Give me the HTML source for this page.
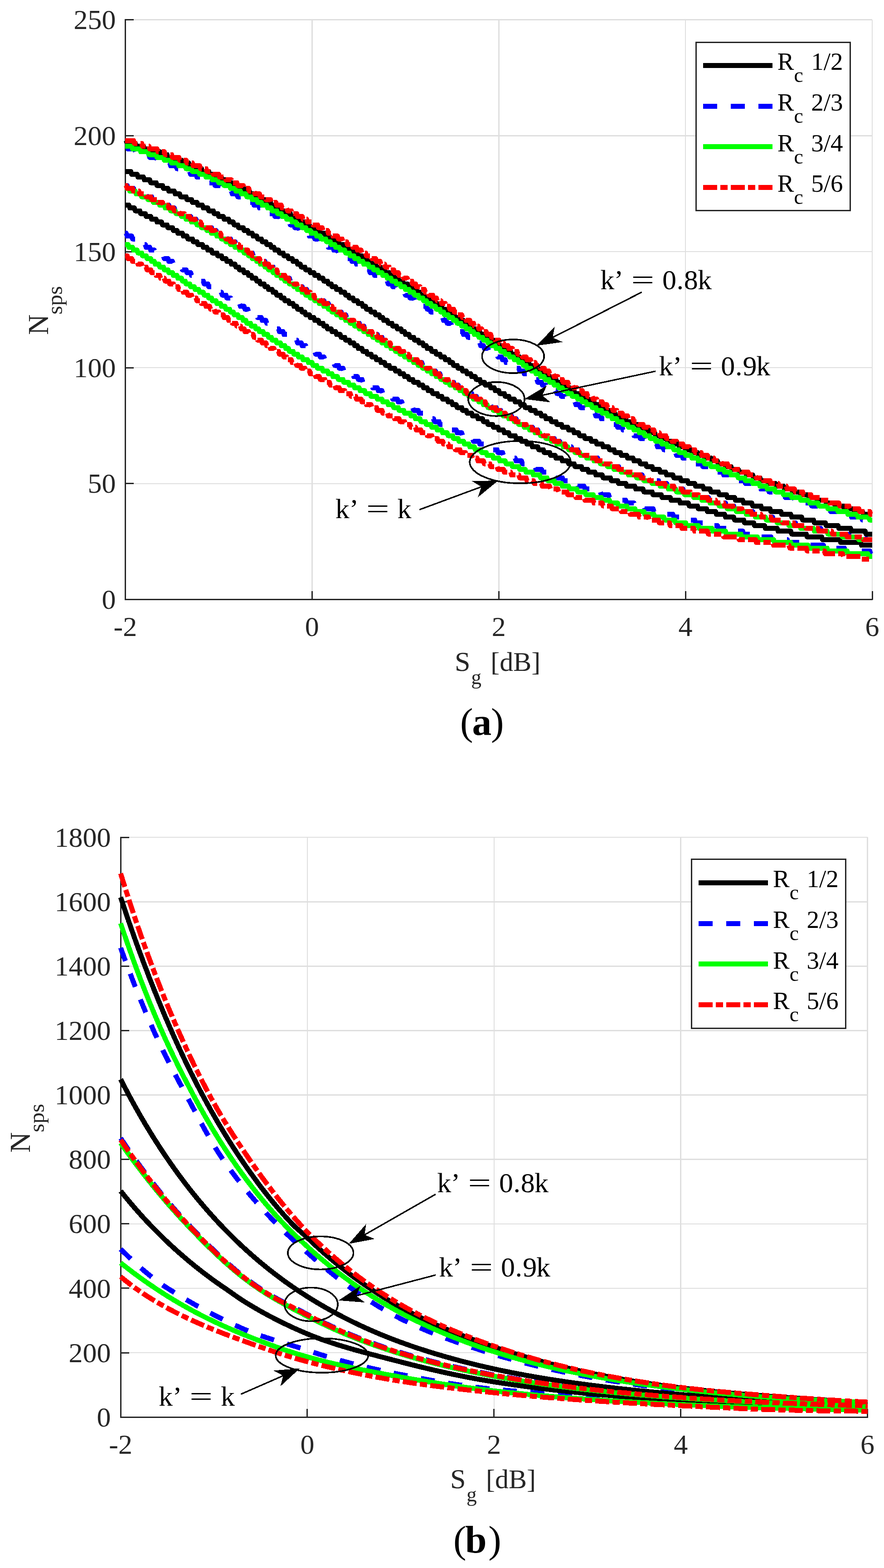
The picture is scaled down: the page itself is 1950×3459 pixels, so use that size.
<!DOCTYPE html><html><head><meta charset="utf-8"><title>Figure</title><style>html,body{margin:0;padding:0;background:#fff;}svg{display:block;}</style></head><body><svg width="1950" height="3459" viewBox="0 0 1950 3459">
<rect width="1950" height="3459" fill="#fff"/>
<g stroke="#dfdfdf" stroke-width="2.6" shape-rendering="crispEdges"><line x1="276.4" y1="43.5" x2="276.4" y2="1322.7"/><line x1="688.3" y1="43.5" x2="688.3" y2="1322.7"/><line x1="1100.2" y1="43.5" x2="1100.2" y2="1322.7"/><line x1="1512.1" y1="43.5" x2="1512.1" y2="1322.7"/><line x1="1924" y1="43.5" x2="1924" y2="1322.7"/><line x1="276.4" y1="1322.7" x2="1924" y2="1322.7"/><line x1="276.4" y1="1066.86" x2="1924" y2="1066.86"/><line x1="276.4" y1="811.02" x2="1924" y2="811.02"/><line x1="276.4" y1="555.18" x2="1924" y2="555.18"/><line x1="276.4" y1="299.34" x2="1924" y2="299.34"/><line x1="276.4" y1="43.5" x2="1924" y2="43.5"/></g>
<g stroke="#262626" stroke-width="3" shape-rendering="crispEdges"><path d="M276.4 42.3 V1322.7 H1925.2" fill="none"/><line x1="276.4" y1="1322.7" x2="276.4" y2="1304.2"/><line x1="688.3" y1="1322.7" x2="688.3" y2="1304.2"/><line x1="1100.2" y1="1322.7" x2="1100.2" y2="1304.2"/><line x1="1512.1" y1="1322.7" x2="1512.1" y2="1304.2"/><line x1="1924" y1="1322.7" x2="1924" y2="1304.2"/><line x1="276.4" y1="1322.7" x2="294.9" y2="1322.7"/><line x1="276.4" y1="1066.86" x2="294.9" y2="1066.86"/><line x1="276.4" y1="811.02" x2="294.9" y2="811.02"/><line x1="276.4" y1="555.18" x2="294.9" y2="555.18"/><line x1="276.4" y1="299.34" x2="294.9" y2="299.34"/><line x1="276.4" y1="43.5" x2="294.9" y2="43.5"/></g>
<g font-family='"Liberation Serif", "Times New Roman", serif' font-size="62" fill="#262626"><text x="255.56" y="1343.3" text-anchor="end">0</text><text x="255.56" y="1087.46" text-anchor="end">50</text><text x="255.56" y="831.62" text-anchor="end">100</text><text x="255.56" y="575.78" text-anchor="end">150</text><text x="255.56" y="319.94" text-anchor="end">200</text><text x="255.56" y="64.1" text-anchor="end">250</text><text x="276.4" y="1403.3" text-anchor="middle">-2</text><text x="688.3" y="1403.3" text-anchor="middle">0</text><text x="1100.2" y="1403.3" text-anchor="middle">2</text><text x="1512.1" y="1403.3" text-anchor="middle">4</text><text x="1924" y="1403.3" text-anchor="middle">6</text></g>
<g shape-rendering="crispEdges">
<path d="M276.4 322.4 L280.4 322.4 L282.4 328.6 L296.4 328.6 L298.4 334.8 L312.4 334.8 L314.4 341.0 L328.4 341.0 L330.4 347.2 L344.4 347.2 L346.4 353.4 L360.4 353.4 L362.4 359.6 L374.4 359.6 L376.4 365.8 L388.4 365.8 L390.4 372.0 L404.4 372.0 L406.4 378.2 L418.4 378.2 L420.4 384.4 L432.4 384.4 L434.4 390.6 L446.4 390.6 L448.4 396.8 L458.4 396.8 L460.4 403.0 L472.4 403.0 L474.4 409.2 L486.4 409.2 L488.4 415.4 L498.4 415.4 L500.4 421.6 L510.4 421.6 L512.4 427.8 L522.4 427.8 L524.4 434.0 L534.4 434.0 L536.4 440.2 L546.4 440.2 L548.4 446.4 L558.4 446.4 L560.4 452.6 L570.4 452.6 L572.4 458.8 L582.4 458.8 L584.4 465.0 L592.4 465.0 L594.4 471.2 L604.4 471.2 L606.4 477.4 L616.4 477.4 L618.4 483.6 L626.4 483.6 L628.4 489.8 L638.4 489.8 L640.4 496.0 L648.4 496.0 L650.4 502.2 L658.4 502.2 L660.4 508.4 L670.4 508.4 L672.4 514.6 L680.4 514.6 L682.4 520.8 L692.4 520.8 L694.4 527.0 L702.4 527.0 L704.4 533.2 L712.4 533.2 L714.4 539.4 L722.4 539.4 L724.4 545.6 L734.4 545.6 L736.4 551.8 L744.4 551.8 L746.4 558.0 L754.4 558.0 L756.4 564.2 L764.4 564.2 L766.4 570.4 L774.4 570.4 L776.4 576.6 L784.4 576.6 L786.4 582.8 L794.4 582.8 L796.4 589.0 L804.4 589.0 L806.4 595.2 L814.4 595.2 L816.4 601.4 L824.4 601.4 L826.4 607.6 L834.4 607.6 L836.4 613.8 L844.4 613.8 L846.4 620.0 L854.4 620.0 L856.4 626.2 L864.4 626.2 L866.4 632.4 L872.4 632.4 L874.4 638.6 L882.4 638.6 L884.4 644.8 L892.4 644.8 L894.4 651.0 L902.4 651.0 L904.4 657.2 L912.4 657.2 L914.4 663.4 L920.4 663.4 L922.4 669.6 L930.4 669.6 L932.4 675.8 L940.4 675.8 L942.4 682.0 L948.4 682.0 L950.4 688.2 L958.4 688.2 L960.4 694.4 L966.4 694.4 L968.4 700.6 L976.4 700.6 L978.4 706.8 L984.4 706.8 L986.4 713.0 L994.4 713.0 L996.4 719.2 L1002.4 719.2 L1004.4 725.4 L1012.4 725.4 L1014.4 731.6 L1020.4 731.6 L1022.4 737.8 L1030.4 737.8 L1032.4 744.0 L1040.4 744.0 L1042.4 750.2 L1048.4 750.2 L1050.4 756.4 L1058.4 756.4 L1060.4 762.6 L1066.4 762.6 L1068.4 768.8 L1076.4 768.8 L1078.4 775.0 L1086.4 775.0 L1088.4 781.2 L1096.4 781.2 L1098.4 787.4 L1106.4 787.4 L1108.4 793.6 L1114.4 793.6 L1116.4 799.8 L1124.4 799.8 L1126.4 806.0 L1134.4 806.0 L1136.4 812.2 L1144.4 812.2 L1146.4 818.4 L1154.4 818.4 L1156.4 824.6 L1164.4 824.6 L1166.4 830.8 L1174.4 830.8 L1176.4 837.0 L1184.4 837.0 L1186.4 843.2 L1194.4 843.2 L1196.4 849.4 L1204.4 849.4 L1206.4 855.6 L1214.4 855.6 L1216.4 861.8 L1226.4 861.8 L1228.4 868.0 L1236.4 868.0 L1238.4 874.2 L1246.4 874.2 L1248.4 880.4 L1256.4 880.4 L1258.4 886.6 L1268.4 886.6 L1270.4 892.8 L1278.4 892.8 L1280.4 899.0 L1290.4 899.0 L1292.4 905.2 L1302.4 905.2 L1304.4 911.4 L1312.4 911.4 L1314.4 917.6 L1324.4 917.6 L1326.4 923.8 L1336.4 923.8 L1338.4 930.0 L1348.4 930.0 L1350.4 936.2 L1360.4 936.2 L1362.4 942.4 L1372.4 942.4 L1374.4 948.6 L1384.4 948.6 L1386.4 954.8 L1396.4 954.8 L1398.4 961.0 L1410.4 961.0 L1412.4 967.2 L1422.4 967.2 L1424.4 973.4 L1436.4 973.4 L1438.4 979.6 L1448.4 979.6 L1450.4 985.8 L1462.4 985.8 L1464.4 992.0 L1476.4 992.0 L1478.4 998.2 L1490.4 998.2 L1492.4 1004.4 L1504.4 1004.4 L1506.4 1010.6 L1518.4 1010.6 L1520.4 1016.8 L1532.4 1016.8 L1534.4 1023.0 L1548.4 1023.0 L1550.4 1029.2 L1562.4 1029.2 L1564.4 1035.4 L1578.4 1035.4 L1580.4 1041.6 L1594.4 1041.6 L1596.4 1047.8 L1608.4 1047.8 L1610.4 1054.0 L1624.4 1054.0 L1626.4 1060.2 L1642.4 1060.2 L1644.4 1066.4 L1658.4 1066.4 L1660.4 1072.6 L1676.4 1072.6 L1678.4 1078.8 L1694.4 1078.8 L1696.4 1085.0 L1712.4 1085.0 L1714.4 1091.2 L1730.4 1091.2 L1732.4 1097.4 L1750.4 1097.4 L1752.4 1103.6 L1768.4 1103.6 L1770.4 1109.8 L1788.4 1109.8 L1790.4 1116.0 L1810.4 1116.0 L1812.4 1122.2 L1830.4 1122.2 L1832.4 1128.4 L1852.4 1128.4 L1854.4 1134.6 L1876.4 1134.6 L1878.4 1140.8 L1900.4 1140.8 L1902.4 1147.0 L1924.0 1147.0" fill="none" stroke="#0000ff" stroke-width="11" stroke-linejoin="round" stroke-miterlimit="10" stroke-dasharray="31 30"/>
<path d="M276.4 409.2 L280.4 409.2 L282.4 415.4 L294.4 415.4 L296.4 421.6 L308.4 421.6 L310.4 427.8 L322.4 427.8 L324.4 434.0 L334.4 434.0 L336.4 440.2 L348.4 440.2 L350.4 446.4 L360.4 446.4 L362.4 452.6 L372.4 452.6 L374.4 458.8 L384.4 458.8 L386.4 465.0 L396.4 465.0 L398.4 471.2 L408.4 471.2 L410.4 477.4 L420.4 477.4 L422.4 483.6 L432.4 483.6 L434.4 489.8 L442.4 489.8 L444.4 496.0 L454.4 496.0 L456.4 502.2 L466.4 502.2 L468.4 508.4 L476.4 508.4 L478.4 514.6 L486.4 514.6 L488.4 520.8 L498.4 520.8 L500.4 527.0 L508.4 527.0 L510.4 533.2 L518.4 533.2 L520.4 539.4 L528.4 539.4 L530.4 545.6 L538.4 545.6 L540.4 551.8 L546.4 551.8 L548.4 558.0 L556.4 558.0 L558.4 564.2 L566.4 564.2 L568.4 570.4 L574.4 570.4 L576.4 576.6 L584.4 576.6 L586.4 582.8 L592.4 582.8 L594.4 589.0 L602.4 589.0 L604.4 595.2 L610.4 595.2 L612.4 601.4 L620.4 601.4 L622.4 607.6 L628.4 607.6 L630.4 613.8 L638.4 613.8 L640.4 620.0 L648.4 620.0 L650.4 626.2 L656.4 626.2 L658.4 632.4 L666.4 632.4 L668.4 638.6 L676.4 638.6 L678.4 644.8 L684.4 644.8 L686.4 651.0 L694.4 651.0 L696.4 657.2 L704.4 657.2 L706.4 663.4 L714.4 663.4 L716.4 669.6 L724.4 669.6 L726.4 675.8 L734.4 675.8 L736.4 682.0 L742.4 682.0 L744.4 688.2 L752.4 688.2 L754.4 694.4 L762.4 694.4 L764.4 700.6 L772.4 700.6 L774.4 706.8 L782.4 706.8 L784.4 713.0 L792.4 713.0 L794.4 719.2 L802.4 719.2 L804.4 725.4 L812.4 725.4 L814.4 731.6 L822.4 731.6 L824.4 737.8 L832.4 737.8 L834.4 744.0 L842.4 744.0 L844.4 750.2 L852.4 750.2 L854.4 756.4 L862.4 756.4 L864.4 762.6 L870.4 762.6 L872.4 768.8 L880.4 768.8 L882.4 775.0 L890.4 775.0 L892.4 781.2 L900.4 781.2 L902.4 787.4 L910.4 787.4 L912.4 793.6 L920.4 793.6 L922.4 799.8 L930.4 799.8 L932.4 806.0 L940.4 806.0 L942.4 812.2 L950.4 812.2 L952.4 818.4 L960.4 818.4 L962.4 824.6 L970.4 824.6 L972.4 830.8 L980.4 830.8 L982.4 837.0 L990.4 837.0 L992.4 843.2 L1000.4 843.2 L1002.4 849.4 L1010.4 849.4 L1012.4 855.6 L1020.4 855.6 L1022.4 861.8 L1030.4 861.8 L1032.4 868.0 L1040.4 868.0 L1042.4 874.2 L1050.4 874.2 L1052.4 880.4 L1060.4 880.4 L1062.4 886.6 L1072.4 886.6 L1074.4 892.8 L1082.4 892.8 L1084.4 899.0 L1094.4 899.0 L1096.4 905.2 L1104.4 905.2 L1106.4 911.4 L1116.4 911.4 L1118.4 917.6 L1128.4 917.6 L1130.4 923.8 L1138.4 923.8 L1140.4 930.0 L1150.4 930.0 L1152.4 936.2 L1162.4 936.2 L1164.4 942.4 L1174.4 942.4 L1176.4 948.6 L1186.4 948.6 L1188.4 954.8 L1198.4 954.8 L1200.4 961.0 L1210.4 961.0 L1212.4 967.2 L1222.4 967.2 L1224.4 973.4 L1234.4 973.4 L1236.4 979.6 L1248.4 979.6 L1250.4 985.8 L1260.4 985.8 L1262.4 992.0 L1274.4 992.0 L1276.4 998.2 L1288.4 998.2 L1290.4 1004.4 L1302.4 1004.4 L1304.4 1010.6 L1318.4 1010.6 L1320.4 1016.8 L1332.4 1016.8 L1334.4 1023.0 L1348.4 1023.0 L1350.4 1029.2 L1364.4 1029.2 L1366.4 1035.4 L1382.4 1035.4 L1384.4 1041.6 L1398.4 1041.6 L1400.4 1047.8 L1416.4 1047.8 L1418.4 1054.0 L1434.4 1054.0 L1436.4 1060.2 L1452.4 1060.2 L1454.4 1066.4 L1470.4 1066.4 L1472.4 1072.6 L1488.4 1072.6 L1490.4 1078.8 L1506.4 1078.8 L1508.4 1085.0 L1526.4 1085.0 L1528.4 1091.2 L1544.4 1091.2 L1546.4 1097.4 L1562.4 1097.4 L1564.4 1103.6 L1580.4 1103.6 L1582.4 1109.8 L1600.4 1109.8 L1602.4 1116.0 L1618.4 1116.0 L1620.4 1122.2 L1638.4 1122.2 L1640.4 1128.4 L1660.4 1128.4 L1662.4 1134.6 L1680.4 1134.6 L1682.4 1140.8 L1704.4 1140.8 L1706.4 1147.0 L1728.4 1147.0 L1730.4 1153.2 L1754.4 1153.2 L1756.4 1159.4 L1782.4 1159.4 L1784.4 1165.6 L1810.4 1165.6 L1812.4 1171.8 L1840.4 1171.8 L1842.4 1178.0 L1872.4 1178.0 L1874.4 1184.2 L1908.4 1184.2 L1910.4 1190.4 L1924.0 1190.4" fill="none" stroke="#0000ff" stroke-width="11" stroke-linejoin="round" stroke-miterlimit="10" stroke-dasharray="31 30"/>
<path d="M276.4 514.6 L278.4 514.6 L280.4 520.8 L290.4 520.8 L292.4 527.0 L300.4 527.0 L302.4 533.2 L310.4 533.2 L312.4 539.4 L320.4 539.4 L322.4 545.6 L330.4 545.6 L332.4 551.8 L340.4 551.8 L342.4 558.0 L350.4 558.0 L352.4 564.2 L360.4 564.2 L362.4 570.4 L370.4 570.4 L372.4 576.6 L380.4 576.6 L382.4 582.8 L390.4 582.8 L392.4 589.0 L400.4 589.0 L402.4 595.2 L410.4 595.2 L412.4 601.4 L420.4 601.4 L422.4 607.6 L430.4 607.6 L432.4 613.8 L438.4 613.8 L440.4 620.0 L448.4 620.0 L450.4 626.2 L458.4 626.2 L460.4 632.4 L468.4 632.4 L470.4 638.6 L478.4 638.6 L480.4 644.8 L488.4 644.8 L490.4 651.0 L498.4 651.0 L500.4 657.2 L508.4 657.2 L510.4 663.4 L518.4 663.4 L520.4 669.6 L528.4 669.6 L530.4 675.8 L538.4 675.8 L540.4 682.0 L546.4 682.0 L548.4 688.2 L556.4 688.2 L558.4 694.4 L566.4 694.4 L568.4 700.6 L576.4 700.6 L578.4 706.8 L586.4 706.8 L588.4 713.0 L594.4 713.0 L596.4 719.2 L604.4 719.2 L606.4 725.4 L614.4 725.4 L616.4 731.6 L624.4 731.6 L626.4 737.8 L634.4 737.8 L636.4 744.0 L644.4 744.0 L646.4 750.2 L654.4 750.2 L656.4 756.4 L664.4 756.4 L666.4 762.6 L674.4 762.6 L676.4 768.8 L684.4 768.8 L686.4 775.0 L694.4 775.0 L696.4 781.2 L704.4 781.2 L706.4 787.4 L714.4 787.4 L716.4 793.6 L726.4 793.6 L728.4 799.8 L736.4 799.8 L738.4 806.0 L746.4 806.0 L748.4 812.2 L756.4 812.2 L758.4 818.4 L766.4 818.4 L768.4 824.6 L778.4 824.6 L780.4 830.8 L788.4 830.8 L790.4 837.0 L798.4 837.0 L800.4 843.2 L810.4 843.2 L812.4 849.4 L820.4 849.4 L822.4 855.6 L832.4 855.6 L834.4 861.8 L842.4 861.8 L844.4 868.0 L854.4 868.0 L856.4 874.2 L864.4 874.2 L866.4 880.4 L876.4 880.4 L878.4 886.6 L886.4 886.6 L888.4 892.8 L898.4 892.8 L900.4 899.0 L910.4 899.0 L912.4 905.2 L922.4 905.2 L924.4 911.4 L934.4 911.4 L936.4 917.6 L946.4 917.6 L948.4 923.8 L956.4 923.8 L958.4 930.0 L968.4 930.0 L970.4 936.2 L980.4 936.2 L982.4 942.4 L992.4 942.4 L994.4 948.6 L1006.4 948.6 L1008.4 954.8 L1018.4 954.8 L1020.4 961.0 L1030.4 961.0 L1032.4 967.2 L1042.4 967.2 L1044.4 973.4 L1056.4 973.4 L1058.4 979.6 L1068.4 979.6 L1070.4 985.8 L1082.4 985.8 L1084.4 992.0 L1096.4 992.0 L1098.4 998.2 L1108.4 998.2 L1110.4 1004.4 L1122.4 1004.4 L1124.4 1010.6 L1136.4 1010.6 L1138.4 1016.8 L1150.4 1016.8 L1152.4 1023.0 L1164.4 1023.0 L1166.4 1029.2 L1180.4 1029.2 L1182.4 1035.4 L1194.4 1035.4 L1196.4 1041.6 L1208.4 1041.6 L1210.4 1047.8 L1224.4 1047.8 L1226.4 1054.0 L1240.4 1054.0 L1242.4 1060.2 L1254.4 1060.2 L1256.4 1066.4 L1272.4 1066.4 L1274.4 1072.6 L1288.4 1072.6 L1290.4 1078.8 L1306.4 1078.8 L1308.4 1085.0 L1324.4 1085.0 L1326.4 1091.2 L1342.4 1091.2 L1344.4 1097.4 L1360.4 1097.4 L1362.4 1103.6 L1380.4 1103.6 L1382.4 1109.8 L1398.4 1109.8 L1400.4 1116.0 L1420.4 1116.0 L1422.4 1122.2 L1440.4 1122.2 L1442.4 1128.4 L1462.4 1128.4 L1464.4 1134.6 L1484.4 1134.6 L1486.4 1140.8 L1508.4 1140.8 L1510.4 1147.0 L1532.4 1147.0 L1534.4 1153.2 L1558.4 1153.2 L1560.4 1159.4 L1582.4 1159.4 L1584.4 1165.6 L1610.4 1165.6 L1612.4 1171.8 L1638.4 1171.8 L1640.4 1178.0 L1668.4 1178.0 L1670.4 1184.2 L1700.4 1184.2 L1702.4 1190.4 L1736.4 1190.4 L1738.4 1196.6 L1774.4 1196.6 L1776.4 1202.8 L1816.4 1202.8 L1818.4 1209.0 L1862.4 1209.0 L1864.4 1215.2 L1918.4 1215.2 L1920.4 1221.4 L1924.0 1221.4" fill="none" stroke="#0000ff" stroke-width="11" stroke-linejoin="round" stroke-miterlimit="10" stroke-dasharray="31 30"/>
<path d="M276.4 310.0 L278.4 310.0 L280.4 316.2 L298.4 316.2 L300.4 322.4 L316.4 322.4 L318.4 328.6 L334.4 328.6 L336.4 334.8 L352.4 334.8 L354.4 341.0 L368.4 341.0 L370.4 347.2 L384.4 347.2 L386.4 353.4 L400.4 353.4 L402.4 359.6 L416.4 359.6 L418.4 365.8 L430.4 365.8 L432.4 372.0 L444.4 372.0 L446.4 378.2 L460.4 378.2 L462.4 384.4 L474.4 384.4 L476.4 390.6 L488.4 390.6 L490.4 396.8 L500.4 396.8 L502.4 403.0 L514.4 403.0 L516.4 409.2 L526.4 409.2 L528.4 415.4 L538.4 415.4 L540.4 421.6 L550.4 421.6 L552.4 427.8 L562.4 427.8 L564.4 434.0 L574.4 434.0 L576.4 440.2 L584.4 440.2 L586.4 446.4 L596.4 446.4 L598.4 452.6 L606.4 452.6 L608.4 458.8 L618.4 458.8 L620.4 465.0 L628.4 465.0 L630.4 471.2 L640.4 471.2 L642.4 477.4 L650.4 477.4 L652.4 483.6 L662.4 483.6 L664.4 489.8 L672.4 489.8 L674.4 496.0 L682.4 496.0 L684.4 502.2 L694.4 502.2 L696.4 508.4 L704.4 508.4 L706.4 514.6 L716.4 514.6 L718.4 520.8 L726.4 520.8 L728.4 527.0 L736.4 527.0 L738.4 533.2 L746.4 533.2 L748.4 539.4 L758.4 539.4 L760.4 545.6 L768.4 545.6 L770.4 551.8 L778.4 551.8 L780.4 558.0 L788.4 558.0 L790.4 564.2 L798.4 564.2 L800.4 570.4 L808.4 570.4 L810.4 576.6 L818.4 576.6 L820.4 582.8 L828.4 582.8 L830.4 589.0 L838.4 589.0 L840.4 595.2 L848.4 595.2 L850.4 601.4 L858.4 601.4 L860.4 607.6 L868.4 607.6 L870.4 613.8 L878.4 613.8 L880.4 620.0 L888.4 620.0 L890.4 626.2 L898.4 626.2 L900.4 632.4 L908.4 632.4 L910.4 638.6 L918.4 638.6 L920.4 644.8 L926.4 644.8 L928.4 651.0 L936.4 651.0 L938.4 657.2 L946.4 657.2 L948.4 663.4 L956.4 663.4 L958.4 669.6 L964.4 669.6 L966.4 675.8 L974.4 675.8 L976.4 682.0 L984.4 682.0 L986.4 688.2 L992.4 688.2 L994.4 694.4 L1002.4 694.4 L1004.4 700.6 L1012.4 700.6 L1014.4 706.8 L1022.4 706.8 L1024.4 713.0 L1030.4 713.0 L1032.4 719.2 L1040.4 719.2 L1042.4 725.4 L1050.4 725.4 L1052.4 731.6 L1058.4 731.6 L1060.4 737.8 L1068.4 737.8 L1070.4 744.0 L1078.4 744.0 L1080.4 750.2 L1088.4 750.2 L1090.4 756.4 L1098.4 756.4 L1100.4 762.6 L1108.4 762.6 L1110.4 768.8 L1116.4 768.8 L1118.4 775.0 L1126.4 775.0 L1128.4 781.2 L1136.4 781.2 L1138.4 787.4 L1146.4 787.4 L1148.4 793.6 L1156.4 793.6 L1158.4 799.8 L1166.4 799.8 L1168.4 806.0 L1176.4 806.0 L1178.4 812.2 L1186.4 812.2 L1188.4 818.4 L1196.4 818.4 L1198.4 824.6 L1206.4 824.6 L1208.4 830.8 L1214.4 830.8 L1216.4 837.0 L1226.4 837.0 L1228.4 843.2 L1236.4 843.2 L1238.4 849.4 L1246.4 849.4 L1248.4 855.6 L1256.4 855.6 L1258.4 861.8 L1266.4 861.8 L1268.4 868.0 L1276.4 868.0 L1278.4 874.2 L1288.4 874.2 L1290.4 880.4 L1298.4 880.4 L1300.4 886.6 L1310.4 886.6 L1312.4 892.8 L1322.4 892.8 L1324.4 899.0 L1334.4 899.0 L1336.4 905.2 L1344.4 905.2 L1346.4 911.4 L1356.4 911.4 L1358.4 917.6 L1368.4 917.6 L1370.4 923.8 L1380.4 923.8 L1382.4 930.0 L1392.4 930.0 L1394.4 936.2 L1406.4 936.2 L1408.4 942.4 L1418.4 942.4 L1420.4 948.6 L1430.4 948.6 L1432.4 954.8 L1444.4 954.8 L1446.4 961.0 L1456.4 961.0 L1458.4 967.2 L1470.4 967.2 L1472.4 973.4 L1482.4 973.4 L1484.4 979.6 L1496.4 979.6 L1498.4 985.8 L1510.4 985.8 L1512.4 992.0 L1524.4 992.0 L1526.4 998.2 L1538.4 998.2 L1540.4 1004.4 L1552.4 1004.4 L1554.4 1010.6 L1568.4 1010.6 L1570.4 1016.8 L1582.4 1016.8 L1584.4 1023.0 L1598.4 1023.0 L1600.4 1029.2 L1612.4 1029.2 L1614.4 1035.4 L1628.4 1035.4 L1630.4 1041.6 L1644.4 1041.6 L1646.4 1047.8 L1660.4 1047.8 L1662.4 1054.0 L1676.4 1054.0 L1678.4 1060.2 L1692.4 1060.2 L1694.4 1066.4 L1710.4 1066.4 L1712.4 1072.6 L1728.4 1072.6 L1730.4 1078.8 L1746.4 1078.8 L1748.4 1085.0 L1764.4 1085.0 L1766.4 1091.2 L1782.4 1091.2 L1784.4 1097.4 L1800.4 1097.4 L1802.4 1103.6 L1820.4 1103.6 L1822.4 1109.8 L1840.4 1109.8 L1842.4 1116.0 L1860.4 1116.0 L1862.4 1122.2 L1882.4 1122.2 L1884.4 1128.4 L1902.4 1128.4 L1904.4 1134.6 L1924.0 1134.6" fill="none" stroke="#000000" stroke-width="11" stroke-linejoin="round" stroke-miterlimit="10"/>
<path d="M276.4 378.2 L288.4 378.2 L290.4 384.4 L302.4 384.4 L304.4 390.6 L316.4 390.6 L318.4 396.8 L330.4 396.8 L332.4 403.0 L344.4 403.0 L346.4 409.2 L358.4 409.2 L360.4 415.4 L370.4 415.4 L372.4 421.6 L384.4 421.6 L386.4 427.8 L396.4 427.8 L398.4 434.0 L410.4 434.0 L412.4 440.2 L422.4 440.2 L424.4 446.4 L434.4 446.4 L436.4 452.6 L446.4 452.6 L448.4 458.8 L458.4 458.8 L460.4 465.0 L470.4 465.0 L472.4 471.2 L480.4 471.2 L482.4 477.4 L492.4 477.4 L494.4 483.6 L504.4 483.6 L506.4 489.8 L514.4 489.8 L516.4 496.0 L524.4 496.0 L526.4 502.2 L536.4 502.2 L538.4 508.4 L546.4 508.4 L548.4 514.6 L556.4 514.6 L558.4 520.8 L566.4 520.8 L568.4 527.0 L576.4 527.0 L578.4 533.2 L586.4 533.2 L588.4 539.4 L596.4 539.4 L598.4 545.6 L604.4 545.6 L606.4 551.8 L614.4 551.8 L616.4 558.0 L624.4 558.0 L626.4 564.2 L634.4 564.2 L636.4 570.4 L644.4 570.4 L646.4 576.6 L654.4 576.6 L656.4 582.8 L662.4 582.8 L664.4 589.0 L672.4 589.0 L674.4 595.2 L682.4 595.2 L684.4 601.4 L692.4 601.4 L694.4 607.6 L702.4 607.6 L704.4 613.8 L712.4 613.8 L714.4 620.0 L722.4 620.0 L724.4 626.2 L730.4 626.2 L732.4 632.4 L740.4 632.4 L742.4 638.6 L750.4 638.6 L752.4 644.8 L760.4 644.8 L762.4 651.0 L768.4 651.0 L770.4 657.2 L778.4 657.2 L780.4 663.4 L788.4 663.4 L790.4 669.6 L798.4 669.6 L800.4 675.8 L806.4 675.8 L808.4 682.0 L816.4 682.0 L818.4 688.2 L826.4 688.2 L828.4 694.4 L836.4 694.4 L838.4 700.6 L844.4 700.6 L846.4 706.8 L854.4 706.8 L856.4 713.0 L864.4 713.0 L866.4 719.2 L874.4 719.2 L876.4 725.4 L884.4 725.4 L886.4 731.6 L892.4 731.6 L894.4 737.8 L902.4 737.8 L904.4 744.0 L912.4 744.0 L914.4 750.2 L922.4 750.2 L924.4 756.4 L932.4 756.4 L934.4 762.6 L940.4 762.6 L942.4 768.8 L950.4 768.8 L952.4 775.0 L960.4 775.0 L962.4 781.2 L970.4 781.2 L972.4 787.4 L980.4 787.4 L982.4 793.6 L990.4 793.6 L992.4 799.8 L998.4 799.8 L1000.4 806.0 L1008.4 806.0 L1010.4 812.2 L1018.4 812.2 L1020.4 818.4 L1028.4 818.4 L1030.4 824.6 L1038.4 824.6 L1040.4 830.8 L1048.4 830.8 L1050.4 837.0 L1058.4 837.0 L1060.4 843.2 L1068.4 843.2 L1070.4 849.4 L1080.4 849.4 L1082.4 855.6 L1090.4 855.6 L1092.4 861.8 L1100.4 861.8 L1102.4 868.0 L1112.4 868.0 L1114.4 874.2 L1122.4 874.2 L1124.4 880.4 L1134.4 880.4 L1136.4 886.6 L1146.4 886.6 L1148.4 892.8 L1156.4 892.8 L1158.4 899.0 L1168.4 899.0 L1170.4 905.2 L1180.4 905.2 L1182.4 911.4 L1192.4 911.4 L1194.4 917.6 L1202.4 917.6 L1204.4 923.8 L1214.4 923.8 L1216.4 930.0 L1226.4 930.0 L1228.4 936.2 L1238.4 936.2 L1240.4 942.4 L1252.4 942.4 L1254.4 948.6 L1264.4 948.6 L1266.4 954.8 L1276.4 954.8 L1278.4 961.0 L1288.4 961.0 L1290.4 967.2 L1302.4 967.2 L1304.4 973.4 L1314.4 973.4 L1316.4 979.6 L1328.4 979.6 L1330.4 985.8 L1342.4 985.8 L1344.4 992.0 L1354.4 992.0 L1356.4 998.2 L1368.4 998.2 L1370.4 1004.4 L1382.4 1004.4 L1384.4 1010.6 L1396.4 1010.6 L1398.4 1016.8 L1410.4 1016.8 L1412.4 1023.0 L1424.4 1023.0 L1426.4 1029.2 L1438.4 1029.2 L1440.4 1035.4 L1454.4 1035.4 L1456.4 1041.6 L1468.4 1041.6 L1470.4 1047.8 L1484.4 1047.8 L1486.4 1054.0 L1500.4 1054.0 L1502.4 1060.2 L1516.4 1060.2 L1518.4 1066.4 L1532.4 1066.4 L1534.4 1072.6 L1550.4 1072.6 L1552.4 1078.8 L1566.4 1078.8 L1568.4 1085.0 L1584.4 1085.0 L1586.4 1091.2 L1602.4 1091.2 L1604.4 1097.4 L1620.4 1097.4 L1622.4 1103.6 L1638.4 1103.6 L1640.4 1109.8 L1658.4 1109.8 L1660.4 1116.0 L1678.4 1116.0 L1680.4 1122.2 L1698.4 1122.2 L1700.4 1128.4 L1722.4 1128.4 L1724.4 1134.6 L1744.4 1134.6 L1746.4 1140.8 L1768.4 1140.8 L1770.4 1147.0 L1794.4 1147.0 L1796.4 1153.2 L1820.4 1153.2 L1822.4 1159.4 L1848.4 1159.4 L1850.4 1165.6 L1876.4 1165.6 L1878.4 1171.8 L1908.4 1171.8 L1910.4 1178.0 L1924.0 1178.0" fill="none" stroke="#000000" stroke-width="11" stroke-linejoin="round" stroke-miterlimit="10"/>
<path d="M276.4 452.6 L284.4 452.6 L286.4 458.8 L296.4 458.8 L298.4 465.0 L308.4 465.0 L310.4 471.2 L320.4 471.2 L322.4 477.4 L332.4 477.4 L334.4 483.6 L344.4 483.6 L346.4 489.8 L356.4 489.8 L358.4 496.0 L368.4 496.0 L370.4 502.2 L380.4 502.2 L382.4 508.4 L390.4 508.4 L392.4 514.6 L402.4 514.6 L404.4 520.8 L412.4 520.8 L414.4 527.0 L424.4 527.0 L426.4 533.2 L434.4 533.2 L436.4 539.4 L446.4 539.4 L448.4 545.6 L456.4 545.6 L458.4 551.8 L466.4 551.8 L468.4 558.0 L478.4 558.0 L480.4 564.2 L488.4 564.2 L490.4 570.4 L498.4 570.4 L500.4 576.6 L508.4 576.6 L510.4 582.8 L518.4 582.8 L520.4 589.0 L526.4 589.0 L528.4 595.2 L536.4 595.2 L538.4 601.4 L546.4 601.4 L548.4 607.6 L554.4 607.6 L556.4 613.8 L564.4 613.8 L566.4 620.0 L572.4 620.0 L574.4 626.2 L582.4 626.2 L584.4 632.4 L590.4 632.4 L592.4 638.6 L600.4 638.6 L602.4 644.8 L608.4 644.8 L610.4 651.0 L618.4 651.0 L620.4 657.2 L626.4 657.2 L628.4 663.4 L636.4 663.4 L638.4 669.6 L646.4 669.6 L648.4 675.8 L654.4 675.8 L656.4 682.0 L664.4 682.0 L666.4 688.2 L672.4 688.2 L674.4 694.4 L682.4 694.4 L684.4 700.6 L692.4 700.6 L694.4 706.8 L702.4 706.8 L704.4 713.0 L712.4 713.0 L714.4 719.2 L720.4 719.2 L722.4 725.4 L730.4 725.4 L732.4 731.6 L740.4 731.6 L742.4 737.8 L750.4 737.8 L752.4 744.0 L760.4 744.0 L762.4 750.2 L770.4 750.2 L772.4 756.4 L780.4 756.4 L782.4 762.6 L788.4 762.6 L790.4 768.8 L798.4 768.8 L800.4 775.0 L808.4 775.0 L810.4 781.2 L818.4 781.2 L820.4 787.4 L828.4 787.4 L830.4 793.6 L838.4 793.6 L840.4 799.8 L848.4 799.8 L850.4 806.0 L858.4 806.0 L860.4 812.2 L870.4 812.2 L872.4 818.4 L880.4 818.4 L882.4 824.6 L890.4 824.6 L892.4 830.8 L900.4 830.8 L902.4 837.0 L910.4 837.0 L912.4 843.2 L922.4 843.2 L924.4 849.4 L932.4 849.4 L934.4 855.6 L942.4 855.6 L944.4 861.8 L952.4 861.8 L954.4 868.0 L964.4 868.0 L966.4 874.2 L974.4 874.2 L976.4 880.4 L986.4 880.4 L988.4 886.6 L996.4 886.6 L998.4 892.8 L1006.4 892.8 L1008.4 899.0 L1018.4 899.0 L1020.4 905.2 L1028.4 905.2 L1030.4 911.4 L1040.4 911.4 L1042.4 917.6 L1052.4 917.6 L1054.4 923.8 L1064.4 923.8 L1066.4 930.0 L1074.4 930.0 L1076.4 936.2 L1086.4 936.2 L1088.4 942.4 L1098.4 942.4 L1100.4 948.6 L1110.4 948.6 L1112.4 954.8 L1122.4 954.8 L1124.4 961.0 L1136.4 961.0 L1138.4 967.2 L1148.4 967.2 L1150.4 973.4 L1160.4 973.4 L1162.4 979.6 L1172.4 979.6 L1174.4 985.8 L1186.4 985.8 L1188.4 992.0 L1198.4 992.0 L1200.4 998.2 L1212.4 998.2 L1214.4 1004.4 L1224.4 1004.4 L1226.4 1010.6 L1238.4 1010.6 L1240.4 1016.8 L1252.4 1016.8 L1254.4 1023.0 L1266.4 1023.0 L1268.4 1029.2 L1282.4 1029.2 L1284.4 1035.4 L1296.4 1035.4 L1298.4 1041.6 L1312.4 1041.6 L1314.4 1047.8 L1328.4 1047.8 L1330.4 1054.0 L1346.4 1054.0 L1348.4 1060.2 L1362.4 1060.2 L1364.4 1066.4 L1380.4 1066.4 L1382.4 1072.6 L1400.4 1072.6 L1402.4 1078.8 L1418.4 1078.8 L1420.4 1085.0 L1438.4 1085.0 L1440.4 1091.2 L1458.4 1091.2 L1460.4 1097.4 L1478.4 1097.4 L1480.4 1103.6 L1498.4 1103.6 L1500.4 1109.8 L1518.4 1109.8 L1520.4 1116.0 L1538.4 1116.0 L1540.4 1122.2 L1558.4 1122.2 L1560.4 1128.4 L1578.4 1128.4 L1580.4 1134.6 L1598.4 1134.6 L1600.4 1140.8 L1618.4 1140.8 L1620.4 1147.0 L1640.4 1147.0 L1642.4 1153.2 L1662.4 1153.2 L1664.4 1159.4 L1686.4 1159.4 L1688.4 1165.6 L1714.4 1165.6 L1716.4 1171.8 L1744.4 1171.8 L1746.4 1178.0 L1778.4 1178.0 L1780.4 1184.2 L1812.4 1184.2 L1814.4 1190.4 L1852.4 1190.4 L1854.4 1196.6 L1898.4 1196.6 L1900.4 1202.8 L1924.0 1202.8" fill="none" stroke="#000000" stroke-width="11" stroke-linejoin="round" stroke-miterlimit="10"/>
<path d="M276.4 322.4 L290.4 322.4 L292.4 328.6 L308.4 328.6 L310.4 334.8 L326.4 334.8 L328.4 341.0 L344.4 341.0 L346.4 347.2 L360.4 347.2 L362.4 353.4 L376.4 353.4 L378.4 359.6 L392.4 359.6 L394.4 365.8 L408.4 365.8 L410.4 372.0 L422.4 372.0 L424.4 378.2 L438.4 378.2 L440.4 384.4 L452.4 384.4 L454.4 390.6 L466.4 390.6 L468.4 396.8 L480.4 396.8 L482.4 403.0 L492.4 403.0 L494.4 409.2 L506.4 409.2 L508.4 415.4 L518.4 415.4 L520.4 421.6 L530.4 421.6 L532.4 427.8 L542.4 427.8 L544.4 434.0 L554.4 434.0 L556.4 440.2 L566.4 440.2 L568.4 446.4 L576.4 446.4 L578.4 452.6 L588.4 452.6 L590.4 458.8 L598.4 458.8 L600.4 465.0 L610.4 465.0 L612.4 471.2 L620.4 471.2 L622.4 477.4 L630.4 477.4 L632.4 483.6 L642.4 483.6 L644.4 489.8 L652.4 489.8 L654.4 496.0 L664.4 496.0 L666.4 502.2 L674.4 502.2 L676.4 508.4 L684.4 508.4 L686.4 514.6 L696.4 514.6 L698.4 520.8 L706.4 520.8 L708.4 527.0 L718.4 527.0 L720.4 533.2 L728.4 533.2 L730.4 539.4 L738.4 539.4 L740.4 545.6 L748.4 545.6 L750.4 551.8 L760.4 551.8 L762.4 558.0 L770.4 558.0 L772.4 564.2 L780.4 564.2 L782.4 570.4 L790.4 570.4 L792.4 576.6 L800.4 576.6 L802.4 582.8 L812.4 582.8 L814.4 589.0 L822.4 589.0 L824.4 595.2 L832.4 595.2 L834.4 601.4 L842.4 601.4 L844.4 607.6 L852.4 607.6 L854.4 613.8 L862.4 613.8 L864.4 620.0 L872.4 620.0 L874.4 626.2 L882.4 626.2 L884.4 632.4 L892.4 632.4 L894.4 638.6 L902.4 638.6 L904.4 644.8 L912.4 644.8 L914.4 651.0 L922.4 651.0 L924.4 657.2 L932.4 657.2 L934.4 663.4 L940.4 663.4 L942.4 669.6 L950.4 669.6 L952.4 675.8 L960.4 675.8 L962.4 682.0 L970.4 682.0 L972.4 688.2 L978.4 688.2 L980.4 694.4 L988.4 694.4 L990.4 700.6 L998.4 700.6 L1000.4 706.8 L1006.4 706.8 L1008.4 713.0 L1016.4 713.0 L1018.4 719.2 L1026.4 719.2 L1028.4 725.4 L1036.4 725.4 L1038.4 731.6 L1044.4 731.6 L1046.4 737.8 L1054.4 737.8 L1056.4 744.0 L1064.4 744.0 L1066.4 750.2 L1074.4 750.2 L1076.4 756.4 L1082.4 756.4 L1084.4 762.6 L1092.4 762.6 L1094.4 768.8 L1102.4 768.8 L1104.4 775.0 L1112.4 775.0 L1114.4 781.2 L1122.4 781.2 L1124.4 787.4 L1132.4 787.4 L1134.4 793.6 L1142.4 793.6 L1144.4 799.8 L1152.4 799.8 L1154.4 806.0 L1160.4 806.0 L1162.4 812.2 L1170.4 812.2 L1172.4 818.4 L1180.4 818.4 L1182.4 824.6 L1190.4 824.6 L1192.4 830.8 L1200.4 830.8 L1202.4 837.0 L1210.4 837.0 L1212.4 843.2 L1220.4 843.2 L1222.4 849.4 L1230.4 849.4 L1232.4 855.6 L1240.4 855.6 L1242.4 861.8 L1250.4 861.8 L1252.4 868.0 L1260.4 868.0 L1262.4 874.2 L1272.4 874.2 L1274.4 880.4 L1282.4 880.4 L1284.4 886.6 L1292.4 886.6 L1294.4 892.8 L1304.4 892.8 L1306.4 899.0 L1314.4 899.0 L1316.4 905.2 L1326.4 905.2 L1328.4 911.4 L1338.4 911.4 L1340.4 917.6 L1348.4 917.6 L1350.4 923.8 L1360.4 923.8 L1362.4 930.0 L1372.4 930.0 L1374.4 936.2 L1384.4 936.2 L1386.4 942.4 L1396.4 942.4 L1398.4 948.6 L1408.4 948.6 L1410.4 954.8 L1420.4 954.8 L1422.4 961.0 L1432.4 961.0 L1434.4 967.2 L1444.4 967.2 L1446.4 973.4 L1458.4 973.4 L1460.4 979.6 L1470.4 979.6 L1472.4 985.8 L1484.4 985.8 L1486.4 992.0 L1496.4 992.0 L1498.4 998.2 L1510.4 998.2 L1512.4 1004.4 L1524.4 1004.4 L1526.4 1010.6 L1538.4 1010.6 L1540.4 1016.8 L1552.4 1016.8 L1554.4 1023.0 L1566.4 1023.0 L1568.4 1029.2 L1582.4 1029.2 L1584.4 1035.4 L1596.4 1035.4 L1598.4 1041.6 L1610.4 1041.6 L1612.4 1047.8 L1626.4 1047.8 L1628.4 1054.0 L1642.4 1054.0 L1644.4 1060.2 L1658.4 1060.2 L1660.4 1066.4 L1674.4 1066.4 L1676.4 1072.6 L1690.4 1072.6 L1692.4 1078.8 L1708.4 1078.8 L1710.4 1085.0 L1726.4 1085.0 L1728.4 1091.2 L1744.4 1091.2 L1746.4 1097.4 L1764.4 1097.4 L1766.4 1103.6 L1784.4 1103.6 L1786.4 1109.8 L1804.4 1109.8 L1806.4 1116.0 L1824.4 1116.0 L1826.4 1122.2 L1846.4 1122.2 L1848.4 1128.4 L1868.4 1128.4 L1870.4 1134.6 L1890.4 1134.6 L1892.4 1140.8 L1916.4 1140.8 L1918.4 1147.0 L1924.0 1147.0" fill="none" stroke="#00ff00" stroke-width="11" stroke-linejoin="round" stroke-miterlimit="10"/>
<path d="M276.4 415.4 L284.4 415.4 L286.4 421.6 L298.4 421.6 L300.4 427.8 L310.4 427.8 L312.4 434.0 L324.4 434.0 L326.4 440.2 L336.4 440.2 L338.4 446.4 L350.4 446.4 L352.4 452.6 L362.4 452.6 L364.4 458.8 L374.4 458.8 L376.4 465.0 L386.4 465.0 L388.4 471.2 L398.4 471.2 L400.4 477.4 L408.4 477.4 L410.4 483.6 L420.4 483.6 L422.4 489.8 L432.4 489.8 L434.4 496.0 L442.4 496.0 L444.4 502.2 L454.4 502.2 L456.4 508.4 L464.4 508.4 L466.4 514.6 L476.4 514.6 L478.4 520.8 L486.4 520.8 L488.4 527.0 L496.4 527.0 L498.4 533.2 L506.4 533.2 L508.4 539.4 L516.4 539.4 L518.4 545.6 L526.4 545.6 L528.4 551.8 L536.4 551.8 L538.4 558.0 L546.4 558.0 L548.4 564.2 L554.4 564.2 L556.4 570.4 L564.4 570.4 L566.4 576.6 L572.4 576.6 L574.4 582.8 L582.4 582.8 L584.4 589.0 L590.4 589.0 L592.4 595.2 L600.4 595.2 L602.4 601.4 L608.4 601.4 L610.4 607.6 L618.4 607.6 L620.4 613.8 L626.4 613.8 L628.4 620.0 L636.4 620.0 L638.4 626.2 L646.4 626.2 L648.4 632.4 L654.4 632.4 L656.4 638.6 L664.4 638.6 L666.4 644.8 L672.4 644.8 L674.4 651.0 L682.4 651.0 L684.4 657.2 L692.4 657.2 L694.4 663.4 L702.4 663.4 L704.4 669.6 L712.4 669.6 L714.4 675.8 L722.4 675.8 L724.4 682.0 L730.4 682.0 L732.4 688.2 L740.4 688.2 L742.4 694.4 L750.4 694.4 L752.4 700.6 L760.4 700.6 L762.4 706.8 L770.4 706.8 L772.4 713.0 L780.4 713.0 L782.4 719.2 L790.4 719.2 L792.4 725.4 L800.4 725.4 L802.4 731.6 L810.4 731.6 L812.4 737.8 L820.4 737.8 L822.4 744.0 L830.4 744.0 L832.4 750.2 L840.4 750.2 L842.4 756.4 L850.4 756.4 L852.4 762.6 L860.4 762.6 L862.4 768.8 L870.4 768.8 L872.4 775.0 L880.4 775.0 L882.4 781.2 L890.4 781.2 L892.4 787.4 L900.4 787.4 L902.4 793.6 L910.4 793.6 L912.4 799.8 L920.4 799.8 L922.4 806.0 L930.4 806.0 L932.4 812.2 L940.4 812.2 L942.4 818.4 L950.4 818.4 L952.4 824.6 L960.4 824.6 L962.4 830.8 L970.4 830.8 L972.4 837.0 L980.4 837.0 L982.4 843.2 L990.4 843.2 L992.4 849.4 L1002.4 849.4 L1004.4 855.6 L1012.4 855.6 L1014.4 861.8 L1022.4 861.8 L1024.4 868.0 L1032.4 868.0 L1034.4 874.2 L1042.4 874.2 L1044.4 880.4 L1054.4 880.4 L1056.4 886.6 L1064.4 886.6 L1066.4 892.8 L1074.4 892.8 L1076.4 899.0 L1086.4 899.0 L1088.4 905.2 L1098.4 905.2 L1100.4 911.4 L1108.4 911.4 L1110.4 917.6 L1120.4 917.6 L1122.4 923.8 L1132.4 923.8 L1134.4 930.0 L1142.4 930.0 L1144.4 936.2 L1154.4 936.2 L1156.4 942.4 L1166.4 942.4 L1168.4 948.6 L1178.4 948.6 L1180.4 954.8 L1190.4 954.8 L1192.4 961.0 L1202.4 961.0 L1204.4 967.2 L1214.4 967.2 L1216.4 973.4 L1226.4 973.4 L1228.4 979.6 L1240.4 979.6 L1242.4 985.8 L1252.4 985.8 L1254.4 992.0 L1266.4 992.0 L1268.4 998.2 L1278.4 998.2 L1280.4 1004.4 L1292.4 1004.4 L1294.4 1010.6 L1308.4 1010.6 L1310.4 1016.8 L1322.4 1016.8 L1324.4 1023.0 L1338.4 1023.0 L1340.4 1029.2 L1352.4 1029.2 L1354.4 1035.4 L1368.4 1035.4 L1370.4 1041.6 L1384.4 1041.6 L1386.4 1047.8 L1402.4 1047.8 L1404.4 1054.0 L1418.4 1054.0 L1420.4 1060.2 L1436.4 1060.2 L1438.4 1066.4 L1454.4 1066.4 L1456.4 1072.6 L1472.4 1072.6 L1474.4 1078.8 L1490.4 1078.8 L1492.4 1085.0 L1508.4 1085.0 L1510.4 1091.2 L1528.4 1091.2 L1530.4 1097.4 L1546.4 1097.4 L1548.4 1103.6 L1564.4 1103.6 L1566.4 1109.8 L1584.4 1109.8 L1586.4 1116.0 L1602.4 1116.0 L1604.4 1122.2 L1622.4 1122.2 L1624.4 1128.4 L1644.4 1128.4 L1646.4 1134.6 L1664.4 1134.6 L1666.4 1140.8 L1688.4 1140.8 L1690.4 1147.0 L1712.4 1147.0 L1714.4 1153.2 L1738.4 1153.2 L1740.4 1159.4 L1764.4 1159.4 L1766.4 1165.6 L1794.4 1165.6 L1796.4 1171.8 L1824.4 1171.8 L1826.4 1178.0 L1856.4 1178.0 L1858.4 1184.2 L1892.4 1184.2 L1894.4 1190.4 L1924.0 1190.4" fill="none" stroke="#00ff00" stroke-width="11" stroke-linejoin="round" stroke-miterlimit="10"/>
<path d="M276.4 539.4 L282.4 539.4 L284.4 545.6 L292.4 545.6 L294.4 551.8 L302.4 551.8 L304.4 558.0 L312.4 558.0 L314.4 564.2 L322.4 564.2 L324.4 570.4 L332.4 570.4 L334.4 576.6 L340.4 576.6 L342.4 582.8 L350.4 582.8 L352.4 589.0 L360.4 589.0 L362.4 595.2 L370.4 595.2 L372.4 601.4 L380.4 601.4 L382.4 607.6 L390.4 607.6 L392.4 613.8 L400.4 613.8 L402.4 620.0 L408.4 620.0 L410.4 626.2 L418.4 626.2 L420.4 632.4 L428.4 632.4 L430.4 638.6 L438.4 638.6 L440.4 644.8 L448.4 644.8 L450.4 651.0 L458.4 651.0 L460.4 657.2 L466.4 657.2 L468.4 663.4 L476.4 663.4 L478.4 669.6 L486.4 669.6 L488.4 675.8 L496.4 675.8 L498.4 682.0 L506.4 682.0 L508.4 688.2 L514.4 688.2 L516.4 694.4 L524.4 694.4 L526.4 700.6 L534.4 700.6 L536.4 706.8 L542.4 706.8 L544.4 713.0 L552.4 713.0 L554.4 719.2 L562.4 719.2 L564.4 725.4 L570.4 725.4 L572.4 731.6 L580.4 731.6 L582.4 737.8 L590.4 737.8 L592.4 744.0 L598.4 744.0 L600.4 750.2 L608.4 750.2 L610.4 756.4 L618.4 756.4 L620.4 762.6 L628.4 762.6 L630.4 768.8 L636.4 768.8 L638.4 775.0 L646.4 775.0 L648.4 781.2 L656.4 781.2 L658.4 787.4 L666.4 787.4 L668.4 793.6 L678.4 793.6 L680.4 799.8 L688.4 799.8 L690.4 806.0 L698.4 806.0 L700.4 812.2 L710.4 812.2 L712.4 818.4 L722.4 818.4 L724.4 824.6 L732.4 824.6 L734.4 830.8 L744.4 830.8 L746.4 837.0 L756.4 837.0 L758.4 843.2 L768.4 843.2 L770.4 849.4 L780.4 849.4 L782.4 855.6 L792.4 855.6 L794.4 861.8 L804.4 861.8 L806.4 868.0 L816.4 868.0 L818.4 874.2 L830.4 874.2 L832.4 880.4 L842.4 880.4 L844.4 886.6 L854.4 886.6 L856.4 892.8 L866.4 892.8 L868.4 899.0 L878.4 899.0 L880.4 905.2 L890.4 905.2 L892.4 911.4 L904.4 911.4 L906.4 917.6 L914.4 917.6 L916.4 923.8 L926.4 923.8 L928.4 930.0 L938.4 930.0 L940.4 936.2 L950.4 936.2 L952.4 942.4 L962.4 942.4 L964.4 948.6 L974.4 948.6 L976.4 954.8 L986.4 954.8 L988.4 961.0 L998.4 961.0 L1000.4 967.2 L1010.4 967.2 L1012.4 973.4 L1022.4 973.4 L1024.4 979.6 L1034.4 979.6 L1036.4 985.8 L1046.4 985.8 L1048.4 992.0 L1060.4 992.0 L1062.4 998.2 L1072.4 998.2 L1074.4 1004.4 L1086.4 1004.4 L1088.4 1010.6 L1100.4 1010.6 L1102.4 1016.8 L1114.4 1016.8 L1116.4 1023.0 L1128.4 1023.0 L1130.4 1029.2 L1144.4 1029.2 L1146.4 1035.4 L1158.4 1035.4 L1160.4 1041.6 L1174.4 1041.6 L1176.4 1047.8 L1190.4 1047.8 L1192.4 1054.0 L1206.4 1054.0 L1208.4 1060.2 L1222.4 1060.2 L1224.4 1066.4 L1238.4 1066.4 L1240.4 1072.6 L1254.4 1072.6 L1256.4 1078.8 L1272.4 1078.8 L1274.4 1085.0 L1290.4 1085.0 L1292.4 1091.2 L1308.4 1091.2 L1310.4 1097.4 L1326.4 1097.4 L1328.4 1103.6 L1344.4 1103.6 L1346.4 1109.8 L1362.4 1109.8 L1364.4 1116.0 L1382.4 1116.0 L1384.4 1122.2 L1400.4 1122.2 L1402.4 1128.4 L1420.4 1128.4 L1422.4 1134.6 L1442.4 1134.6 L1444.4 1140.8 L1464.4 1140.8 L1466.4 1147.0 L1488.4 1147.0 L1490.4 1153.2 L1512.4 1153.2 L1514.4 1159.4 L1540.4 1159.4 L1542.4 1165.6 L1570.4 1165.6 L1572.4 1171.8 L1600.4 1171.8 L1602.4 1178.0 L1634.4 1178.0 L1636.4 1184.2 L1670.4 1184.2 L1672.4 1190.4 L1706.4 1190.4 L1708.4 1196.6 L1744.4 1196.6 L1746.4 1202.8 L1782.4 1202.8 L1784.4 1209.0 L1824.4 1209.0 L1826.4 1215.2 L1868.4 1215.2 L1870.4 1221.4 L1914.4 1221.4 L1916.4 1227.6 L1924.0 1227.6" fill="none" stroke="#00ff00" stroke-width="11" stroke-linejoin="round" stroke-miterlimit="10"/>
<path d="M276.4 310.0 L294.4 310.0 L296.4 316.2 L312.4 316.2 L314.4 322.4 L328.4 322.4 L330.4 328.6 L346.4 328.6 L348.4 334.8 L362.4 334.8 L364.4 341.0 L378.4 341.0 L380.4 347.2 L394.4 347.2 L396.4 353.4 L410.4 353.4 L412.4 359.6 L424.4 359.6 L426.4 365.8 L440.4 365.8 L442.4 372.0 L454.4 372.0 L456.4 378.2 L468.4 378.2 L470.4 384.4 L482.4 384.4 L484.4 390.6 L496.4 390.6 L498.4 396.8 L510.4 396.8 L512.4 403.0 L522.4 403.0 L524.4 409.2 L536.4 409.2 L538.4 415.4 L548.4 415.4 L550.4 421.6 L560.4 421.6 L562.4 427.8 L572.4 427.8 L574.4 434.0 L584.4 434.0 L586.4 440.2 L596.4 440.2 L598.4 446.4 L608.4 446.4 L610.4 452.6 L620.4 452.6 L622.4 458.8 L632.4 458.8 L634.4 465.0 L642.4 465.0 L644.4 471.2 L654.4 471.2 L656.4 477.4 L666.4 477.4 L668.4 483.6 L676.4 483.6 L678.4 489.8 L688.4 489.8 L690.4 496.0 L700.4 496.0 L702.4 502.2 L710.4 502.2 L712.4 508.4 L722.4 508.4 L724.4 514.6 L732.4 514.6 L734.4 520.8 L744.4 520.8 L746.4 527.0 L754.4 527.0 L756.4 533.2 L764.4 533.2 L766.4 539.4 L776.4 539.4 L778.4 545.6 L786.4 545.6 L788.4 551.8 L796.4 551.8 L798.4 558.0 L806.4 558.0 L808.4 564.2 L818.4 564.2 L820.4 570.4 L828.4 570.4 L830.4 576.6 L838.4 576.6 L840.4 582.8 L848.4 582.8 L850.4 589.0 L858.4 589.0 L860.4 595.2 L868.4 595.2 L870.4 601.4 L878.4 601.4 L880.4 607.6 L888.4 607.6 L890.4 613.8 L898.4 613.8 L900.4 620.0 L908.4 620.0 L910.4 626.2 L916.4 626.2 L918.4 632.4 L926.4 632.4 L928.4 638.6 L936.4 638.6 L938.4 644.8 L944.4 644.8 L946.4 651.0 L954.4 651.0 L956.4 657.2 L962.4 657.2 L964.4 663.4 L972.4 663.4 L974.4 669.6 L982.4 669.6 L984.4 675.8 L990.4 675.8 L992.4 682.0 L1000.4 682.0 L1002.4 688.2 L1008.4 688.2 L1010.4 694.4 L1018.4 694.4 L1020.4 700.6 L1026.4 700.6 L1028.4 706.8 L1036.4 706.8 L1038.4 713.0 L1044.4 713.0 L1046.4 719.2 L1054.4 719.2 L1056.4 725.4 L1062.4 725.4 L1064.4 731.6 L1072.4 731.6 L1074.4 737.8 L1082.4 737.8 L1084.4 744.0 L1090.4 744.0 L1092.4 750.2 L1100.4 750.2 L1102.4 756.4 L1110.4 756.4 L1112.4 762.6 L1120.4 762.6 L1122.4 768.8 L1130.4 768.8 L1132.4 775.0 L1140.4 775.0 L1142.4 781.2 L1150.4 781.2 L1152.4 787.4 L1160.4 787.4 L1162.4 793.6 L1170.4 793.6 L1172.4 799.8 L1180.4 799.8 L1182.4 806.0 L1190.4 806.0 L1192.4 812.2 L1200.4 812.2 L1202.4 818.4 L1210.4 818.4 L1212.4 824.6 L1220.4 824.6 L1222.4 830.8 L1230.4 830.8 L1232.4 837.0 L1240.4 837.0 L1242.4 843.2 L1252.4 843.2 L1254.4 849.4 L1262.4 849.4 L1264.4 855.6 L1272.4 855.6 L1274.4 861.8 L1284.4 861.8 L1286.4 868.0 L1294.4 868.0 L1296.4 874.2 L1306.4 874.2 L1308.4 880.4 L1316.4 880.4 L1318.4 886.6 L1328.4 886.6 L1330.4 892.8 L1338.4 892.8 L1340.4 899.0 L1350.4 899.0 L1352.4 905.2 L1360.4 905.2 L1362.4 911.4 L1372.4 911.4 L1374.4 917.6 L1384.4 917.6 L1386.4 923.8 L1396.4 923.8 L1398.4 930.0 L1406.4 930.0 L1408.4 936.2 L1418.4 936.2 L1420.4 942.4 L1430.4 942.4 L1432.4 948.6 L1442.4 948.6 L1444.4 954.8 L1454.4 954.8 L1456.4 961.0 L1468.4 961.0 L1470.4 967.2 L1480.4 967.2 L1482.4 973.4 L1492.4 973.4 L1494.4 979.6 L1506.4 979.6 L1508.4 985.8 L1520.4 985.8 L1522.4 992.0 L1532.4 992.0 L1534.4 998.2 L1546.4 998.2 L1548.4 1004.4 L1560.4 1004.4 L1562.4 1010.6 L1574.4 1010.6 L1576.4 1016.8 L1590.4 1016.8 L1592.4 1023.0 L1604.4 1023.0 L1606.4 1029.2 L1618.4 1029.2 L1620.4 1035.4 L1634.4 1035.4 L1636.4 1041.6 L1650.4 1041.6 L1652.4 1047.8 L1666.4 1047.8 L1668.4 1054.0 L1682.4 1054.0 L1684.4 1060.2 L1698.4 1060.2 L1700.4 1066.4 L1716.4 1066.4 L1718.4 1072.6 L1734.4 1072.6 L1736.4 1078.8 L1752.4 1078.8 L1754.4 1085.0 L1770.4 1085.0 L1772.4 1091.2 L1788.4 1091.2 L1790.4 1097.4 L1808.4 1097.4 L1810.4 1103.6 L1828.4 1103.6 L1830.4 1109.8 L1850.4 1109.8 L1852.4 1116.0 L1872.4 1116.0 L1874.4 1122.2 L1894.4 1122.2 L1896.4 1128.4 L1918.4 1128.4 L1920.4 1134.6 L1924.0 1134.6" fill="none" stroke="#ff0000" stroke-width="11" stroke-linejoin="round" stroke-miterlimit="10" stroke-dasharray="31 7 16 7"/>
<path d="M276.4 409.2 L278.4 409.2 L280.4 415.4 L292.4 415.4 L294.4 421.6 L306.4 421.6 L308.4 427.8 L320.4 427.8 L322.4 434.0 L332.4 434.0 L334.4 440.2 L346.4 440.2 L348.4 446.4 L358.4 446.4 L360.4 452.6 L370.4 452.6 L372.4 458.8 L382.4 458.8 L384.4 465.0 L394.4 465.0 L396.4 471.2 L406.4 471.2 L408.4 477.4 L418.4 477.4 L420.4 483.6 L430.4 483.6 L432.4 489.8 L442.4 489.8 L444.4 496.0 L452.4 496.0 L454.4 502.2 L464.4 502.2 L466.4 508.4 L474.4 508.4 L476.4 514.6 L486.4 514.6 L488.4 520.8 L496.4 520.8 L498.4 527.0 L506.4 527.0 L508.4 533.2 L516.4 533.2 L518.4 539.4 L526.4 539.4 L528.4 545.6 L536.4 545.6 L538.4 551.8 L546.4 551.8 L548.4 558.0 L554.4 558.0 L556.4 564.2 L564.4 564.2 L566.4 570.4 L572.4 570.4 L574.4 576.6 L582.4 576.6 L584.4 582.8 L592.4 582.8 L594.4 589.0 L600.4 589.0 L602.4 595.2 L610.4 595.2 L612.4 601.4 L618.4 601.4 L620.4 607.6 L628.4 607.6 L630.4 613.8 L636.4 613.8 L638.4 620.0 L646.4 620.0 L648.4 626.2 L654.4 626.2 L656.4 632.4 L664.4 632.4 L666.4 638.6 L674.4 638.6 L676.4 644.8 L684.4 644.8 L686.4 651.0 L692.4 651.0 L694.4 657.2 L702.4 657.2 L704.4 663.4 L712.4 663.4 L714.4 669.6 L722.4 669.6 L724.4 675.8 L732.4 675.8 L734.4 682.0 L742.4 682.0 L744.4 688.2 L750.4 688.2 L752.4 694.4 L760.4 694.4 L762.4 700.6 L770.4 700.6 L772.4 706.8 L780.4 706.8 L782.4 713.0 L790.4 713.0 L792.4 719.2 L800.4 719.2 L802.4 725.4 L810.4 725.4 L812.4 731.6 L820.4 731.6 L822.4 737.8 L830.4 737.8 L832.4 744.0 L840.4 744.0 L842.4 750.2 L850.4 750.2 L852.4 756.4 L860.4 756.4 L862.4 762.6 L870.4 762.6 L872.4 768.8 L880.4 768.8 L882.4 775.0 L890.4 775.0 L892.4 781.2 L900.4 781.2 L902.4 787.4 L910.4 787.4 L912.4 793.6 L920.4 793.6 L922.4 799.8 L928.4 799.8 L930.4 806.0 L938.4 806.0 L940.4 812.2 L948.4 812.2 L950.4 818.4 L958.4 818.4 L960.4 824.6 L968.4 824.6 L970.4 830.8 L978.4 830.8 L980.4 837.0 L988.4 837.0 L990.4 843.2 L998.4 843.2 L1000.4 849.4 L1008.4 849.4 L1010.4 855.6 L1018.4 855.6 L1020.4 861.8 L1028.4 861.8 L1030.4 868.0 L1038.4 868.0 L1040.4 874.2 L1048.4 874.2 L1050.4 880.4 L1060.4 880.4 L1062.4 886.6 L1070.4 886.6 L1072.4 892.8 L1080.4 892.8 L1082.4 899.0 L1092.4 899.0 L1094.4 905.2 L1102.4 905.2 L1104.4 911.4 L1114.4 911.4 L1116.4 917.6 L1126.4 917.6 L1128.4 923.8 L1136.4 923.8 L1138.4 930.0 L1148.4 930.0 L1150.4 936.2 L1160.4 936.2 L1162.4 942.4 L1172.4 942.4 L1174.4 948.6 L1184.4 948.6 L1186.4 954.8 L1196.4 954.8 L1198.4 961.0 L1208.4 961.0 L1210.4 967.2 L1220.4 967.2 L1222.4 973.4 L1232.4 973.4 L1234.4 979.6 L1246.4 979.6 L1248.4 985.8 L1258.4 985.8 L1260.4 992.0 L1272.4 992.0 L1274.4 998.2 L1286.4 998.2 L1288.4 1004.4 L1300.4 1004.4 L1302.4 1010.6 L1314.4 1010.6 L1316.4 1016.8 L1330.4 1016.8 L1332.4 1023.0 L1346.4 1023.0 L1348.4 1029.2 L1362.4 1029.2 L1364.4 1035.4 L1378.4 1035.4 L1380.4 1041.6 L1396.4 1041.6 L1398.4 1047.8 L1412.4 1047.8 L1414.4 1054.0 L1430.4 1054.0 L1432.4 1060.2 L1448.4 1060.2 L1450.4 1066.4 L1466.4 1066.4 L1468.4 1072.6 L1486.4 1072.6 L1488.4 1078.8 L1504.4 1078.8 L1506.4 1085.0 L1522.4 1085.0 L1524.4 1091.2 L1540.4 1091.2 L1542.4 1097.4 L1560.4 1097.4 L1562.4 1103.6 L1578.4 1103.6 L1580.4 1109.8 L1596.4 1109.8 L1598.4 1116.0 L1616.4 1116.0 L1618.4 1122.2 L1636.4 1122.2 L1638.4 1128.4 L1656.4 1128.4 L1658.4 1134.6 L1678.4 1134.6 L1680.4 1140.8 L1700.4 1140.8 L1702.4 1147.0 L1724.4 1147.0 L1726.4 1153.2 L1750.4 1153.2 L1752.4 1159.4 L1776.4 1159.4 L1778.4 1165.6 L1804.4 1165.6 L1806.4 1171.8 L1834.4 1171.8 L1836.4 1178.0 L1866.4 1178.0 L1868.4 1184.2 L1902.4 1184.2 L1904.4 1190.4 L1924.0 1190.4" fill="none" stroke="#ff0000" stroke-width="11" stroke-linejoin="round" stroke-miterlimit="10" stroke-dasharray="31 7 16 7"/>
<path d="M276.4 564.2 L280.4 564.2 L282.4 570.4 L290.4 570.4 L292.4 576.6 L302.4 576.6 L304.4 582.8 L312.4 582.8 L314.4 589.0 L322.4 589.0 L324.4 595.2 L332.4 595.2 L334.4 601.4 L342.4 601.4 L344.4 607.6 L352.4 607.6 L354.4 613.8 L362.4 613.8 L364.4 620.0 L372.4 620.0 L374.4 626.2 L382.4 626.2 L384.4 632.4 L392.4 632.4 L394.4 638.6 L402.4 638.6 L404.4 644.8 L412.4 644.8 L414.4 651.0 L422.4 651.0 L424.4 657.2 L432.4 657.2 L434.4 663.4 L442.4 663.4 L444.4 669.6 L452.4 669.6 L454.4 675.8 L462.4 675.8 L464.4 682.0 L472.4 682.0 L474.4 688.2 L482.4 688.2 L484.4 694.4 L492.4 694.4 L494.4 700.6 L502.4 700.6 L504.4 706.8 L510.4 706.8 L512.4 713.0 L520.4 713.0 L522.4 719.2 L530.4 719.2 L532.4 725.4 L538.4 725.4 L540.4 731.6 L548.4 731.6 L550.4 737.8 L558.4 737.8 L560.4 744.0 L566.4 744.0 L568.4 750.2 L576.4 750.2 L578.4 756.4 L586.4 756.4 L588.4 762.6 L594.4 762.6 L596.4 768.8 L604.4 768.8 L606.4 775.0 L614.4 775.0 L616.4 781.2 L624.4 781.2 L626.4 787.4 L632.4 787.4 L634.4 793.6 L642.4 793.6 L644.4 799.8 L652.4 799.8 L654.4 806.0 L662.4 806.0 L664.4 812.2 L672.4 812.2 L674.4 818.4 L682.4 818.4 L684.4 824.6 L694.4 824.6 L696.4 830.8 L704.4 830.8 L706.4 837.0 L716.4 837.0 L718.4 843.2 L726.4 843.2 L728.4 849.4 L738.4 849.4 L740.4 855.6 L748.4 855.6 L750.4 861.8 L760.4 861.8 L762.4 868.0 L772.4 868.0 L774.4 874.2 L784.4 874.2 L786.4 880.4 L796.4 880.4 L798.4 886.6 L806.4 886.6 L808.4 892.8 L818.4 892.8 L820.4 899.0 L830.4 899.0 L832.4 905.2 L842.4 905.2 L844.4 911.4 L854.4 911.4 L856.4 917.6 L868.4 917.6 L870.4 923.8 L880.4 923.8 L882.4 930.0 L892.4 930.0 L894.4 936.2 L904.4 936.2 L906.4 942.4 L916.4 942.4 L918.4 948.6 L928.4 948.6 L930.4 954.8 L940.4 954.8 L942.4 961.0 L952.4 961.0 L954.4 967.2 L964.4 967.2 L966.4 973.4 L976.4 973.4 L978.4 979.6 L988.4 979.6 L990.4 985.8 L1002.4 985.8 L1004.4 992.0 L1014.4 992.0 L1016.4 998.2 L1026.4 998.2 L1028.4 1004.4 L1040.4 1004.4 L1042.4 1010.6 L1052.4 1010.6 L1054.4 1016.8 L1066.4 1016.8 L1068.4 1023.0 L1080.4 1023.0 L1082.4 1029.2 L1096.4 1029.2 L1098.4 1035.4 L1110.4 1035.4 L1112.4 1041.6 L1126.4 1041.6 L1128.4 1047.8 L1144.4 1047.8 L1146.4 1054.0 L1160.4 1054.0 L1162.4 1060.2 L1176.4 1060.2 L1178.4 1066.4 L1194.4 1066.4 L1196.4 1072.6 L1212.4 1072.6 L1214.4 1078.8 L1230.4 1078.8 L1232.4 1085.0 L1250.4 1085.0 L1252.4 1091.2 L1268.4 1091.2 L1270.4 1097.4 L1288.4 1097.4 L1290.4 1103.6 L1308.4 1103.6 L1310.4 1109.8 L1328.4 1109.8 L1330.4 1116.0 L1348.4 1116.0 L1350.4 1122.2 L1368.4 1122.2 L1370.4 1128.4 L1388.4 1128.4 L1390.4 1134.6 L1408.4 1134.6 L1410.4 1140.8 L1430.4 1140.8 L1432.4 1147.0 L1452.4 1147.0 L1454.4 1153.2 L1476.4 1153.2 L1478.4 1159.4 L1502.4 1159.4 L1504.4 1165.6 L1530.4 1165.6 L1532.4 1171.8 L1560.4 1171.8 L1562.4 1178.0 L1594.4 1178.0 L1596.4 1184.2 L1628.4 1184.2 L1630.4 1190.4 L1666.4 1190.4 L1668.4 1196.6 L1704.4 1196.6 L1706.4 1202.8 L1740.4 1202.8 L1742.4 1209.0 L1778.4 1209.0 L1780.4 1215.2 L1818.4 1215.2 L1820.4 1221.4 L1858.4 1221.4 L1860.4 1227.6 L1898.4 1227.6 L1900.4 1233.8 L1924.0 1233.8" fill="none" stroke="#ff0000" stroke-width="11" stroke-linejoin="round" stroke-miterlimit="10" stroke-dasharray="31 7 16 7"/>
</g>
<text transform="translate(106.0,738.8) rotate(-90)" font-family='"Liberation Serif", "Times New Roman", serif' font-size="62.5" fill="#262626">N<tspan dy="31" font-size="49">sps</tspan></text>
<rect x="1535.7" y="93.0" width="339.4" height="371.7" fill="#fff" stroke="#262626" stroke-width="3" shape-rendering="crispEdges"/>
<line x1="1550.9" y1="144.3" x2="1704.0" y2="144.3" stroke="#000000" stroke-width="11" shape-rendering="crispEdges"/>
<text y="154.3" font-family='"Liberation Serif", "Times New Roman", serif' font-size="55" fill="#000"><tspan x="1714.7">R</tspan><tspan dy="27" font-size="45.5">c</tspan><tspan x="1789.3" dy="-27">1/2</tspan></text>
<line x1="1550.9" y1="234.0" x2="1704.0" y2="234.0" stroke="#0000ff" stroke-width="11" stroke-dasharray="31 30" shape-rendering="crispEdges"/>
<text y="244.0" font-family='"Liberation Serif", "Times New Roman", serif' font-size="55" fill="#000"><tspan x="1714.7">R</tspan><tspan dy="27" font-size="45.5">c</tspan><tspan x="1789.3" dy="-27">2/3</tspan></text>
<line x1="1550.9" y1="323.7" x2="1704.0" y2="323.7" stroke="#00ff00" stroke-width="11" shape-rendering="crispEdges"/>
<text y="333.7" font-family='"Liberation Serif", "Times New Roman", serif' font-size="55" fill="#000"><tspan x="1714.7">R</tspan><tspan dy="27" font-size="45.5">c</tspan><tspan x="1789.3" dy="-27">3/4</tspan></text>
<line x1="1550.9" y1="413.4" x2="1704.0" y2="413.4" stroke="#ff0000" stroke-width="11" stroke-dasharray="31 7 16 7" shape-rendering="crispEdges"/>
<text y="423.4" font-family='"Liberation Serif", "Times New Roman", serif' font-size="55" fill="#000"><tspan x="1714.7">R</tspan><tspan dy="27" font-size="45.5">c</tspan><tspan x="1789.3" dy="-27">5/6</tspan></text>
<g shape-rendering="crispEdges">
<ellipse cx="1131.8" cy="786" rx="68.4" ry="37.2" fill="none" stroke="#000" stroke-width="3.6"/>
<ellipse cx="1095" cy="880.3" rx="62.1" ry="37.6" fill="none" stroke="#000" stroke-width="3.6"/>
<ellipse cx="1147.7" cy="1019.5" rx="111.5" ry="46.7" fill="none" stroke="#000" stroke-width="3.6"/>
<line x1="1415.7" y1="644.5" x2="1219.0" y2="744.5" stroke="#000" stroke-width="3.2"/><path d="M1183.3 762.6 L1223.7 720.7 L1219.0 744.5 L1240.9 754.6Z" fill="#000"/>
<line x1="1446.1" y1="818.9" x2="1195.8" y2="872.0" stroke="#000" stroke-width="3.2"/><path d="M1156.7 880.3 L1206.6 850.3 L1195.8 872.0 L1214.4 887.5Z" fill="#000"/>
<line x1="925.4" y1="1124.3" x2="1061.8" y2="1073.9" stroke="#000" stroke-width="3.2"/><path d="M1099.3 1060.0 L1054.3 1096.9 L1061.8 1073.9 L1041.1 1061.3Z" fill="#000"/>
</g>
<text x="1324.32 1354.54" y="637.5" font-family='"Liberation Serif", "Times New Roman", serif' font-size="62" fill="#000">k’</text>
<text transform="translate(1392.37,637.5) scale(1.46,1)" font-family='"Liberation Serif", "Times New Roman", serif' font-size="62" fill="#000">=</text>
<text x="1461.04 1492.61 1508.84 1538.92" y="637.5" font-family='"Liberation Serif", "Times New Roman", serif' font-size="62" fill="#000">0.8k</text>
<text x="1453.62 1483.84" y="827.6" font-family='"Liberation Serif", "Times New Roman", serif' font-size="62" fill="#000">k’</text>
<text transform="translate(1521.67,827.6) scale(1.46,1)" font-family='"Liberation Serif", "Times New Roman", serif' font-size="62" fill="#000">=</text>
<text x="1590.34 1621.91 1638.52 1668.22" y="827.6" font-family='"Liberation Serif", "Times New Roman", serif' font-size="62" fill="#000">0.9k</text>
<text x="739.72 770.44" y="1143.4" font-family='"Liberation Serif", "Times New Roman", serif' font-size="62" fill="#000">k’</text>
<text transform="translate(807.67,1143.4) scale(1.46,1)" font-family='"Liberation Serif", "Times New Roman", serif' font-size="62" fill="#000">=</text>
<text x="876.62" y="1143.4" font-family='"Liberation Serif", "Times New Roman", serif' font-size="62" fill="#000">k</text>
<g stroke="#dfdfdf" stroke-width="2.6" shape-rendering="crispEdges"><line x1="266.1" y1="1847.1" x2="266.1" y2="3126.2"/><line x1="677.95" y1="1847.1" x2="677.95" y2="3126.2"/><line x1="1089.8" y1="1847.1" x2="1089.8" y2="3126.2"/><line x1="1501.65" y1="1847.1" x2="1501.65" y2="3126.2"/><line x1="1913.5" y1="1847.1" x2="1913.5" y2="3126.2"/><line x1="266.1" y1="3126.2" x2="1913.5" y2="3126.2"/><line x1="266.1" y1="2984.08" x2="1913.5" y2="2984.08"/><line x1="266.1" y1="2841.96" x2="1913.5" y2="2841.96"/><line x1="266.1" y1="2699.83" x2="1913.5" y2="2699.83"/><line x1="266.1" y1="2557.71" x2="1913.5" y2="2557.71"/><line x1="266.1" y1="2415.59" x2="1913.5" y2="2415.59"/><line x1="266.1" y1="2273.47" x2="1913.5" y2="2273.47"/><line x1="266.1" y1="2131.34" x2="1913.5" y2="2131.34"/><line x1="266.1" y1="1989.22" x2="1913.5" y2="1989.22"/><line x1="266.1" y1="1847.1" x2="1913.5" y2="1847.1"/></g>
<g stroke="#262626" stroke-width="3" shape-rendering="crispEdges"><path d="M266.1 1845.9 V3126.2 H1914.7" fill="none"/><line x1="266.1" y1="3126.2" x2="266.1" y2="3107.7"/><line x1="677.95" y1="3126.2" x2="677.95" y2="3107.7"/><line x1="1089.8" y1="3126.2" x2="1089.8" y2="3107.7"/><line x1="1501.65" y1="3126.2" x2="1501.65" y2="3107.7"/><line x1="1913.5" y1="3126.2" x2="1913.5" y2="3107.7"/><line x1="266.1" y1="3126.2" x2="284.6" y2="3126.2"/><line x1="266.1" y1="2984.08" x2="284.6" y2="2984.08"/><line x1="266.1" y1="2841.96" x2="284.6" y2="2841.96"/><line x1="266.1" y1="2699.83" x2="284.6" y2="2699.83"/><line x1="266.1" y1="2557.71" x2="284.6" y2="2557.71"/><line x1="266.1" y1="2415.59" x2="284.6" y2="2415.59"/><line x1="266.1" y1="2273.47" x2="284.6" y2="2273.47"/><line x1="266.1" y1="2131.34" x2="284.6" y2="2131.34"/><line x1="266.1" y1="1989.22" x2="284.6" y2="1989.22"/><line x1="266.1" y1="1847.1" x2="284.6" y2="1847.1"/></g>
<g font-family='"Liberation Serif", "Times New Roman", serif' font-size="62" fill="#262626"><text x="244.46" y="3146.8" text-anchor="end">0</text><text x="244.46" y="3004.68" text-anchor="end">200</text><text x="244.46" y="2862.56" text-anchor="end">400</text><text x="244.46" y="2720.43" text-anchor="end">600</text><text x="244.46" y="2578.31" text-anchor="end">800</text><text x="244.46" y="2436.19" text-anchor="end">1000</text><text x="244.46" y="2294.07" text-anchor="end">1200</text><text x="244.46" y="2151.94" text-anchor="end">1400</text><text x="244.46" y="2009.82" text-anchor="end">1600</text><text x="244.46" y="1867.7" text-anchor="end">1800</text><text x="266.1" y="3206.8" text-anchor="middle">-2</text><text x="677.95" y="3206.8" text-anchor="middle">0</text><text x="1089.8" y="3206.8" text-anchor="middle">2</text><text x="1501.65" y="3206.8" text-anchor="middle">4</text><text x="1913.5" y="3206.8" text-anchor="middle">6</text></g>
<g shape-rendering="crispEdges">
<path d="M266.1 2090.8 L268.2 2096.6 L270.2 2102.3 L272.3 2107.9 L274.3 2113.5 L276.4 2119.1 L278.5 2124.7 L280.5 2130.2 L282.6 2135.7 L284.6 2141.1 L286.7 2146.5 L288.8 2151.9 L290.8 2157.2 L292.9 2162.6 L294.9 2167.8 L297.0 2173.1 L299.0 2178.3 L301.1 2183.5 L303.2 2188.7 L305.2 2193.8 L307.3 2198.9 L309.3 2204.0 L311.4 2209.0 L313.5 2214.0 L315.5 2219.0 L317.6 2223.9 L319.6 2228.8 L321.7 2233.7 L323.8 2238.6 L325.8 2243.4 L327.9 2248.2 L329.9 2253.0 L332.0 2257.7 L334.1 2262.4 L336.1 2267.1 L338.2 2271.8 L340.2 2276.4 L342.3 2281.0 L344.4 2285.5 L346.4 2290.0 L348.5 2294.5 L350.5 2298.9 L352.6 2303.2 L354.6 2307.5 L356.7 2311.8 L358.8 2316.0 L360.8 2320.2 L362.9 2324.4 L364.9 2328.6 L367.0 2332.7 L369.1 2336.8 L371.1 2340.8 L373.2 2344.9 L375.2 2348.9 L377.3 2352.9 L379.4 2356.8 L381.4 2360.8 L383.5 2364.7 L385.5 2368.6 L387.6 2372.5 L389.7 2376.4 L391.7 2380.3 L393.8 2384.1 L395.8 2388.0 L397.9 2391.8 L400.0 2395.6 L402.0 2399.5 L404.1 2403.3 L406.1 2407.1 L408.2 2410.9 L410.2 2414.7 L412.3 2418.5 L414.4 2422.3 L416.4 2426.2 L418.5 2430.0 L420.5 2433.9 L422.6 2437.7 L424.7 2441.6 L426.7 2445.5 L428.8 2449.3 L430.8 2453.2 L432.9 2457.0 L435.0 2460.9 L437.0 2464.7 L439.1 2468.6 L441.1 2472.4 L443.2 2476.2 L445.3 2479.9 L447.3 2483.7 L449.4 2487.5 L451.4 2491.2 L453.5 2494.9 L455.6 2498.5 L457.6 2502.2 L459.7 2505.8 L461.7 2509.4 L463.8 2513.0 L465.8 2516.5 L467.9 2520.0 L470.0 2523.4 L472.0 2526.9 L474.1 2530.2 L476.1 2533.6 L478.2 2536.9 L480.3 2540.2 L482.3 2543.4 L484.4 2546.6 L486.4 2549.7 L488.5 2552.8 L490.6 2555.8 L492.6 2558.8 L494.7 2561.8 L496.7 2564.8 L498.8 2567.7 L500.9 2570.6 L502.9 2573.5 L505.0 2576.3 L507.0 2579.2 L509.1 2582.0 L511.2 2584.8 L513.2 2587.5 L515.3 2590.3 L517.3 2593.0 L519.4 2595.7 L521.4 2598.4 L523.5 2601.1 L525.6 2603.8 L527.6 2606.4 L529.7 2609.0 L531.7 2611.6 L533.8 2614.2 L535.9 2616.8 L537.9 2619.3 L540.0 2621.8 L542.0 2624.4 L544.1 2626.8 L546.2 2629.3 L548.2 2631.8 L550.3 2634.3 L552.3 2636.7 L554.4 2639.1 L556.5 2641.5 L558.5 2643.9 L560.6 2646.3 L562.6 2648.7 L564.7 2651.0 L566.8 2653.4 L568.8 2655.7 L570.9 2658.0 L572.9 2660.3 L575.0 2662.6 L577.0 2664.9 L579.1 2667.1 L581.2 2669.4 L583.2 2671.6 L585.3 2673.8 L587.3 2676.1 L589.4 2678.3 L591.5 2680.5 L593.5 2682.7 L595.6 2684.8 L597.6 2687.0 L599.7 2689.2 L601.8 2691.3 L603.8 2693.4 L605.9 2695.6 L607.9 2697.7 L610.0 2699.8 L612.1 2701.9 L614.1 2704.0 L616.2 2706.0 L618.2 2708.1 L620.3 2710.1 L622.4 2712.1 L624.4 2714.1 L626.5 2716.1 L628.5 2718.1 L630.6 2720.1 L632.6 2722.0 L634.7 2724.0 L636.8 2725.9 L638.8 2727.8 L640.9 2729.8 L642.9 2731.7 L645.0 2733.6 L647.1 2735.5 L649.1 2737.4 L651.2 2739.2 L653.2 2741.1 L655.3 2743.0 L657.4 2744.8 L659.4 2746.7 L661.5 2748.6 L663.5 2750.4 L665.6 2752.3 L667.7 2754.1 L669.7 2755.9 L671.8 2757.8 L673.8 2759.6 L675.9 2761.5 L678.0 2763.3 L680.0 2765.1 L682.1 2766.9 L684.1 2768.8 L686.2 2770.6 L688.2 2772.4 L690.3 2774.2 L692.4 2776.0 L694.4 2777.8 L696.5 2779.6 L698.5 2781.3 L700.6 2783.1 L702.7 2784.9 L704.7 2786.6 L706.8 2788.4 L708.8 2790.1 L710.9 2791.9 L713.0 2793.6 L715.0 2795.3 L717.1 2797.0 L719.1 2798.7 L721.2 2800.4 L723.3 2802.1 L725.3 2803.8 L727.4 2805.5 L729.4 2807.2 L731.5 2808.8 L733.5 2810.5 L735.6 2812.1 L737.7 2813.8 L739.7 2815.4 L741.8 2817.0 L743.8 2818.6 L745.9 2820.2 L748.0 2821.8 L750.0 2823.4 L752.1 2825.0 L754.1 2826.6 L756.2 2828.2 L758.3 2829.7 L760.3 2831.3 L762.4 2832.8 L764.4 2834.4 L766.5 2835.9 L768.6 2837.4 L770.6 2838.9 L772.7 2840.4 L774.7 2841.9 L776.8 2843.4 L778.9 2844.9 L780.9 2846.4 L783.0 2847.8 L785.0 2849.3 L787.1 2850.7 L789.1 2852.2 L791.2 2853.6 L793.3 2855.0 L795.3 2856.4 L797.4 2857.8 L799.4 2859.2 L801.5 2860.6 L803.6 2862.0 L805.6 2863.4 L807.7 2864.7 L809.7 2866.1 L811.8 2867.4 L813.9 2868.8 L815.9 2870.1 L818.0 2871.4 L820.0 2872.7 L822.1 2874.0 L824.2 2875.3 L826.2 2876.6 L828.3 2877.9 L830.3 2879.1 L832.4 2880.4 L834.5 2881.6 L836.5 2882.9 L838.6 2884.1 L840.6 2885.3 L842.7 2886.6 L844.7 2887.8 L846.8 2889.0 L848.9 2890.2 L850.9 2891.3 L853.0 2892.5 L855.0 2893.7 L857.1 2894.8 L859.2 2896.0 L861.2 2897.1 L863.3 2898.3 L865.3 2899.4 L867.4 2900.5 L869.5 2901.6 L871.5 2902.7 L873.6 2903.8 L875.6 2904.9 L877.7 2905.9 L879.8 2907.0 L881.8 2908.1 L883.9 2909.1 L885.9 2910.1 L888.0 2911.2 L890.1 2912.2 L892.1 2913.2 L894.2 2914.2 L896.2 2915.2 L898.3 2916.2 L900.3 2917.2 L902.4 2918.2 L904.5 2919.2 L906.5 2920.1 L908.6 2921.1 L910.6 2922.0 L912.7 2923.0 L914.8 2923.9 L916.8 2924.9 L918.9 2925.8 L920.9 2926.7 L923.0 2927.6 L925.1 2928.5 L927.1 2929.4 L929.2 2930.3 L931.2 2931.2 L933.3 2932.1 L935.4 2933.0 L937.4 2933.9 L939.5 2934.7 L941.5 2935.6 L943.6 2936.5 L945.7 2937.3 L947.7 2938.2 L949.8 2939.0 L951.8 2939.8 L953.9 2940.7 L955.9 2941.5 L958.0 2942.3 L960.1 2943.1 L962.1 2943.9 L964.2 2944.7 L966.2 2945.6 L968.3 2946.4 L970.4 2947.1 L972.4 2947.9 L974.5 2948.7 L976.5 2949.5 L978.6 2950.3 L980.7 2951.1 L982.7 2951.8 L984.8 2952.6 L986.8 2953.4 L988.9 2954.1 L991.0 2954.9 L993.0 2955.6 L995.1 2956.4 L997.1 2957.1 L999.2 2957.9 L1001.3 2958.6 L1003.3 2959.3 L1005.4 2960.1 L1007.4 2960.8 L1009.5 2961.5 L1011.5 2962.2 L1013.6 2962.9 L1015.7 2963.7 L1017.7 2964.4 L1019.8 2965.1 L1021.8 2965.8 L1023.9 2966.5 L1026.0 2967.2 L1028.0 2967.9 L1030.1 2968.6 L1032.1 2969.3 L1034.2 2969.9 L1036.3 2970.6 L1038.3 2971.3 L1040.4 2972.0 L1042.4 2972.7 L1044.5 2973.3 L1046.6 2974.0 L1048.6 2974.7 L1050.7 2975.4 L1052.7 2976.0 L1054.8 2976.7 L1056.9 2977.3 L1058.9 2978.0 L1061.0 2978.7 L1063.0 2979.3 L1065.1 2980.0 L1067.1 2980.6 L1069.2 2981.3 L1071.3 2981.9 L1073.3 2982.5 L1075.4 2983.2 L1077.4 2983.8 L1079.5 2984.5 L1081.6 2985.1 L1083.6 2985.7 L1085.7 2986.4 L1087.7 2987.0 L1089.8 2987.6 L1091.9 2988.3 L1093.9 2988.9 L1096.0 2989.5 L1098.0 2990.1 L1100.1 2990.7 L1102.2 2991.3 L1104.2 2992.0 L1106.3 2992.6 L1108.3 2993.2 L1110.4 2993.8 L1112.5 2994.4 L1114.5 2994.9 L1116.6 2995.5 L1118.6 2996.1 L1120.7 2996.7 L1122.7 2997.3 L1124.8 2997.9 L1126.9 2998.4 L1128.9 2999.0 L1131.0 2999.6 L1133.0 3000.2 L1135.1 3000.7 L1137.2 3001.3 L1139.2 3001.8 L1141.3 3002.4 L1143.3 3003.0 L1145.4 3003.5 L1147.5 3004.1 L1149.5 3004.6 L1151.6 3005.1 L1153.6 3005.7 L1155.7 3006.2 L1157.8 3006.7 L1159.8 3007.3 L1161.9 3007.8 L1163.9 3008.3 L1166.0 3008.9 L1168.1 3009.4 L1170.1 3009.9 L1172.2 3010.4 L1174.2 3010.9 L1176.3 3011.4 L1178.3 3011.9 L1180.4 3012.5 L1182.5 3013.0 L1184.5 3013.5 L1186.6 3014.0 L1188.6 3014.5 L1190.7 3014.9 L1192.8 3015.4 L1194.8 3015.9 L1196.9 3016.4 L1198.9 3016.9 L1201.0 3017.4 L1203.1 3017.9 L1205.1 3018.3 L1207.2 3018.8 L1209.2 3019.3 L1211.3 3019.7 L1213.4 3020.2 L1215.4 3020.7 L1217.5 3021.1 L1219.5 3021.6 L1221.6 3022.1 L1223.7 3022.5 L1225.7 3023.0 L1227.8 3023.4 L1229.8 3023.9 L1231.9 3024.3 L1233.9 3024.7 L1236.0 3025.2 L1238.1 3025.6 L1240.1 3026.1 L1242.2 3026.5 L1244.2 3026.9 L1246.3 3027.4 L1248.4 3027.8 L1250.4 3028.2 L1252.5 3028.6 L1254.5 3029.1 L1256.6 3029.5 L1258.7 3029.9 L1260.7 3030.3 L1262.8 3030.7 L1264.8 3031.1 L1266.9 3031.5 L1269.0 3032.0 L1271.0 3032.4 L1273.1 3032.8 L1275.1 3033.2 L1277.2 3033.6 L1279.3 3034.0 L1281.3 3034.4 L1283.4 3034.7 L1285.4 3035.1 L1287.5 3035.5 L1289.5 3035.9 L1291.6 3036.3 L1293.7 3036.7 L1295.7 3037.1 L1297.8 3037.4 L1299.8 3037.8 L1301.9 3038.2 L1304.0 3038.6 L1306.0 3038.9 L1308.1 3039.3 L1310.1 3039.7 L1312.2 3040.0 L1314.3 3040.4 L1316.3 3040.8 L1318.4 3041.1 L1320.4 3041.5 L1322.5 3041.8 L1324.6 3042.2 L1326.6 3042.5 L1328.7 3042.9 L1330.7 3043.2 L1332.8 3043.6 L1334.9 3043.9 L1336.9 3044.3 L1339.0 3044.6 L1341.0 3045.0 L1343.1 3045.3 L1345.1 3045.6 L1347.2 3046.0 L1349.3 3046.3 L1351.3 3046.6 L1353.4 3047.0 L1355.4 3047.3 L1357.5 3047.6 L1359.6 3047.9 L1361.6 3048.3 L1363.7 3048.6 L1365.7 3048.9 L1367.8 3049.2 L1369.9 3049.5 L1371.9 3049.9 L1374.0 3050.2 L1376.0 3050.5 L1378.1 3050.8 L1380.2 3051.1 L1382.2 3051.4 L1384.3 3051.7 L1386.3 3052.0 L1388.4 3052.3 L1390.5 3052.6 L1392.5 3052.9 L1394.6 3053.2 L1396.6 3053.5 L1398.7 3053.8 L1400.7 3054.1 L1402.8 3054.4 L1404.9 3054.7 L1406.9 3055.0 L1409.0 3055.3 L1411.0 3055.5 L1413.1 3055.8 L1415.2 3056.1 L1417.2 3056.4 L1419.3 3056.7 L1421.3 3056.9 L1423.4 3057.2 L1425.5 3057.5 L1427.5 3057.8 L1429.6 3058.0 L1431.6 3058.3 L1433.7 3058.6 L1435.8 3058.9 L1437.8 3059.1 L1439.9 3059.4 L1441.9 3059.6 L1444.0 3059.9 L1446.1 3060.2 L1448.1 3060.4 L1450.2 3060.7 L1452.2 3060.9 L1454.3 3061.2 L1456.3 3061.5 L1458.4 3061.7 L1460.5 3062.0 L1462.5 3062.2 L1464.6 3062.5 L1466.6 3062.7 L1468.7 3063.0 L1470.8 3063.2 L1472.8 3063.4 L1474.9 3063.7 L1476.9 3063.9 L1479.0 3064.2 L1481.1 3064.4 L1483.1 3064.6 L1485.2 3064.9 L1487.2 3065.1 L1489.3 3065.3 L1491.4 3065.6 L1493.4 3065.8 L1495.5 3066.0 L1497.5 3066.3 L1499.6 3066.5 L1501.7 3066.7 L1503.7 3066.9 L1505.8 3067.2 L1507.8 3067.4 L1509.9 3067.6 L1511.9 3067.8 L1514.0 3068.1 L1516.1 3068.3 L1518.1 3068.5 L1520.2 3068.7 L1522.2 3068.9 L1524.3 3069.1 L1526.4 3069.4 L1528.4 3069.6 L1530.5 3069.8 L1532.5 3070.0 L1534.6 3070.2 L1536.7 3070.4 L1538.7 3070.6 L1540.8 3070.8 L1542.8 3071.0 L1544.9 3071.2 L1547.0 3071.4 L1549.0 3071.6 L1551.1 3071.8 L1553.1 3072.0 L1555.2 3072.2 L1557.2 3072.4 L1559.3 3072.6 L1561.4 3072.8 L1563.4 3073.0 L1565.5 3073.2 L1567.5 3073.4 L1569.6 3073.6 L1571.7 3073.8 L1573.7 3074.0 L1575.8 3074.2 L1577.8 3074.4 L1579.9 3074.5 L1582.0 3074.7 L1584.0 3074.9 L1586.1 3075.1 L1588.1 3075.3 L1590.2 3075.5 L1592.3 3075.6 L1594.3 3075.8 L1596.4 3076.0 L1598.4 3076.2 L1600.5 3076.4 L1602.6 3076.5 L1604.6 3076.7 L1606.7 3076.9 L1608.7 3077.1 L1610.8 3077.2 L1612.8 3077.4 L1614.9 3077.6 L1617.0 3077.8 L1619.0 3077.9 L1621.1 3078.1 L1623.1 3078.3 L1625.2 3078.4 L1627.3 3078.6 L1629.3 3078.8 L1631.4 3078.9 L1633.4 3079.1 L1635.5 3079.3 L1637.6 3079.4 L1639.6 3079.6 L1641.7 3079.8 L1643.7 3079.9 L1645.8 3080.1 L1647.9 3080.2 L1649.9 3080.4 L1652.0 3080.5 L1654.0 3080.7 L1656.1 3080.9 L1658.2 3081.0 L1660.2 3081.2 L1662.3 3081.3 L1664.3 3081.5 L1666.4 3081.6 L1668.4 3081.8 L1670.5 3081.9 L1672.6 3082.1 L1674.6 3082.2 L1676.7 3082.4 L1678.7 3082.5 L1680.8 3082.7 L1682.9 3082.8 L1684.9 3083.0 L1687.0 3083.1 L1689.0 3083.3 L1691.1 3083.4 L1693.2 3083.5 L1695.2 3083.7 L1697.3 3083.8 L1699.3 3084.0 L1701.4 3084.1 L1703.5 3084.2 L1705.5 3084.4 L1707.6 3084.5 L1709.6 3084.7 L1711.7 3084.8 L1713.8 3084.9 L1715.8 3085.1 L1717.9 3085.2 L1719.9 3085.3 L1722.0 3085.5 L1724.0 3085.6 L1726.1 3085.7 L1728.2 3085.9 L1730.2 3086.0 L1732.3 3086.1 L1734.3 3086.2 L1736.4 3086.4 L1738.5 3086.5 L1740.5 3086.6 L1742.6 3086.8 L1744.6 3086.9 L1746.7 3087.0 L1748.8 3087.1 L1750.8 3087.3 L1752.9 3087.4 L1754.9 3087.5 L1757.0 3087.6 L1759.1 3087.7 L1761.1 3087.9 L1763.2 3088.0 L1765.2 3088.1 L1767.3 3088.2 L1769.4 3088.3 L1771.4 3088.5 L1773.5 3088.6 L1775.5 3088.7 L1777.6 3088.8 L1779.6 3088.9 L1781.7 3089.0 L1783.8 3089.1 L1785.8 3089.3 L1787.9 3089.4 L1789.9 3089.5 L1792.0 3089.6 L1794.1 3089.7 L1796.1 3089.8 L1798.2 3089.9 L1800.2 3090.0 L1802.3 3090.2 L1804.4 3090.3 L1806.4 3090.4 L1808.5 3090.5 L1810.5 3090.6 L1812.6 3090.7 L1814.7 3090.8 L1816.7 3090.9 L1818.8 3091.0 L1820.8 3091.1 L1822.9 3091.2 L1825.0 3091.3 L1827.0 3091.4 L1829.1 3091.5 L1831.1 3091.6 L1833.2 3091.7 L1835.2 3091.8 L1837.3 3091.9 L1839.4 3092.0 L1841.4 3092.1 L1843.5 3092.2 L1845.5 3092.3 L1847.6 3092.4 L1849.7 3092.5 L1851.7 3092.6 L1853.8 3092.7 L1855.8 3092.8 L1857.9 3092.9 L1860.0 3093.0 L1862.0 3093.1 L1864.1 3093.2 L1866.1 3093.3 L1868.2 3093.4 L1870.3 3093.5 L1872.3 3093.6 L1874.4 3093.6 L1876.4 3093.7 L1878.5 3093.8 L1880.6 3093.9 L1882.6 3094.0 L1884.7 3094.1 L1886.7 3094.2 L1888.8 3094.3 L1890.8 3094.4 L1892.9 3094.4 L1895.0 3094.5 L1897.0 3094.6 L1899.1 3094.7 L1901.1 3094.8 L1903.2 3094.9 L1905.3 3095.0 L1907.3 3095.0 L1909.4 3095.1 L1911.4 3095.2 L1913.5 3095.3" fill="none" stroke="#0000ff" stroke-width="11" stroke-linejoin="round" stroke-miterlimit="10" stroke-dasharray="31 30"/>
<path d="M266.1 2510.8 L268.2 2513.9 L270.2 2517.0 L272.3 2520.0 L274.3 2523.1 L276.4 2526.1 L278.5 2529.1 L280.5 2532.1 L282.6 2535.1 L284.6 2538.1 L286.7 2541.0 L288.8 2544.0 L290.8 2546.9 L292.9 2549.8 L294.9 2552.8 L297.0 2555.7 L299.0 2558.5 L301.1 2561.4 L303.2 2564.3 L305.2 2567.1 L307.3 2569.9 L309.3 2572.8 L311.4 2575.6 L313.5 2578.4 L315.5 2581.1 L317.6 2583.9 L319.6 2586.7 L321.7 2589.4 L323.8 2592.1 L325.8 2594.8 L327.9 2597.5 L329.9 2600.2 L332.0 2602.9 L334.1 2605.6 L336.1 2608.2 L338.2 2610.9 L340.2 2613.5 L342.3 2616.1 L344.4 2618.7 L346.4 2621.3 L348.5 2623.9 L350.5 2626.4 L352.6 2629.0 L354.6 2631.5 L356.7 2634.0 L358.8 2636.6 L360.8 2639.1 L362.9 2641.5 L364.9 2644.0 L367.0 2646.5 L369.1 2648.9 L371.1 2651.4 L373.2 2653.8 L375.2 2656.2 L377.3 2658.6 L379.4 2661.0 L381.4 2663.4 L383.5 2665.8 L385.5 2668.1 L387.6 2670.5 L389.7 2672.8 L391.7 2675.1 L393.8 2677.4 L395.8 2679.7 L397.9 2682.0 L400.0 2684.3 L402.0 2686.5 L404.1 2688.8 L406.1 2691.0 L408.2 2693.2 L410.2 2695.4 L412.3 2697.6 L414.4 2699.8 L416.4 2702.0 L418.5 2704.2 L420.5 2706.4 L422.6 2708.5 L424.7 2710.7 L426.7 2712.9 L428.8 2715.0 L430.8 2717.2 L432.9 2719.3 L435.0 2721.4 L437.0 2723.6 L439.1 2725.7 L441.1 2727.8 L443.2 2729.9 L445.3 2732.0 L447.3 2734.1 L449.4 2736.2 L451.4 2738.3 L453.5 2740.4 L455.6 2742.4 L457.6 2744.5 L459.7 2746.5 L461.7 2748.6 L463.8 2750.6 L465.8 2752.6 L467.9 2754.6 L470.0 2756.6 L472.0 2758.6 L474.1 2760.6 L476.1 2762.5 L478.2 2764.5 L480.3 2766.5 L482.3 2768.4 L484.4 2770.3 L486.4 2772.2 L488.5 2774.2 L490.6 2776.0 L492.6 2777.9 L494.7 2779.8 L496.7 2781.7 L498.8 2783.5 L500.9 2785.4 L502.9 2787.2 L505.0 2789.0 L507.0 2790.8 L509.1 2792.6 L511.2 2794.4 L513.2 2796.2 L515.3 2797.9 L517.3 2799.7 L519.4 2801.4 L521.4 2803.1 L523.5 2804.8 L525.6 2806.5 L527.6 2808.2 L529.7 2809.9 L531.7 2811.5 L533.8 2813.2 L535.9 2814.8 L537.9 2816.4 L540.0 2818.0 L542.0 2819.6 L544.1 2821.2 L546.2 2822.8 L548.2 2824.3 L550.3 2825.9 L552.3 2827.4 L554.4 2828.9 L556.5 2830.4 L558.5 2831.9 L560.6 2833.4 L562.6 2834.8 L564.7 2836.3 L566.8 2837.7 L568.8 2839.2 L570.9 2840.6 L572.9 2842.0 L575.0 2843.3 L577.0 2844.7 L579.1 2846.0 L581.2 2847.4 L583.2 2848.7 L585.3 2849.9 L587.3 2851.2 L589.4 2852.5 L591.5 2853.7 L593.5 2854.9 L595.6 2856.2 L597.6 2857.4 L599.7 2858.6 L601.8 2859.7 L603.8 2860.9 L605.9 2862.1 L607.9 2863.2 L610.0 2864.3 L612.1 2865.5 L614.1 2866.6 L616.2 2867.7 L618.2 2868.8 L620.3 2869.9 L622.4 2871.0 L624.4 2872.1 L626.5 2873.2 L628.5 2874.2 L630.6 2875.3 L632.6 2876.4 L634.7 2877.4 L636.8 2878.5 L638.8 2879.5 L640.9 2880.6 L642.9 2881.6 L645.0 2882.7 L647.1 2883.7 L649.1 2884.8 L651.2 2885.8 L653.2 2886.9 L655.3 2887.9 L657.4 2889.0 L659.4 2890.0 L661.5 2891.0 L663.5 2892.1 L665.6 2893.1 L667.7 2894.2 L669.7 2895.3 L671.8 2896.3 L673.8 2897.4 L675.9 2898.4 L678.0 2899.5 L680.0 2900.6 L682.1 2901.6 L684.1 2902.7 L686.2 2903.8 L688.2 2904.8 L690.3 2905.9 L692.4 2906.9 L694.4 2907.9 L696.5 2909.0 L698.5 2910.0 L700.6 2911.0 L702.7 2912.0 L704.7 2913.0 L706.8 2914.0 L708.8 2915.1 L710.9 2916.0 L713.0 2917.0 L715.0 2918.0 L717.1 2919.0 L719.1 2920.0 L721.2 2921.0 L723.3 2921.9 L725.3 2922.9 L727.4 2923.9 L729.4 2924.8 L731.5 2925.8 L733.5 2926.7 L735.6 2927.6 L737.7 2928.6 L739.7 2929.5 L741.8 2930.4 L743.8 2931.4 L745.9 2932.3 L748.0 2933.2 L750.0 2934.1 L752.1 2935.0 L754.1 2935.9 L756.2 2936.8 L758.3 2937.7 L760.3 2938.6 L762.4 2939.5 L764.4 2940.3 L766.5 2941.2 L768.6 2942.1 L770.6 2942.9 L772.7 2943.8 L774.7 2944.6 L776.8 2945.5 L778.9 2946.3 L780.9 2947.2 L783.0 2948.0 L785.0 2948.8 L787.1 2949.7 L789.1 2950.5 L791.2 2951.3 L793.3 2952.1 L795.3 2952.9 L797.4 2953.7 L799.4 2954.5 L801.5 2955.3 L803.6 2956.1 L805.6 2956.9 L807.7 2957.7 L809.7 2958.5 L811.8 2959.2 L813.9 2960.0 L815.9 2960.8 L818.0 2961.5 L820.0 2962.3 L822.1 2963.0 L824.2 2963.8 L826.2 2964.5 L828.3 2965.3 L830.3 2966.0 L832.4 2966.7 L834.5 2967.5 L836.5 2968.2 L838.6 2968.9 L840.6 2969.6 L842.7 2970.3 L844.7 2971.0 L846.8 2971.8 L848.9 2972.5 L850.9 2973.1 L853.0 2973.8 L855.0 2974.5 L857.1 2975.2 L859.2 2975.9 L861.2 2976.6 L863.3 2977.2 L865.3 2977.9 L867.4 2978.6 L869.5 2979.2 L871.5 2979.9 L873.6 2980.5 L875.6 2981.2 L877.7 2981.8 L879.8 2982.5 L881.8 2983.1 L883.9 2983.7 L885.9 2984.4 L888.0 2985.0 L890.1 2985.6 L892.1 2986.2 L894.2 2986.8 L896.2 2987.4 L898.3 2988.1 L900.3 2988.7 L902.4 2989.3 L904.5 2989.9 L906.5 2990.5 L908.6 2991.1 L910.6 2991.6 L912.7 2992.2 L914.8 2992.8 L916.8 2993.4 L918.9 2994.0 L920.9 2994.5 L923.0 2995.1 L925.1 2995.7 L927.1 2996.3 L929.2 2996.8 L931.2 2997.4 L933.3 2997.9 L935.4 2998.5 L937.4 2999.0 L939.5 2999.6 L941.5 3000.1 L943.6 3000.7 L945.7 3001.2 L947.7 3001.8 L949.8 3002.3 L951.8 3002.8 L953.9 3003.4 L955.9 3003.9 L958.0 3004.4 L960.1 3004.9 L962.1 3005.5 L964.2 3006.0 L966.2 3006.5 L968.3 3007.0 L970.4 3007.5 L972.4 3008.0 L974.5 3008.5 L976.5 3009.0 L978.6 3009.5 L980.7 3010.0 L982.7 3010.5 L984.8 3011.0 L986.8 3011.5 L988.9 3012.0 L991.0 3012.5 L993.0 3012.9 L995.1 3013.4 L997.1 3013.9 L999.2 3014.4 L1001.3 3014.9 L1003.3 3015.3 L1005.4 3015.8 L1007.4 3016.3 L1009.5 3016.7 L1011.5 3017.2 L1013.6 3017.6 L1015.7 3018.1 L1017.7 3018.5 L1019.8 3019.0 L1021.8 3019.4 L1023.9 3019.9 L1026.0 3020.3 L1028.0 3020.8 L1030.1 3021.2 L1032.1 3021.7 L1034.2 3022.1 L1036.3 3022.5 L1038.3 3023.0 L1040.4 3023.4 L1042.4 3023.8 L1044.5 3024.2 L1046.6 3024.7 L1048.6 3025.1 L1050.7 3025.5 L1052.7 3025.9 L1054.8 3026.3 L1056.9 3026.8 L1058.9 3027.2 L1061.0 3027.6 L1063.0 3028.0 L1065.1 3028.4 L1067.1 3028.8 L1069.2 3029.2 L1071.3 3029.6 L1073.3 3030.0 L1075.4 3030.4 L1077.4 3030.8 L1079.5 3031.2 L1081.6 3031.6 L1083.6 3032.0 L1085.7 3032.3 L1087.7 3032.7 L1089.8 3033.1 L1091.9 3033.5 L1093.9 3033.9 L1096.0 3034.2 L1098.0 3034.6 L1100.1 3035.0 L1102.2 3035.4 L1104.2 3035.7 L1106.3 3036.1 L1108.3 3036.5 L1110.4 3036.8 L1112.5 3037.2 L1114.5 3037.6 L1116.6 3037.9 L1118.6 3038.3 L1120.7 3038.6 L1122.7 3039.0 L1124.8 3039.3 L1126.9 3039.7 L1128.9 3040.0 L1131.0 3040.4 L1133.0 3040.7 L1135.1 3041.1 L1137.2 3041.4 L1139.2 3041.8 L1141.3 3042.1 L1143.3 3042.4 L1145.4 3042.8 L1147.5 3043.1 L1149.5 3043.4 L1151.6 3043.8 L1153.6 3044.1 L1155.7 3044.4 L1157.8 3044.7 L1159.8 3045.1 L1161.9 3045.4 L1163.9 3045.7 L1166.0 3046.0 L1168.1 3046.3 L1170.1 3046.7 L1172.2 3047.0 L1174.2 3047.3 L1176.3 3047.6 L1178.3 3047.9 L1180.4 3048.2 L1182.5 3048.5 L1184.5 3048.8 L1186.6 3049.1 L1188.6 3049.4 L1190.7 3049.7 L1192.8 3050.0 L1194.8 3050.3 L1196.9 3050.6 L1198.9 3050.9 L1201.0 3051.2 L1203.1 3051.5 L1205.1 3051.8 L1207.2 3052.1 L1209.2 3052.4 L1211.3 3052.7 L1213.4 3053.0 L1215.4 3053.3 L1217.5 3053.5 L1219.5 3053.8 L1221.6 3054.1 L1223.7 3054.4 L1225.7 3054.7 L1227.8 3054.9 L1229.8 3055.2 L1231.9 3055.5 L1233.9 3055.8 L1236.0 3056.0 L1238.1 3056.3 L1240.1 3056.6 L1242.2 3056.8 L1244.2 3057.1 L1246.3 3057.4 L1248.4 3057.6 L1250.4 3057.9 L1252.5 3058.2 L1254.5 3058.4 L1256.6 3058.7 L1258.7 3058.9 L1260.7 3059.2 L1262.8 3059.4 L1264.8 3059.7 L1266.9 3059.9 L1269.0 3060.2 L1271.0 3060.4 L1273.1 3060.7 L1275.1 3060.9 L1277.2 3061.2 L1279.3 3061.4 L1281.3 3061.7 L1283.4 3061.9 L1285.4 3062.2 L1287.5 3062.4 L1289.5 3062.6 L1291.6 3062.9 L1293.7 3063.1 L1295.7 3063.4 L1297.8 3063.6 L1299.8 3063.8 L1301.9 3064.1 L1304.0 3064.3 L1306.0 3064.5 L1308.1 3064.7 L1310.1 3065.0 L1312.2 3065.2 L1314.3 3065.4 L1316.3 3065.7 L1318.4 3065.9 L1320.4 3066.1 L1322.5 3066.3 L1324.6 3066.5 L1326.6 3066.8 L1328.7 3067.0 L1330.7 3067.2 L1332.8 3067.4 L1334.9 3067.6 L1336.9 3067.9 L1339.0 3068.1 L1341.0 3068.3 L1343.1 3068.5 L1345.1 3068.7 L1347.2 3068.9 L1349.3 3069.1 L1351.3 3069.3 L1353.4 3069.5 L1355.4 3069.7 L1357.5 3069.9 L1359.6 3070.1 L1361.6 3070.4 L1363.7 3070.6 L1365.7 3070.8 L1367.8 3071.0 L1369.9 3071.2 L1371.9 3071.4 L1374.0 3071.6 L1376.0 3071.7 L1378.1 3071.9 L1380.2 3072.1 L1382.2 3072.3 L1384.3 3072.5 L1386.3 3072.7 L1388.4 3072.9 L1390.5 3073.1 L1392.5 3073.3 L1394.6 3073.5 L1396.6 3073.7 L1398.7 3073.8 L1400.7 3074.0 L1402.8 3074.2 L1404.9 3074.4 L1406.9 3074.6 L1409.0 3074.8 L1411.0 3074.9 L1413.1 3075.1 L1415.2 3075.3 L1417.2 3075.5 L1419.3 3075.7 L1421.3 3075.8 L1423.4 3076.0 L1425.5 3076.2 L1427.5 3076.4 L1429.6 3076.5 L1431.6 3076.7 L1433.7 3076.9 L1435.8 3077.1 L1437.8 3077.2 L1439.9 3077.4 L1441.9 3077.6 L1444.0 3077.7 L1446.1 3077.9 L1448.1 3078.1 L1450.2 3078.2 L1452.2 3078.4 L1454.3 3078.6 L1456.3 3078.7 L1458.4 3078.9 L1460.5 3079.1 L1462.5 3079.2 L1464.6 3079.4 L1466.6 3079.5 L1468.7 3079.7 L1470.8 3079.9 L1472.8 3080.0 L1474.9 3080.2 L1476.9 3080.3 L1479.0 3080.5 L1481.1 3080.6 L1483.1 3080.8 L1485.2 3080.9 L1487.2 3081.1 L1489.3 3081.2 L1491.4 3081.4 L1493.4 3081.5 L1495.5 3081.7 L1497.5 3081.8 L1499.6 3082.0 L1501.7 3082.1 L1503.7 3082.3 L1505.8 3082.4 L1507.8 3082.6 L1509.9 3082.7 L1511.9 3082.9 L1514.0 3083.0 L1516.1 3083.2 L1518.1 3083.3 L1520.2 3083.4 L1522.2 3083.6 L1524.3 3083.7 L1526.4 3083.9 L1528.4 3084.0 L1530.5 3084.1 L1532.5 3084.3 L1534.6 3084.4 L1536.7 3084.5 L1538.7 3084.7 L1540.8 3084.8 L1542.8 3085.0 L1544.9 3085.1 L1547.0 3085.2 L1549.0 3085.4 L1551.1 3085.5 L1553.1 3085.6 L1555.2 3085.7 L1557.2 3085.9 L1559.3 3086.0 L1561.4 3086.1 L1563.4 3086.3 L1565.5 3086.4 L1567.5 3086.5 L1569.6 3086.6 L1571.7 3086.8 L1573.7 3086.9 L1575.8 3087.0 L1577.8 3087.1 L1579.9 3087.3 L1582.0 3087.4 L1584.0 3087.5 L1586.1 3087.6 L1588.1 3087.8 L1590.2 3087.9 L1592.3 3088.0 L1594.3 3088.1 L1596.4 3088.2 L1598.4 3088.4 L1600.5 3088.5 L1602.6 3088.6 L1604.6 3088.7 L1606.7 3088.8 L1608.7 3088.9 L1610.8 3089.1 L1612.8 3089.2 L1614.9 3089.3 L1617.0 3089.4 L1619.0 3089.5 L1621.1 3089.6 L1623.1 3089.7 L1625.2 3089.9 L1627.3 3090.0 L1629.3 3090.1 L1631.4 3090.2 L1633.4 3090.3 L1635.5 3090.4 L1637.6 3090.5 L1639.6 3090.6 L1641.7 3090.7 L1643.7 3090.8 L1645.8 3090.9 L1647.9 3091.1 L1649.9 3091.2 L1652.0 3091.3 L1654.0 3091.4 L1656.1 3091.5 L1658.2 3091.6 L1660.2 3091.7 L1662.3 3091.8 L1664.3 3091.9 L1666.4 3092.0 L1668.4 3092.1 L1670.5 3092.2 L1672.6 3092.3 L1674.6 3092.4 L1676.7 3092.5 L1678.7 3092.6 L1680.8 3092.7 L1682.9 3092.8 L1684.9 3092.9 L1687.0 3093.0 L1689.0 3093.1 L1691.1 3093.2 L1693.2 3093.3 L1695.2 3093.4 L1697.3 3093.5 L1699.3 3093.6 L1701.4 3093.6 L1703.5 3093.7 L1705.5 3093.8 L1707.6 3093.9 L1709.6 3094.0 L1711.7 3094.1 L1713.8 3094.2 L1715.8 3094.3 L1717.9 3094.4 L1719.9 3094.5 L1722.0 3094.6 L1724.0 3094.7 L1726.1 3094.7 L1728.2 3094.8 L1730.2 3094.9 L1732.3 3095.0 L1734.3 3095.1 L1736.4 3095.2 L1738.5 3095.3 L1740.5 3095.4 L1742.6 3095.4 L1744.6 3095.5 L1746.7 3095.6 L1748.8 3095.7 L1750.8 3095.8 L1752.9 3095.9 L1754.9 3096.0 L1757.0 3096.0 L1759.1 3096.1 L1761.1 3096.2 L1763.2 3096.3 L1765.2 3096.4 L1767.3 3096.4 L1769.4 3096.5 L1771.4 3096.6 L1773.5 3096.7 L1775.5 3096.8 L1777.6 3096.8 L1779.6 3096.9 L1781.7 3097.0 L1783.8 3097.1 L1785.8 3097.2 L1787.9 3097.2 L1789.9 3097.3 L1792.0 3097.4 L1794.1 3097.5 L1796.1 3097.5 L1798.2 3097.6 L1800.2 3097.7 L1802.3 3097.8 L1804.4 3097.8 L1806.4 3097.9 L1808.5 3098.0 L1810.5 3098.1 L1812.6 3098.1 L1814.7 3098.2 L1816.7 3098.3 L1818.8 3098.4 L1820.8 3098.4 L1822.9 3098.5 L1825.0 3098.6 L1827.0 3098.6 L1829.1 3098.7 L1831.1 3098.8 L1833.2 3098.9 L1835.2 3098.9 L1837.3 3099.0 L1839.4 3099.1 L1841.4 3099.1 L1843.5 3099.2 L1845.5 3099.3 L1847.6 3099.3 L1849.7 3099.4 L1851.7 3099.5 L1853.8 3099.5 L1855.8 3099.6 L1857.9 3099.7 L1860.0 3099.7 L1862.0 3099.8 L1864.1 3099.9 L1866.1 3099.9 L1868.2 3100.0 L1870.3 3100.1 L1872.3 3100.1 L1874.4 3100.2 L1876.4 3100.2 L1878.5 3100.3 L1880.6 3100.4 L1882.6 3100.4 L1884.7 3100.5 L1886.7 3100.6 L1888.8 3100.6 L1890.8 3100.7 L1892.9 3100.7 L1895.0 3100.8 L1897.0 3100.9 L1899.1 3100.9 L1901.1 3101.0 L1903.2 3101.0 L1905.3 3101.1 L1907.3 3101.2 L1909.4 3101.2 L1911.4 3101.3 L1913.5 3101.3" fill="none" stroke="#0000ff" stroke-width="11" stroke-linejoin="round" stroke-miterlimit="10" stroke-dasharray="31 30"/>
<path d="M266.1 2755.6 L268.2 2757.6 L270.2 2759.6 L272.3 2761.6 L274.3 2763.6 L276.4 2765.6 L278.5 2767.5 L280.5 2769.5 L282.6 2771.4 L284.6 2773.4 L286.7 2775.3 L288.8 2777.2 L290.8 2779.2 L292.9 2781.1 L294.9 2783.0 L297.0 2784.8 L299.0 2786.7 L301.1 2788.6 L303.2 2790.4 L305.2 2792.3 L307.3 2794.1 L309.3 2795.9 L311.4 2797.7 L313.5 2799.5 L315.5 2801.3 L317.6 2803.0 L319.6 2804.8 L321.7 2806.5 L323.8 2808.2 L325.8 2809.9 L327.9 2811.6 L329.9 2813.2 L332.0 2814.9 L334.1 2816.5 L336.1 2818.1 L338.2 2819.7 L340.2 2821.3 L342.3 2822.9 L344.4 2824.4 L346.4 2826.0 L348.5 2827.5 L350.5 2829.0 L352.6 2830.4 L354.6 2831.9 L356.7 2833.3 L358.8 2834.8 L360.8 2836.2 L362.9 2837.5 L364.9 2838.9 L367.0 2840.2 L369.1 2841.6 L371.1 2842.9 L373.2 2844.2 L375.2 2845.5 L377.3 2846.8 L379.4 2848.0 L381.4 2849.3 L383.5 2850.6 L385.5 2851.9 L387.6 2853.1 L389.7 2854.4 L391.7 2855.7 L393.8 2856.9 L395.8 2858.2 L397.9 2859.4 L400.0 2860.6 L402.0 2861.9 L404.1 2863.1 L406.1 2864.3 L408.2 2865.5 L410.2 2866.7 L412.3 2867.9 L414.4 2869.1 L416.4 2870.3 L418.5 2871.5 L420.5 2872.7 L422.6 2873.9 L424.7 2875.1 L426.7 2876.2 L428.8 2877.4 L430.8 2878.5 L432.9 2879.7 L435.0 2880.8 L437.0 2882.0 L439.1 2883.1 L441.1 2884.3 L443.2 2885.4 L445.3 2886.5 L447.3 2887.6 L449.4 2888.8 L451.4 2889.9 L453.5 2891.0 L455.6 2892.1 L457.6 2893.2 L459.7 2894.2 L461.7 2895.3 L463.8 2896.4 L465.8 2897.5 L467.9 2898.5 L470.0 2899.6 L472.0 2900.7 L474.1 2901.7 L476.1 2902.8 L478.2 2903.8 L480.3 2904.9 L482.3 2905.9 L484.4 2906.9 L486.4 2907.9 L488.5 2909.0 L490.6 2910.0 L492.6 2911.0 L494.7 2912.0 L496.7 2913.0 L498.8 2914.0 L500.9 2915.0 L502.9 2916.0 L505.0 2917.0 L507.0 2917.9 L509.1 2918.9 L511.2 2919.9 L513.2 2920.8 L515.3 2921.8 L517.3 2922.7 L519.4 2923.7 L521.4 2924.6 L523.5 2925.6 L525.6 2926.5 L527.6 2927.4 L529.7 2928.4 L531.7 2929.3 L533.8 2930.2 L535.9 2931.1 L537.9 2932.0 L540.0 2932.9 L542.0 2933.8 L544.1 2934.7 L546.2 2935.5 L548.2 2936.4 L550.3 2937.2 L552.3 2938.1 L554.4 2938.9 L556.5 2939.7 L558.5 2940.5 L560.6 2941.2 L562.6 2942.0 L564.7 2942.8 L566.8 2943.5 L568.8 2944.3 L570.9 2945.0 L572.9 2945.7 L575.0 2946.4 L577.0 2947.1 L579.1 2947.9 L581.2 2948.5 L583.2 2949.2 L585.3 2949.9 L587.3 2950.6 L589.4 2951.3 L591.5 2951.9 L593.5 2952.6 L595.6 2953.2 L597.6 2953.9 L599.7 2954.5 L601.8 2955.2 L603.8 2955.8 L605.9 2956.5 L607.9 2957.1 L610.0 2957.7 L612.1 2958.3 L614.1 2959.0 L616.2 2959.6 L618.2 2960.2 L620.3 2960.8 L622.4 2961.5 L624.4 2962.1 L626.5 2962.7 L628.5 2963.3 L630.6 2964.0 L632.6 2964.6 L634.7 2965.2 L636.8 2965.8 L638.8 2966.4 L640.9 2967.1 L642.9 2967.7 L645.0 2968.3 L647.1 2969.0 L649.1 2969.6 L651.2 2970.2 L653.2 2970.9 L655.3 2971.5 L657.4 2972.2 L659.4 2972.8 L661.5 2973.5 L663.5 2974.1 L665.6 2974.8 L667.7 2975.4 L669.7 2976.1 L671.8 2976.8 L673.8 2977.5 L675.9 2978.1 L678.0 2978.8 L680.0 2979.5 L682.1 2980.2 L684.1 2980.9 L686.2 2981.5 L688.2 2982.2 L690.3 2982.9 L692.4 2983.6 L694.4 2984.2 L696.5 2984.9 L698.5 2985.5 L700.6 2986.2 L702.7 2986.8 L704.7 2987.5 L706.8 2988.1 L708.8 2988.8 L710.9 2989.4 L713.0 2990.0 L715.0 2990.7 L717.1 2991.3 L719.1 2991.9 L721.2 2992.5 L723.3 2993.1 L725.3 2993.8 L727.4 2994.4 L729.4 2995.0 L731.5 2995.6 L733.5 2996.2 L735.6 2996.8 L737.7 2997.4 L739.7 2998.0 L741.8 2998.5 L743.8 2999.1 L745.9 2999.7 L748.0 3000.3 L750.0 3000.9 L752.1 3001.4 L754.1 3002.0 L756.2 3002.6 L758.3 3003.1 L760.3 3003.7 L762.4 3004.3 L764.4 3004.8 L766.5 3005.4 L768.6 3005.9 L770.6 3006.5 L772.7 3007.0 L774.7 3007.5 L776.8 3008.1 L778.9 3008.6 L780.9 3009.1 L783.0 3009.7 L785.0 3010.2 L787.1 3010.7 L789.1 3011.2 L791.2 3011.7 L793.3 3012.3 L795.3 3012.8 L797.4 3013.3 L799.4 3013.8 L801.5 3014.3 L803.6 3014.8 L805.6 3015.3 L807.7 3015.8 L809.7 3016.3 L811.8 3016.7 L813.9 3017.2 L815.9 3017.7 L818.0 3018.2 L820.0 3018.7 L822.1 3019.1 L824.2 3019.6 L826.2 3020.1 L828.3 3020.6 L830.3 3021.0 L832.4 3021.5 L834.5 3021.9 L836.5 3022.4 L838.6 3022.8 L840.6 3023.3 L842.7 3023.7 L844.7 3024.2 L846.8 3024.6 L848.9 3025.1 L850.9 3025.5 L853.0 3025.9 L855.0 3026.4 L857.1 3026.8 L859.2 3027.2 L861.2 3027.7 L863.3 3028.1 L865.3 3028.5 L867.4 3028.9 L869.5 3029.3 L871.5 3029.8 L873.6 3030.2 L875.6 3030.6 L877.7 3031.0 L879.8 3031.4 L881.8 3031.8 L883.9 3032.2 L885.9 3032.6 L888.0 3033.0 L890.1 3033.4 L892.1 3033.8 L894.2 3034.2 L896.2 3034.6 L898.3 3035.0 L900.3 3035.4 L902.4 3035.8 L904.5 3036.2 L906.5 3036.6 L908.6 3037.0 L910.6 3037.3 L912.7 3037.7 L914.8 3038.1 L916.8 3038.5 L918.9 3038.9 L920.9 3039.3 L923.0 3039.7 L925.1 3040.1 L927.1 3040.5 L929.2 3040.9 L931.2 3041.2 L933.3 3041.6 L935.4 3042.0 L937.4 3042.4 L939.5 3042.8 L941.5 3043.2 L943.6 3043.5 L945.7 3043.9 L947.7 3044.3 L949.8 3044.7 L951.8 3045.0 L953.9 3045.4 L955.9 3045.8 L958.0 3046.1 L960.1 3046.5 L962.1 3046.9 L964.2 3047.2 L966.2 3047.6 L968.3 3047.9 L970.4 3048.3 L972.4 3048.6 L974.5 3049.0 L976.5 3049.3 L978.6 3049.7 L980.7 3050.0 L982.7 3050.4 L984.8 3050.7 L986.8 3051.0 L988.9 3051.4 L991.0 3051.7 L993.0 3052.0 L995.1 3052.4 L997.1 3052.7 L999.2 3053.0 L1001.3 3053.3 L1003.3 3053.7 L1005.4 3054.0 L1007.4 3054.3 L1009.5 3054.6 L1011.5 3054.9 L1013.6 3055.2 L1015.7 3055.5 L1017.7 3055.8 L1019.8 3056.1 L1021.8 3056.4 L1023.9 3056.7 L1026.0 3057.0 L1028.0 3057.3 L1030.1 3057.6 L1032.1 3057.9 L1034.2 3058.1 L1036.3 3058.4 L1038.3 3058.7 L1040.4 3059.0 L1042.4 3059.2 L1044.5 3059.5 L1046.6 3059.8 L1048.6 3060.0 L1050.7 3060.3 L1052.7 3060.5 L1054.8 3060.8 L1056.9 3061.0 L1058.9 3061.3 L1061.0 3061.5 L1063.0 3061.8 L1065.1 3062.0 L1067.1 3062.3 L1069.2 3062.5 L1071.3 3062.7 L1073.3 3062.9 L1075.4 3063.2 L1077.4 3063.4 L1079.5 3063.6 L1081.6 3063.8 L1083.6 3064.0 L1085.7 3064.3 L1087.7 3064.5 L1089.8 3064.7 L1091.9 3064.9 L1093.9 3065.1 L1096.0 3065.3 L1098.0 3065.5 L1100.1 3065.7 L1102.2 3065.8 L1104.2 3066.0 L1106.3 3066.2 L1108.3 3066.4 L1110.4 3066.6 L1112.5 3066.8 L1114.5 3067.0 L1116.6 3067.2 L1118.6 3067.3 L1120.7 3067.5 L1122.7 3067.7 L1124.8 3067.9 L1126.9 3068.1 L1128.9 3068.2 L1131.0 3068.4 L1133.0 3068.6 L1135.1 3068.8 L1137.2 3068.9 L1139.2 3069.1 L1141.3 3069.3 L1143.3 3069.4 L1145.4 3069.6 L1147.5 3069.8 L1149.5 3069.9 L1151.6 3070.1 L1153.6 3070.3 L1155.7 3070.4 L1157.8 3070.6 L1159.8 3070.7 L1161.9 3070.9 L1163.9 3071.0 L1166.0 3071.2 L1168.1 3071.4 L1170.1 3071.5 L1172.2 3071.7 L1174.2 3071.8 L1176.3 3072.0 L1178.3 3072.1 L1180.4 3072.3 L1182.5 3072.4 L1184.5 3072.5 L1186.6 3072.7 L1188.6 3072.8 L1190.7 3073.0 L1192.8 3073.1 L1194.8 3073.3 L1196.9 3073.4 L1198.9 3073.5 L1201.0 3073.7 L1203.1 3073.8 L1205.1 3073.9 L1207.2 3074.1 L1209.2 3074.2 L1211.3 3074.4 L1213.4 3074.5 L1215.4 3074.6 L1217.5 3074.7 L1219.5 3074.9 L1221.6 3075.0 L1223.7 3075.1 L1225.7 3075.3 L1227.8 3075.4 L1229.8 3075.5 L1231.9 3075.6 L1233.9 3075.8 L1236.0 3075.9 L1238.1 3076.0 L1240.1 3076.1 L1242.2 3076.3 L1244.2 3076.4 L1246.3 3076.5 L1248.4 3076.6 L1250.4 3076.7 L1252.5 3076.9 L1254.5 3077.0 L1256.6 3077.1 L1258.7 3077.2 L1260.7 3077.3 L1262.8 3077.5 L1264.8 3077.6 L1266.9 3077.7 L1269.0 3077.8 L1271.0 3077.9 L1273.1 3078.0 L1275.1 3078.1 L1277.2 3078.2 L1279.3 3078.4 L1281.3 3078.5 L1283.4 3078.6 L1285.4 3078.7 L1287.5 3078.8 L1289.5 3078.9 L1291.6 3079.0 L1293.7 3079.1 L1295.7 3079.2 L1297.8 3079.3 L1299.8 3079.4 L1301.9 3079.5 L1304.0 3079.7 L1306.0 3079.8 L1308.1 3079.9 L1310.1 3080.0 L1312.2 3080.1 L1314.3 3080.2 L1316.3 3080.3 L1318.4 3080.4 L1320.4 3080.5 L1322.5 3080.6 L1324.6 3080.7 L1326.6 3080.8 L1328.7 3080.9 L1330.7 3081.0 L1332.8 3081.1 L1334.9 3081.2 L1336.9 3081.3 L1339.0 3081.4 L1341.0 3081.5 L1343.1 3081.6 L1345.1 3081.7 L1347.2 3081.8 L1349.3 3081.9 L1351.3 3082.0 L1353.4 3082.1 L1355.4 3082.1 L1357.5 3082.2 L1359.6 3082.3 L1361.6 3082.4 L1363.7 3082.5 L1365.7 3082.6 L1367.8 3082.7 L1369.9 3082.8 L1371.9 3082.9 L1374.0 3083.0 L1376.0 3083.1 L1378.1 3083.2 L1380.2 3083.3 L1382.2 3083.4 L1384.3 3083.5 L1386.3 3083.6 L1388.4 3083.6 L1390.5 3083.7 L1392.5 3083.8 L1394.6 3083.9 L1396.6 3084.0 L1398.7 3084.1 L1400.7 3084.2 L1402.8 3084.3 L1404.9 3084.4 L1406.9 3084.5 L1409.0 3084.6 L1411.0 3084.6 L1413.1 3084.7 L1415.2 3084.8 L1417.2 3084.9 L1419.3 3085.0 L1421.3 3085.1 L1423.4 3085.2 L1425.5 3085.3 L1427.5 3085.4 L1429.6 3085.4 L1431.6 3085.5 L1433.7 3085.6 L1435.8 3085.7 L1437.8 3085.8 L1439.9 3085.9 L1441.9 3086.0 L1444.0 3086.1 L1446.1 3086.2 L1448.1 3086.2 L1450.2 3086.3 L1452.2 3086.4 L1454.3 3086.5 L1456.3 3086.6 L1458.4 3086.7 L1460.5 3086.8 L1462.5 3086.9 L1464.6 3086.9 L1466.6 3087.0 L1468.7 3087.1 L1470.8 3087.2 L1472.8 3087.3 L1474.9 3087.4 L1476.9 3087.5 L1479.0 3087.6 L1481.1 3087.7 L1483.1 3087.7 L1485.2 3087.8 L1487.2 3087.9 L1489.3 3088.0 L1491.4 3088.1 L1493.4 3088.2 L1495.5 3088.3 L1497.5 3088.4 L1499.6 3088.4 L1501.7 3088.5 L1503.7 3088.6 L1505.8 3088.7 L1507.8 3088.8 L1509.9 3088.9 L1511.9 3089.0 L1514.0 3089.1 L1516.1 3089.2 L1518.1 3089.2 L1520.2 3089.3 L1522.2 3089.4 L1524.3 3089.5 L1526.4 3089.6 L1528.4 3089.7 L1530.5 3089.8 L1532.5 3089.8 L1534.6 3089.9 L1536.7 3090.0 L1538.7 3090.1 L1540.8 3090.2 L1542.8 3090.3 L1544.9 3090.4 L1547.0 3090.4 L1549.0 3090.5 L1551.1 3090.6 L1553.1 3090.7 L1555.2 3090.8 L1557.2 3090.9 L1559.3 3091.0 L1561.4 3091.0 L1563.4 3091.1 L1565.5 3091.2 L1567.5 3091.3 L1569.6 3091.4 L1571.7 3091.5 L1573.7 3091.5 L1575.8 3091.6 L1577.8 3091.7 L1579.9 3091.8 L1582.0 3091.9 L1584.0 3092.0 L1586.1 3092.0 L1588.1 3092.1 L1590.2 3092.2 L1592.3 3092.3 L1594.3 3092.4 L1596.4 3092.5 L1598.4 3092.5 L1600.5 3092.6 L1602.6 3092.7 L1604.6 3092.8 L1606.7 3092.9 L1608.7 3093.0 L1610.8 3093.0 L1612.8 3093.1 L1614.9 3093.2 L1617.0 3093.3 L1619.0 3093.4 L1621.1 3093.5 L1623.1 3093.5 L1625.2 3093.6 L1627.3 3093.7 L1629.3 3093.8 L1631.4 3093.9 L1633.4 3093.9 L1635.5 3094.0 L1637.6 3094.1 L1639.6 3094.2 L1641.7 3094.3 L1643.7 3094.4 L1645.8 3094.4 L1647.9 3094.5 L1649.9 3094.6 L1652.0 3094.7 L1654.0 3094.8 L1656.1 3094.9 L1658.2 3094.9 L1660.2 3095.0 L1662.3 3095.1 L1664.3 3095.2 L1666.4 3095.3 L1668.4 3095.3 L1670.5 3095.4 L1672.6 3095.5 L1674.6 3095.6 L1676.7 3095.7 L1678.7 3095.8 L1680.8 3095.8 L1682.9 3095.9 L1684.9 3096.0 L1687.0 3096.1 L1689.0 3096.2 L1691.1 3096.3 L1693.2 3096.3 L1695.2 3096.4 L1697.3 3096.5 L1699.3 3096.6 L1701.4 3096.7 L1703.5 3096.7 L1705.5 3096.8 L1707.6 3096.9 L1709.6 3097.0 L1711.7 3097.1 L1713.8 3097.2 L1715.8 3097.2 L1717.9 3097.3 L1719.9 3097.4 L1722.0 3097.5 L1724.0 3097.6 L1726.1 3097.7 L1728.2 3097.7 L1730.2 3097.8 L1732.3 3097.9 L1734.3 3098.0 L1736.4 3098.1 L1738.5 3098.2 L1740.5 3098.2 L1742.6 3098.3 L1744.6 3098.4 L1746.7 3098.5 L1748.8 3098.6 L1750.8 3098.7 L1752.9 3098.8 L1754.9 3098.8 L1757.0 3098.9 L1759.1 3099.0 L1761.1 3099.1 L1763.2 3099.2 L1765.2 3099.3 L1767.3 3099.3 L1769.4 3099.4 L1771.4 3099.5 L1773.5 3099.6 L1775.5 3099.7 L1777.6 3099.8 L1779.6 3099.9 L1781.7 3099.9 L1783.8 3100.0 L1785.8 3100.1 L1787.9 3100.2 L1789.9 3100.3 L1792.0 3100.4 L1794.1 3100.5 L1796.1 3100.5 L1798.2 3100.6 L1800.2 3100.7 L1802.3 3100.8 L1804.4 3100.9 L1806.4 3101.0 L1808.5 3101.1 L1810.5 3101.1 L1812.6 3101.2 L1814.7 3101.3 L1816.7 3101.4 L1818.8 3101.5 L1820.8 3101.6 L1822.9 3101.7 L1825.0 3101.8 L1827.0 3101.8 L1829.1 3101.9 L1831.1 3102.0 L1833.2 3102.1 L1835.2 3102.2 L1837.3 3102.3 L1839.4 3102.4 L1841.4 3102.5 L1843.5 3102.5 L1845.5 3102.6 L1847.6 3102.7 L1849.7 3102.8 L1851.7 3102.9 L1853.8 3103.0 L1855.8 3103.1 L1857.9 3103.2 L1860.0 3103.3 L1862.0 3103.3 L1864.1 3103.4 L1866.1 3103.5 L1868.2 3103.6 L1870.3 3103.7 L1872.3 3103.8 L1874.4 3103.9 L1876.4 3104.0 L1878.5 3104.1 L1880.6 3104.1 L1882.6 3104.2 L1884.7 3104.3 L1886.7 3104.4 L1888.8 3104.5 L1890.8 3104.6 L1892.9 3104.7 L1895.0 3104.8 L1897.0 3104.9 L1899.1 3105.0 L1901.1 3105.0 L1903.2 3105.1 L1905.3 3105.2 L1907.3 3105.3 L1909.4 3105.4 L1911.4 3105.5 L1913.5 3105.6" fill="none" stroke="#0000ff" stroke-width="11" stroke-linejoin="round" stroke-miterlimit="10" stroke-dasharray="31 30"/>
<path d="M266.1 1979.3 L268.2 1985.5 L270.2 1991.8 L272.3 1998.0 L274.3 2004.1 L276.4 2010.2 L278.5 2016.3 L280.5 2022.4 L282.6 2028.4 L284.6 2034.4 L286.7 2040.3 L288.8 2046.3 L290.8 2052.1 L292.9 2058.0 L294.9 2063.8 L297.0 2069.6 L299.0 2075.3 L301.1 2081.1 L303.2 2086.8 L305.2 2092.4 L307.3 2098.0 L309.3 2103.6 L311.4 2109.2 L313.5 2114.7 L315.5 2120.2 L317.6 2125.7 L319.6 2131.1 L321.7 2136.5 L323.8 2141.9 L325.8 2147.3 L327.9 2152.6 L329.9 2157.9 L332.0 2163.2 L334.1 2168.4 L336.1 2173.6 L338.2 2178.8 L340.2 2184.0 L342.3 2189.1 L344.4 2194.2 L346.4 2199.3 L348.5 2204.3 L350.5 2209.3 L352.6 2214.3 L354.6 2219.3 L356.7 2224.2 L358.8 2229.2 L360.8 2234.1 L362.9 2238.9 L364.9 2243.8 L367.0 2248.6 L369.1 2253.4 L371.1 2258.1 L373.2 2262.9 L375.2 2267.6 L377.3 2272.3 L379.4 2277.0 L381.4 2281.6 L383.5 2286.2 L385.5 2290.8 L387.6 2295.4 L389.7 2299.9 L391.7 2304.4 L393.8 2308.9 L395.8 2313.4 L397.9 2317.8 L400.0 2322.2 L402.0 2326.6 L404.1 2330.9 L406.1 2335.3 L408.2 2339.6 L410.2 2343.9 L412.3 2348.1 L414.4 2352.3 L416.4 2356.6 L418.5 2360.7 L420.5 2364.9 L422.6 2369.0 L424.7 2373.1 L426.7 2377.2 L428.8 2381.3 L430.8 2385.3 L432.9 2389.3 L435.0 2393.3 L437.0 2397.2 L439.1 2401.2 L441.1 2405.1 L443.2 2409.0 L445.3 2412.9 L447.3 2416.7 L449.4 2420.5 L451.4 2424.3 L453.5 2428.1 L455.6 2431.9 L457.6 2435.6 L459.7 2439.3 L461.7 2443.0 L463.8 2446.7 L465.8 2450.4 L467.9 2454.0 L470.0 2457.7 L472.0 2461.3 L474.1 2464.8 L476.1 2468.4 L478.2 2472.0 L480.3 2475.5 L482.3 2479.0 L484.4 2482.5 L486.4 2485.9 L488.5 2489.4 L490.6 2492.8 L492.6 2496.2 L494.7 2499.6 L496.7 2503.0 L498.8 2506.3 L500.9 2509.6 L502.9 2513.0 L505.0 2516.3 L507.0 2519.5 L509.1 2522.8 L511.2 2526.0 L513.2 2529.2 L515.3 2532.4 L517.3 2535.6 L519.4 2538.7 L521.4 2541.9 L523.5 2545.0 L525.6 2548.1 L527.6 2551.2 L529.7 2554.2 L531.7 2557.3 L533.8 2560.3 L535.9 2563.3 L537.9 2566.3 L540.0 2569.3 L542.0 2572.3 L544.1 2575.2 L546.2 2578.2 L548.2 2581.1 L550.3 2584.0 L552.3 2586.9 L554.4 2589.8 L556.5 2592.6 L558.5 2595.5 L560.6 2598.3 L562.6 2601.1 L564.7 2603.9 L566.8 2606.7 L568.8 2609.5 L570.9 2612.2 L572.9 2615.0 L575.0 2617.7 L577.0 2620.4 L579.1 2623.1 L581.2 2625.7 L583.2 2628.4 L585.3 2631.0 L587.3 2633.7 L589.4 2636.3 L591.5 2638.9 L593.5 2641.4 L595.6 2644.0 L597.6 2646.5 L599.7 2649.1 L601.8 2651.6 L603.8 2654.1 L605.9 2656.5 L607.9 2659.0 L610.0 2661.4 L612.1 2663.9 L614.1 2666.3 L616.2 2668.7 L618.2 2671.0 L620.3 2673.4 L622.4 2675.7 L624.4 2678.1 L626.5 2680.4 L628.5 2682.7 L630.6 2684.9 L632.6 2687.2 L634.7 2689.4 L636.8 2691.7 L638.8 2693.9 L640.9 2696.1 L642.9 2698.3 L645.0 2700.4 L647.1 2702.5 L649.1 2704.5 L651.2 2706.5 L653.2 2708.4 L655.3 2710.2 L657.4 2712.1 L659.4 2713.9 L661.5 2715.6 L663.5 2717.4 L665.6 2719.2 L667.7 2721.0 L669.7 2722.8 L671.8 2724.6 L673.8 2726.5 L675.9 2728.4 L678.0 2730.3 L680.0 2732.3 L682.1 2734.3 L684.1 2736.2 L686.2 2738.2 L688.2 2740.1 L690.3 2742.0 L692.4 2744.0 L694.4 2745.9 L696.5 2747.8 L698.5 2749.7 L700.6 2751.5 L702.7 2753.4 L704.7 2755.3 L706.8 2757.1 L708.8 2758.9 L710.9 2760.8 L713.0 2762.6 L715.0 2764.4 L717.1 2766.2 L719.1 2768.0 L721.2 2769.8 L723.3 2771.5 L725.3 2773.3 L727.4 2775.1 L729.4 2776.8 L731.5 2778.5 L733.5 2780.3 L735.6 2782.0 L737.7 2783.7 L739.7 2785.4 L741.8 2787.1 L743.8 2788.7 L745.9 2790.4 L748.0 2792.1 L750.0 2793.7 L752.1 2795.4 L754.1 2797.0 L756.2 2798.6 L758.3 2800.2 L760.3 2801.9 L762.4 2803.5 L764.4 2805.0 L766.5 2806.6 L768.6 2808.2 L770.6 2809.8 L772.7 2811.3 L774.7 2812.9 L776.8 2814.4 L778.9 2815.9 L780.9 2817.5 L783.0 2819.0 L785.0 2820.5 L787.1 2822.0 L789.1 2823.5 L791.2 2825.0 L793.3 2826.4 L795.3 2827.9 L797.4 2829.4 L799.4 2830.8 L801.5 2832.3 L803.6 2833.7 L805.6 2835.1 L807.7 2836.5 L809.7 2837.9 L811.8 2839.4 L813.9 2840.7 L815.9 2842.1 L818.0 2843.5 L820.0 2844.9 L822.1 2846.3 L824.2 2847.6 L826.2 2849.0 L828.3 2850.3 L830.3 2851.6 L832.4 2853.0 L834.5 2854.3 L836.5 2855.6 L838.6 2856.9 L840.6 2858.2 L842.7 2859.5 L844.7 2860.8 L846.8 2862.1 L848.9 2863.3 L850.9 2864.6 L853.0 2865.9 L855.0 2867.1 L857.1 2868.3 L859.2 2869.6 L861.2 2870.8 L863.3 2872.0 L865.3 2873.2 L867.4 2874.5 L869.5 2875.7 L871.5 2876.9 L873.6 2878.0 L875.6 2879.2 L877.7 2880.4 L879.8 2881.6 L881.8 2882.7 L883.9 2883.9 L885.9 2885.0 L888.0 2886.2 L890.1 2887.3 L892.1 2888.4 L894.2 2889.5 L896.2 2890.7 L898.3 2891.8 L900.3 2892.8 L902.4 2893.9 L904.5 2895.0 L906.5 2896.1 L908.6 2897.1 L910.6 2898.2 L912.7 2899.3 L914.8 2900.3 L916.8 2901.3 L918.9 2902.4 L920.9 2903.4 L923.0 2904.4 L925.1 2905.4 L927.1 2906.4 L929.2 2907.4 L931.2 2908.4 L933.3 2909.4 L935.4 2910.4 L937.4 2911.4 L939.5 2912.3 L941.5 2913.3 L943.6 2914.2 L945.7 2915.2 L947.7 2916.1 L949.8 2917.1 L951.8 2918.0 L953.9 2919.0 L955.9 2919.9 L958.0 2920.8 L960.1 2921.7 L962.1 2922.6 L964.2 2923.5 L966.2 2924.4 L968.3 2925.3 L970.4 2926.2 L972.4 2927.1 L974.5 2928.0 L976.5 2928.9 L978.6 2929.7 L980.7 2930.6 L982.7 2931.5 L984.8 2932.3 L986.8 2933.2 L988.9 2934.0 L991.0 2934.9 L993.0 2935.7 L995.1 2936.5 L997.1 2937.4 L999.2 2938.2 L1001.3 2939.0 L1003.3 2939.9 L1005.4 2940.7 L1007.4 2941.5 L1009.5 2942.3 L1011.5 2943.1 L1013.6 2943.9 L1015.7 2944.7 L1017.7 2945.5 L1019.8 2946.3 L1021.8 2947.1 L1023.9 2947.9 L1026.0 2948.7 L1028.0 2949.4 L1030.1 2950.2 L1032.1 2951.0 L1034.2 2951.8 L1036.3 2952.5 L1038.3 2953.3 L1040.4 2954.0 L1042.4 2954.8 L1044.5 2955.6 L1046.6 2956.3 L1048.6 2957.1 L1050.7 2957.8 L1052.7 2958.6 L1054.8 2959.3 L1056.9 2960.0 L1058.9 2960.8 L1061.0 2961.5 L1063.0 2962.2 L1065.1 2963.0 L1067.1 2963.7 L1069.2 2964.4 L1071.3 2965.1 L1073.3 2965.8 L1075.4 2966.6 L1077.4 2967.3 L1079.5 2968.0 L1081.6 2968.7 L1083.6 2969.4 L1085.7 2970.1 L1087.7 2970.8 L1089.8 2971.5 L1091.9 2972.2 L1093.9 2972.9 L1096.0 2973.6 L1098.0 2974.3 L1100.1 2975.0 L1102.2 2975.6 L1104.2 2976.3 L1106.3 2977.0 L1108.3 2977.7 L1110.4 2978.3 L1112.5 2979.0 L1114.5 2979.7 L1116.6 2980.3 L1118.6 2981.0 L1120.7 2981.6 L1122.7 2982.3 L1124.8 2983.0 L1126.9 2983.6 L1128.9 2984.2 L1131.0 2984.9 L1133.0 2985.5 L1135.1 2986.2 L1137.2 2986.8 L1139.2 2987.4 L1141.3 2988.1 L1143.3 2988.7 L1145.4 2989.3 L1147.5 2989.9 L1149.5 2990.5 L1151.6 2991.2 L1153.6 2991.8 L1155.7 2992.4 L1157.8 2993.0 L1159.8 2993.6 L1161.9 2994.2 L1163.9 2994.8 L1166.0 2995.4 L1168.1 2996.0 L1170.1 2996.6 L1172.2 2997.2 L1174.2 2997.7 L1176.3 2998.3 L1178.3 2998.9 L1180.4 2999.5 L1182.5 3000.1 L1184.5 3000.6 L1186.6 3001.2 L1188.6 3001.8 L1190.7 3002.3 L1192.8 3002.9 L1194.8 3003.4 L1196.9 3004.0 L1198.9 3004.6 L1201.0 3005.1 L1203.1 3005.7 L1205.1 3006.2 L1207.2 3006.7 L1209.2 3007.3 L1211.3 3007.8 L1213.4 3008.4 L1215.4 3008.9 L1217.5 3009.4 L1219.5 3009.9 L1221.6 3010.5 L1223.7 3011.0 L1225.7 3011.5 L1227.8 3012.0 L1229.8 3012.5 L1231.9 3013.1 L1233.9 3013.6 L1236.0 3014.1 L1238.1 3014.6 L1240.1 3015.1 L1242.2 3015.6 L1244.2 3016.1 L1246.3 3016.6 L1248.4 3017.1 L1250.4 3017.6 L1252.5 3018.1 L1254.5 3018.5 L1256.6 3019.0 L1258.7 3019.5 L1260.7 3020.0 L1262.8 3020.5 L1264.8 3020.9 L1266.9 3021.4 L1269.0 3021.9 L1271.0 3022.3 L1273.1 3022.8 L1275.1 3023.3 L1277.2 3023.7 L1279.3 3024.2 L1281.3 3024.6 L1283.4 3025.1 L1285.4 3025.6 L1287.5 3026.0 L1289.5 3026.4 L1291.6 3026.9 L1293.7 3027.3 L1295.7 3027.8 L1297.8 3028.2 L1299.8 3028.6 L1301.9 3029.1 L1304.0 3029.5 L1306.0 3029.9 L1308.1 3030.4 L1310.1 3030.8 L1312.2 3031.2 L1314.3 3031.6 L1316.3 3032.1 L1318.4 3032.5 L1320.4 3032.9 L1322.5 3033.3 L1324.6 3033.7 L1326.6 3034.1 L1328.7 3034.5 L1330.7 3034.9 L1332.8 3035.3 L1334.9 3035.7 L1336.9 3036.1 L1339.0 3036.5 L1341.0 3036.9 L1343.1 3037.3 L1345.1 3037.7 L1347.2 3038.1 L1349.3 3038.5 L1351.3 3038.8 L1353.4 3039.2 L1355.4 3039.6 L1357.5 3040.0 L1359.6 3040.3 L1361.6 3040.7 L1363.7 3041.1 L1365.7 3041.5 L1367.8 3041.8 L1369.9 3042.2 L1371.9 3042.6 L1374.0 3042.9 L1376.0 3043.3 L1378.1 3043.6 L1380.2 3044.0 L1382.2 3044.3 L1384.3 3044.7 L1386.3 3045.0 L1388.4 3045.4 L1390.5 3045.7 L1392.5 3046.1 L1394.6 3046.4 L1396.6 3046.8 L1398.7 3047.1 L1400.7 3047.4 L1402.8 3047.8 L1404.9 3048.1 L1406.9 3048.4 L1409.0 3048.8 L1411.0 3049.1 L1413.1 3049.4 L1415.2 3049.7 L1417.2 3050.1 L1419.3 3050.4 L1421.3 3050.7 L1423.4 3051.0 L1425.5 3051.3 L1427.5 3051.6 L1429.6 3052.0 L1431.6 3052.3 L1433.7 3052.6 L1435.8 3052.9 L1437.8 3053.2 L1439.9 3053.5 L1441.9 3053.8 L1444.0 3054.1 L1446.1 3054.4 L1448.1 3054.7 L1450.2 3055.0 L1452.2 3055.3 L1454.3 3055.6 L1456.3 3055.8 L1458.4 3056.1 L1460.5 3056.4 L1462.5 3056.7 L1464.6 3057.0 L1466.6 3057.3 L1468.7 3057.6 L1470.8 3057.8 L1472.8 3058.1 L1474.9 3058.4 L1476.9 3058.7 L1479.0 3058.9 L1481.1 3059.2 L1483.1 3059.5 L1485.2 3059.7 L1487.2 3060.0 L1489.3 3060.3 L1491.4 3060.5 L1493.4 3060.8 L1495.5 3061.0 L1497.5 3061.3 L1499.6 3061.6 L1501.7 3061.8 L1503.7 3062.1 L1505.8 3062.3 L1507.8 3062.6 L1509.9 3062.8 L1511.9 3063.1 L1514.0 3063.3 L1516.1 3063.6 L1518.1 3063.8 L1520.2 3064.0 L1522.2 3064.3 L1524.3 3064.5 L1526.4 3064.7 L1528.4 3065.0 L1530.5 3065.2 L1532.5 3065.4 L1534.6 3065.6 L1536.7 3065.9 L1538.7 3066.1 L1540.8 3066.3 L1542.8 3066.5 L1544.9 3066.8 L1547.0 3067.0 L1549.0 3067.2 L1551.1 3067.4 L1553.1 3067.6 L1555.2 3067.8 L1557.2 3068.0 L1559.3 3068.2 L1561.4 3068.4 L1563.4 3068.7 L1565.5 3068.9 L1567.5 3069.1 L1569.6 3069.3 L1571.7 3069.5 L1573.7 3069.7 L1575.8 3069.9 L1577.8 3070.1 L1579.9 3070.3 L1582.0 3070.5 L1584.0 3070.6 L1586.1 3070.8 L1588.1 3071.0 L1590.2 3071.2 L1592.3 3071.4 L1594.3 3071.6 L1596.4 3071.8 L1598.4 3072.0 L1600.5 3072.2 L1602.6 3072.3 L1604.6 3072.5 L1606.7 3072.7 L1608.7 3072.9 L1610.8 3073.1 L1612.8 3073.3 L1614.9 3073.4 L1617.0 3073.6 L1619.0 3073.8 L1621.1 3074.0 L1623.1 3074.1 L1625.2 3074.3 L1627.3 3074.5 L1629.3 3074.7 L1631.4 3074.8 L1633.4 3075.0 L1635.5 3075.2 L1637.6 3075.4 L1639.6 3075.5 L1641.7 3075.7 L1643.7 3075.9 L1645.8 3076.0 L1647.9 3076.2 L1649.9 3076.4 L1652.0 3076.5 L1654.0 3076.7 L1656.1 3076.9 L1658.2 3077.0 L1660.2 3077.2 L1662.3 3077.4 L1664.3 3077.5 L1666.4 3077.7 L1668.4 3077.8 L1670.5 3078.0 L1672.6 3078.2 L1674.6 3078.3 L1676.7 3078.5 L1678.7 3078.7 L1680.8 3078.8 L1682.9 3079.0 L1684.9 3079.1 L1687.0 3079.3 L1689.0 3079.4 L1691.1 3079.6 L1693.2 3079.8 L1695.2 3079.9 L1697.3 3080.1 L1699.3 3080.2 L1701.4 3080.4 L1703.5 3080.5 L1705.5 3080.7 L1707.6 3080.9 L1709.6 3081.0 L1711.7 3081.2 L1713.8 3081.3 L1715.8 3081.5 L1717.9 3081.6 L1719.9 3081.8 L1722.0 3081.9 L1724.0 3082.1 L1726.1 3082.2 L1728.2 3082.4 L1730.2 3082.5 L1732.3 3082.7 L1734.3 3082.9 L1736.4 3083.0 L1738.5 3083.2 L1740.5 3083.3 L1742.6 3083.5 L1744.6 3083.6 L1746.7 3083.8 L1748.8 3083.9 L1750.8 3084.1 L1752.9 3084.2 L1754.9 3084.3 L1757.0 3084.5 L1759.1 3084.6 L1761.1 3084.8 L1763.2 3084.9 L1765.2 3085.1 L1767.3 3085.2 L1769.4 3085.4 L1771.4 3085.5 L1773.5 3085.7 L1775.5 3085.8 L1777.6 3085.9 L1779.6 3086.1 L1781.7 3086.2 L1783.8 3086.4 L1785.8 3086.5 L1787.9 3086.6 L1789.9 3086.8 L1792.0 3086.9 L1794.1 3087.1 L1796.1 3087.2 L1798.2 3087.3 L1800.2 3087.5 L1802.3 3087.6 L1804.4 3087.7 L1806.4 3087.9 L1808.5 3088.0 L1810.5 3088.1 L1812.6 3088.3 L1814.7 3088.4 L1816.7 3088.5 L1818.8 3088.7 L1820.8 3088.8 L1822.9 3088.9 L1825.0 3089.1 L1827.0 3089.2 L1829.1 3089.3 L1831.1 3089.4 L1833.2 3089.6 L1835.2 3089.7 L1837.3 3089.8 L1839.4 3090.0 L1841.4 3090.1 L1843.5 3090.2 L1845.5 3090.3 L1847.6 3090.5 L1849.7 3090.6 L1851.7 3090.7 L1853.8 3090.8 L1855.8 3091.0 L1857.9 3091.1 L1860.0 3091.2 L1862.0 3091.3 L1864.1 3091.4 L1866.1 3091.6 L1868.2 3091.7 L1870.3 3091.8 L1872.3 3091.9 L1874.4 3092.0 L1876.4 3092.2 L1878.5 3092.3 L1880.6 3092.4 L1882.6 3092.5 L1884.7 3092.6 L1886.7 3092.7 L1888.8 3092.9 L1890.8 3093.0 L1892.9 3093.1 L1895.0 3093.2 L1897.0 3093.3 L1899.1 3093.4 L1901.1 3093.6 L1903.2 3093.7 L1905.3 3093.8 L1907.3 3093.9 L1909.4 3094.0 L1911.4 3094.1 L1913.5 3094.2" fill="none" stroke="#000000" stroke-width="11" stroke-linejoin="round" stroke-miterlimit="10"/>
<path d="M266.1 2380.8 L268.2 2384.8 L270.2 2388.8 L272.3 2392.9 L274.3 2396.8 L276.4 2400.8 L278.5 2404.7 L280.5 2408.6 L282.6 2412.5 L284.6 2416.4 L286.7 2420.2 L288.8 2424.0 L290.8 2427.8 L292.9 2431.6 L294.9 2435.3 L297.0 2439.0 L299.0 2442.7 L301.1 2446.4 L303.2 2450.0 L305.2 2453.6 L307.3 2457.2 L309.3 2460.8 L311.4 2464.4 L313.5 2467.9 L315.5 2471.4 L317.6 2474.9 L319.6 2478.4 L321.7 2481.9 L323.8 2485.3 L325.8 2488.7 L327.9 2492.1 L329.9 2495.5 L332.0 2498.8 L334.1 2502.1 L336.1 2505.5 L338.2 2508.7 L340.2 2512.0 L342.3 2515.3 L344.4 2518.5 L346.4 2521.7 L348.5 2524.9 L350.5 2528.1 L352.6 2531.3 L354.6 2534.4 L356.7 2537.5 L358.8 2540.6 L360.8 2543.7 L362.9 2546.8 L364.9 2549.9 L367.0 2552.9 L369.1 2555.9 L371.1 2558.9 L373.2 2561.9 L375.2 2564.9 L377.3 2567.8 L379.4 2570.7 L381.4 2573.7 L383.5 2576.6 L385.5 2579.4 L387.6 2582.3 L389.7 2585.1 L391.7 2588.0 L393.8 2590.8 L395.8 2593.6 L397.9 2596.4 L400.0 2599.1 L402.0 2601.9 L404.1 2604.6 L406.1 2607.3 L408.2 2610.0 L410.2 2612.7 L412.3 2615.4 L414.4 2618.0 L416.4 2620.6 L418.5 2623.3 L420.5 2625.9 L422.6 2628.5 L424.7 2631.0 L426.7 2633.6 L428.8 2636.1 L430.8 2638.7 L432.9 2641.2 L435.0 2643.7 L437.0 2646.2 L439.1 2648.7 L441.1 2651.1 L443.2 2653.6 L445.3 2656.0 L447.3 2658.4 L449.4 2660.8 L451.4 2663.2 L453.5 2665.6 L455.6 2668.0 L457.6 2670.3 L459.7 2672.7 L461.7 2675.0 L463.8 2677.3 L465.8 2679.6 L467.9 2681.9 L470.0 2684.2 L472.0 2686.5 L474.1 2688.7 L476.1 2691.0 L478.2 2693.2 L480.3 2695.4 L482.3 2697.6 L484.4 2699.8 L486.4 2702.0 L488.5 2704.2 L490.6 2706.3 L492.6 2708.5 L494.7 2710.6 L496.7 2712.8 L498.8 2714.9 L500.9 2717.0 L502.9 2719.1 L505.0 2721.1 L507.0 2723.2 L509.1 2725.3 L511.2 2727.3 L513.2 2729.3 L515.3 2731.4 L517.3 2733.4 L519.4 2735.4 L521.4 2737.3 L523.5 2739.3 L525.6 2741.3 L527.6 2743.2 L529.7 2745.2 L531.7 2747.1 L533.8 2749.0 L535.9 2751.0 L537.9 2752.9 L540.0 2754.7 L542.0 2756.6 L544.1 2758.5 L546.2 2760.4 L548.2 2762.2 L550.3 2764.0 L552.3 2765.9 L554.4 2767.7 L556.5 2769.5 L558.5 2771.3 L560.6 2773.1 L562.6 2774.9 L564.7 2776.6 L566.8 2778.4 L568.8 2780.1 L570.9 2781.9 L572.9 2783.6 L575.0 2785.3 L577.0 2787.0 L579.1 2788.7 L581.2 2790.4 L583.2 2792.1 L585.3 2793.8 L587.3 2795.5 L589.4 2797.1 L591.5 2798.8 L593.5 2800.4 L595.6 2802.0 L597.6 2803.6 L599.7 2805.2 L601.8 2806.8 L603.8 2808.4 L605.9 2810.0 L607.9 2811.6 L610.0 2813.2 L612.1 2814.7 L614.1 2816.3 L616.2 2817.8 L618.2 2819.3 L620.3 2820.9 L622.4 2822.4 L624.4 2823.9 L626.5 2825.4 L628.5 2826.9 L630.6 2828.3 L632.6 2829.8 L634.7 2831.3 L636.8 2832.7 L638.8 2834.2 L640.9 2835.6 L642.9 2837.1 L645.0 2838.5 L647.1 2839.9 L649.1 2841.3 L651.2 2842.7 L653.2 2844.1 L655.3 2845.5 L657.4 2846.9 L659.4 2848.2 L661.5 2849.6 L663.5 2850.9 L665.6 2852.3 L667.7 2853.6 L669.7 2855.0 L671.8 2856.3 L673.8 2857.6 L675.9 2858.9 L678.0 2860.2 L680.0 2861.5 L682.1 2862.8 L684.1 2864.1 L686.2 2865.4 L688.2 2866.6 L690.3 2867.9 L692.4 2869.2 L694.4 2870.4 L696.5 2871.6 L698.5 2872.9 L700.6 2874.1 L702.7 2875.3 L704.7 2876.6 L706.8 2877.8 L708.8 2879.0 L710.9 2880.2 L713.0 2881.4 L715.0 2882.6 L717.1 2883.7 L719.1 2884.9 L721.2 2886.1 L723.3 2887.2 L725.3 2888.4 L727.4 2889.5 L729.4 2890.7 L731.5 2891.8 L733.5 2893.0 L735.6 2894.1 L737.7 2895.2 L739.7 2896.3 L741.8 2897.4 L743.8 2898.5 L745.9 2899.6 L748.0 2900.7 L750.0 2901.8 L752.1 2902.9 L754.1 2904.0 L756.2 2905.0 L758.3 2906.1 L760.3 2907.1 L762.4 2908.2 L764.4 2909.2 L766.5 2910.3 L768.6 2911.3 L770.6 2912.3 L772.7 2913.4 L774.7 2914.4 L776.8 2915.4 L778.9 2916.4 L780.9 2917.4 L783.0 2918.4 L785.0 2919.4 L787.1 2920.4 L789.1 2921.3 L791.2 2922.3 L793.3 2923.3 L795.3 2924.2 L797.4 2925.2 L799.4 2926.1 L801.5 2927.1 L803.6 2928.0 L805.6 2929.0 L807.7 2929.9 L809.7 2930.8 L811.8 2931.7 L813.9 2932.7 L815.9 2933.6 L818.0 2934.5 L820.0 2935.4 L822.1 2936.3 L824.2 2937.2 L826.2 2938.0 L828.3 2938.9 L830.3 2939.8 L832.4 2940.7 L834.5 2941.5 L836.5 2942.4 L838.6 2943.3 L840.6 2944.1 L842.7 2945.0 L844.7 2945.8 L846.8 2946.6 L848.9 2947.5 L850.9 2948.3 L853.0 2949.1 L855.0 2949.9 L857.1 2950.7 L859.2 2951.6 L861.2 2952.4 L863.3 2953.2 L865.3 2954.0 L867.4 2954.7 L869.5 2955.5 L871.5 2956.3 L873.6 2957.1 L875.6 2957.9 L877.7 2958.6 L879.8 2959.4 L881.8 2960.2 L883.9 2960.9 L885.9 2961.7 L888.0 2962.4 L890.1 2963.2 L892.1 2963.9 L894.2 2964.6 L896.2 2965.4 L898.3 2966.1 L900.3 2966.8 L902.4 2967.5 L904.5 2968.3 L906.5 2969.0 L908.6 2969.7 L910.6 2970.4 L912.7 2971.1 L914.8 2971.8 L916.8 2972.5 L918.9 2973.2 L920.9 2973.9 L923.0 2974.5 L925.1 2975.2 L927.1 2975.9 L929.2 2976.6 L931.2 2977.2 L933.3 2977.9 L935.4 2978.6 L937.4 2979.2 L939.5 2979.9 L941.5 2980.5 L943.6 2981.2 L945.7 2981.8 L947.7 2982.5 L949.8 2983.1 L951.8 2983.8 L953.9 2984.4 L955.9 2985.0 L958.0 2985.6 L960.1 2986.3 L962.1 2986.9 L964.2 2987.5 L966.2 2988.1 L968.3 2988.7 L970.4 2989.3 L972.4 2989.9 L974.5 2990.6 L976.5 2991.1 L978.6 2991.7 L980.7 2992.3 L982.7 2992.9 L984.8 2993.5 L986.8 2994.1 L988.9 2994.7 L991.0 2995.3 L993.0 2995.8 L995.1 2996.4 L997.1 2997.0 L999.2 2997.5 L1001.3 2998.1 L1003.3 2998.7 L1005.4 2999.2 L1007.4 2999.8 L1009.5 3000.3 L1011.5 3000.9 L1013.6 3001.4 L1015.7 3002.0 L1017.7 3002.5 L1019.8 3003.0 L1021.8 3003.6 L1023.9 3004.1 L1026.0 3004.6 L1028.0 3005.2 L1030.1 3005.7 L1032.1 3006.2 L1034.2 3006.7 L1036.3 3007.3 L1038.3 3007.8 L1040.4 3008.3 L1042.4 3008.8 L1044.5 3009.3 L1046.6 3009.8 L1048.6 3010.3 L1050.7 3010.8 L1052.7 3011.3 L1054.8 3011.8 L1056.9 3012.3 L1058.9 3012.8 L1061.0 3013.3 L1063.0 3013.7 L1065.1 3014.2 L1067.1 3014.7 L1069.2 3015.2 L1071.3 3015.7 L1073.3 3016.1 L1075.4 3016.6 L1077.4 3017.1 L1079.5 3017.5 L1081.6 3018.0 L1083.6 3018.5 L1085.7 3018.9 L1087.7 3019.4 L1089.8 3019.8 L1091.9 3020.3 L1093.9 3020.7 L1096.0 3021.2 L1098.0 3021.6 L1100.1 3022.1 L1102.2 3022.5 L1104.2 3022.9 L1106.3 3023.4 L1108.3 3023.8 L1110.4 3024.2 L1112.5 3024.6 L1114.5 3025.1 L1116.6 3025.5 L1118.6 3025.9 L1120.7 3026.3 L1122.7 3026.7 L1124.8 3027.2 L1126.9 3027.6 L1128.9 3028.0 L1131.0 3028.4 L1133.0 3028.8 L1135.1 3029.2 L1137.2 3029.6 L1139.2 3030.0 L1141.3 3030.4 L1143.3 3030.8 L1145.4 3031.2 L1147.5 3031.5 L1149.5 3031.9 L1151.6 3032.3 L1153.6 3032.7 L1155.7 3033.1 L1157.8 3033.4 L1159.8 3033.8 L1161.9 3034.2 L1163.9 3034.6 L1166.0 3034.9 L1168.1 3035.3 L1170.1 3035.7 L1172.2 3036.0 L1174.2 3036.4 L1176.3 3036.8 L1178.3 3037.1 L1180.4 3037.5 L1182.5 3037.8 L1184.5 3038.2 L1186.6 3038.5 L1188.6 3038.9 L1190.7 3039.2 L1192.8 3039.6 L1194.8 3039.9 L1196.9 3040.2 L1198.9 3040.6 L1201.0 3040.9 L1203.1 3041.3 L1205.1 3041.6 L1207.2 3041.9 L1209.2 3042.3 L1211.3 3042.6 L1213.4 3042.9 L1215.4 3043.2 L1217.5 3043.6 L1219.5 3043.9 L1221.6 3044.2 L1223.7 3044.5 L1225.7 3044.8 L1227.8 3045.2 L1229.8 3045.5 L1231.9 3045.8 L1233.9 3046.1 L1236.0 3046.4 L1238.1 3046.7 L1240.1 3047.0 L1242.2 3047.3 L1244.2 3047.6 L1246.3 3047.9 L1248.4 3048.2 L1250.4 3048.5 L1252.5 3048.8 L1254.5 3049.1 L1256.6 3049.4 L1258.7 3049.7 L1260.7 3050.0 L1262.8 3050.3 L1264.8 3050.6 L1266.9 3050.9 L1269.0 3051.2 L1271.0 3051.4 L1273.1 3051.7 L1275.1 3052.0 L1277.2 3052.3 L1279.3 3052.6 L1281.3 3052.8 L1283.4 3053.1 L1285.4 3053.4 L1287.5 3053.7 L1289.5 3053.9 L1291.6 3054.2 L1293.7 3054.5 L1295.7 3054.8 L1297.8 3055.0 L1299.8 3055.3 L1301.9 3055.6 L1304.0 3055.8 L1306.0 3056.1 L1308.1 3056.3 L1310.1 3056.6 L1312.2 3056.9 L1314.3 3057.1 L1316.3 3057.4 L1318.4 3057.6 L1320.4 3057.9 L1322.5 3058.1 L1324.6 3058.4 L1326.6 3058.6 L1328.7 3058.9 L1330.7 3059.1 L1332.8 3059.4 L1334.9 3059.6 L1336.9 3059.9 L1339.0 3060.1 L1341.0 3060.4 L1343.1 3060.6 L1345.1 3060.8 L1347.2 3061.1 L1349.3 3061.3 L1351.3 3061.6 L1353.4 3061.8 L1355.4 3062.0 L1357.5 3062.3 L1359.6 3062.5 L1361.6 3062.7 L1363.7 3063.0 L1365.7 3063.2 L1367.8 3063.4 L1369.9 3063.6 L1371.9 3063.9 L1374.0 3064.1 L1376.0 3064.3 L1378.1 3064.5 L1380.2 3064.8 L1382.2 3065.0 L1384.3 3065.2 L1386.3 3065.4 L1388.4 3065.6 L1390.5 3065.9 L1392.5 3066.1 L1394.6 3066.3 L1396.6 3066.5 L1398.7 3066.7 L1400.7 3066.9 L1402.8 3067.2 L1404.9 3067.4 L1406.9 3067.6 L1409.0 3067.8 L1411.0 3068.0 L1413.1 3068.2 L1415.2 3068.4 L1417.2 3068.6 L1419.3 3068.8 L1421.3 3069.0 L1423.4 3069.2 L1425.5 3069.4 L1427.5 3069.6 L1429.6 3069.8 L1431.6 3070.0 L1433.7 3070.2 L1435.8 3070.4 L1437.8 3070.6 L1439.9 3070.8 L1441.9 3071.0 L1444.0 3071.2 L1446.1 3071.4 L1448.1 3071.6 L1450.2 3071.8 L1452.2 3072.0 L1454.3 3072.2 L1456.3 3072.4 L1458.4 3072.6 L1460.5 3072.8 L1462.5 3072.9 L1464.6 3073.1 L1466.6 3073.3 L1468.7 3073.5 L1470.8 3073.7 L1472.8 3073.9 L1474.9 3074.1 L1476.9 3074.2 L1479.0 3074.4 L1481.1 3074.6 L1483.1 3074.8 L1485.2 3075.0 L1487.2 3075.1 L1489.3 3075.3 L1491.4 3075.5 L1493.4 3075.7 L1495.5 3075.9 L1497.5 3076.0 L1499.6 3076.2 L1501.7 3076.4 L1503.7 3076.6 L1505.8 3076.7 L1507.8 3076.9 L1509.9 3077.1 L1511.9 3077.3 L1514.0 3077.4 L1516.1 3077.6 L1518.1 3077.8 L1520.2 3078.0 L1522.2 3078.1 L1524.3 3078.3 L1526.4 3078.5 L1528.4 3078.6 L1530.5 3078.8 L1532.5 3079.0 L1534.6 3079.2 L1536.7 3079.3 L1538.7 3079.5 L1540.8 3079.7 L1542.8 3079.9 L1544.9 3080.0 L1547.0 3080.2 L1549.0 3080.4 L1551.1 3080.5 L1553.1 3080.7 L1555.2 3080.9 L1557.2 3081.0 L1559.3 3081.2 L1561.4 3081.4 L1563.4 3081.5 L1565.5 3081.7 L1567.5 3081.9 L1569.6 3082.0 L1571.7 3082.2 L1573.7 3082.4 L1575.8 3082.5 L1577.8 3082.7 L1579.9 3082.9 L1582.0 3083.0 L1584.0 3083.2 L1586.1 3083.4 L1588.1 3083.5 L1590.2 3083.7 L1592.3 3083.8 L1594.3 3084.0 L1596.4 3084.1 L1598.4 3084.3 L1600.5 3084.5 L1602.6 3084.6 L1604.6 3084.8 L1606.7 3084.9 L1608.7 3085.1 L1610.8 3085.2 L1612.8 3085.4 L1614.9 3085.5 L1617.0 3085.7 L1619.0 3085.8 L1621.1 3086.0 L1623.1 3086.1 L1625.2 3086.3 L1627.3 3086.4 L1629.3 3086.6 L1631.4 3086.7 L1633.4 3086.9 L1635.5 3087.0 L1637.6 3087.2 L1639.6 3087.3 L1641.7 3087.4 L1643.7 3087.6 L1645.8 3087.7 L1647.9 3087.9 L1649.9 3088.0 L1652.0 3088.1 L1654.0 3088.3 L1656.1 3088.4 L1658.2 3088.5 L1660.2 3088.7 L1662.3 3088.8 L1664.3 3088.9 L1666.4 3089.1 L1668.4 3089.2 L1670.5 3089.3 L1672.6 3089.4 L1674.6 3089.6 L1676.7 3089.7 L1678.7 3089.8 L1680.8 3089.9 L1682.9 3090.1 L1684.9 3090.2 L1687.0 3090.3 L1689.0 3090.4 L1691.1 3090.5 L1693.2 3090.7 L1695.2 3090.8 L1697.3 3090.9 L1699.3 3091.0 L1701.4 3091.1 L1703.5 3091.2 L1705.5 3091.3 L1707.6 3091.5 L1709.6 3091.6 L1711.7 3091.7 L1713.8 3091.8 L1715.8 3091.9 L1717.9 3092.0 L1719.9 3092.1 L1722.0 3092.2 L1724.0 3092.3 L1726.1 3092.4 L1728.2 3092.5 L1730.2 3092.6 L1732.3 3092.7 L1734.3 3092.8 L1736.4 3092.9 L1738.5 3093.0 L1740.5 3093.1 L1742.6 3093.2 L1744.6 3093.3 L1746.7 3093.4 L1748.8 3093.5 L1750.8 3093.5 L1752.9 3093.6 L1754.9 3093.7 L1757.0 3093.8 L1759.1 3093.9 L1761.1 3094.0 L1763.2 3094.1 L1765.2 3094.2 L1767.3 3094.3 L1769.4 3094.3 L1771.4 3094.4 L1773.5 3094.5 L1775.5 3094.6 L1777.6 3094.7 L1779.6 3094.8 L1781.7 3094.8 L1783.8 3094.9 L1785.8 3095.0 L1787.9 3095.1 L1789.9 3095.1 L1792.0 3095.2 L1794.1 3095.3 L1796.1 3095.4 L1798.2 3095.5 L1800.2 3095.5 L1802.3 3095.6 L1804.4 3095.7 L1806.4 3095.8 L1808.5 3095.8 L1810.5 3095.9 L1812.6 3096.0 L1814.7 3096.0 L1816.7 3096.1 L1818.8 3096.2 L1820.8 3096.3 L1822.9 3096.3 L1825.0 3096.4 L1827.0 3096.5 L1829.1 3096.5 L1831.1 3096.6 L1833.2 3096.7 L1835.2 3096.7 L1837.3 3096.8 L1839.4 3096.9 L1841.4 3096.9 L1843.5 3097.0 L1845.5 3097.0 L1847.6 3097.1 L1849.7 3097.2 L1851.7 3097.2 L1853.8 3097.3 L1855.8 3097.4 L1857.9 3097.4 L1860.0 3097.5 L1862.0 3097.5 L1864.1 3097.6 L1866.1 3097.6 L1868.2 3097.7 L1870.3 3097.8 L1872.3 3097.8 L1874.4 3097.9 L1876.4 3097.9 L1878.5 3098.0 L1880.6 3098.0 L1882.6 3098.1 L1884.7 3098.1 L1886.7 3098.2 L1888.8 3098.2 L1890.8 3098.3 L1892.9 3098.4 L1895.0 3098.4 L1897.0 3098.5 L1899.1 3098.5 L1901.1 3098.6 L1903.2 3098.6 L1905.3 3098.7 L1907.3 3098.7 L1909.4 3098.7 L1911.4 3098.8 L1913.5 3098.8" fill="none" stroke="#000000" stroke-width="11" stroke-linejoin="round" stroke-miterlimit="10"/>
<path d="M266.1 2627.4 L268.2 2629.9 L270.2 2632.5 L272.3 2635.0 L274.3 2637.5 L276.4 2640.1 L278.5 2642.6 L280.5 2645.0 L282.6 2647.5 L284.6 2650.0 L286.7 2652.4 L288.8 2654.9 L290.8 2657.3 L292.9 2659.7 L294.9 2662.1 L297.0 2664.5 L299.0 2666.8 L301.1 2669.2 L303.2 2671.5 L305.2 2673.8 L307.3 2676.1 L309.3 2678.4 L311.4 2680.7 L313.5 2683.0 L315.5 2685.3 L317.6 2687.5 L319.6 2689.7 L321.7 2692.0 L323.8 2694.2 L325.8 2696.4 L327.9 2698.5 L329.9 2700.7 L332.0 2702.9 L334.1 2705.0 L336.1 2707.1 L338.2 2709.3 L340.2 2711.4 L342.3 2713.5 L344.4 2715.5 L346.4 2717.6 L348.5 2719.7 L350.5 2721.7 L352.6 2723.8 L354.6 2725.8 L356.7 2727.8 L358.8 2729.8 L360.8 2731.8 L362.9 2733.8 L364.9 2735.8 L367.0 2737.7 L369.1 2739.7 L371.1 2741.6 L373.2 2743.6 L375.2 2745.5 L377.3 2747.4 L379.4 2749.3 L381.4 2751.2 L383.5 2753.1 L385.5 2754.9 L387.6 2756.8 L389.7 2758.7 L391.7 2760.5 L393.8 2762.3 L395.8 2764.1 L397.9 2765.9 L400.0 2767.7 L402.0 2769.5 L404.1 2771.3 L406.1 2773.1 L408.2 2774.8 L410.2 2776.6 L412.3 2778.3 L414.4 2780.1 L416.4 2781.8 L418.5 2783.5 L420.5 2785.2 L422.6 2786.9 L424.7 2788.6 L426.7 2790.3 L428.8 2791.9 L430.8 2793.6 L432.9 2795.2 L435.0 2796.9 L437.0 2798.5 L439.1 2800.1 L441.1 2801.8 L443.2 2803.4 L445.3 2805.0 L447.3 2806.6 L449.4 2808.1 L451.4 2809.7 L453.5 2811.3 L455.6 2812.8 L457.6 2814.4 L459.7 2815.9 L461.7 2817.4 L463.8 2819.0 L465.8 2820.5 L467.9 2822.0 L470.0 2823.5 L472.0 2825.0 L474.1 2826.4 L476.1 2827.9 L478.2 2829.4 L480.3 2830.8 L482.3 2832.3 L484.4 2833.7 L486.4 2835.2 L488.5 2836.6 L490.6 2838.0 L492.6 2839.4 L494.7 2840.8 L496.7 2842.2 L498.8 2843.6 L500.9 2845.1 L502.9 2846.5 L505.0 2847.9 L507.0 2849.4 L509.1 2850.8 L511.2 2852.3 L513.2 2853.7 L515.3 2855.2 L517.3 2856.6 L519.4 2858.1 L521.4 2859.5 L523.5 2860.9 L525.6 2862.3 L527.6 2863.7 L529.7 2865.1 L531.7 2866.5 L533.8 2867.9 L535.9 2869.2 L537.9 2870.5 L540.0 2871.8 L542.0 2873.1 L544.1 2874.3 L546.2 2875.6 L548.2 2876.9 L550.3 2878.1 L552.3 2879.3 L554.4 2880.6 L556.5 2881.8 L558.5 2883.0 L560.6 2884.2 L562.6 2885.4 L564.7 2886.6 L566.8 2887.8 L568.8 2889.0 L570.9 2890.2 L572.9 2891.4 L575.0 2892.5 L577.0 2893.7 L579.1 2894.8 L581.2 2896.0 L583.2 2897.1 L585.3 2898.2 L587.3 2899.3 L589.4 2900.5 L591.5 2901.6 L593.5 2902.7 L595.6 2903.8 L597.6 2904.9 L599.7 2905.9 L601.8 2907.0 L603.8 2908.1 L605.9 2909.1 L607.9 2910.2 L610.0 2911.3 L612.1 2912.3 L614.1 2913.3 L616.2 2914.4 L618.2 2915.4 L620.3 2916.4 L622.4 2917.4 L624.4 2918.4 L626.5 2919.4 L628.5 2920.4 L630.6 2921.4 L632.6 2922.4 L634.7 2923.4 L636.8 2924.3 L638.8 2925.3 L640.9 2926.3 L642.9 2927.2 L645.0 2928.2 L647.1 2929.1 L649.1 2930.1 L651.2 2931.0 L653.2 2931.9 L655.3 2932.8 L657.4 2933.7 L659.4 2934.7 L661.5 2935.6 L663.5 2936.5 L665.6 2937.3 L667.7 2938.2 L669.7 2939.1 L671.8 2940.0 L673.8 2940.9 L675.9 2941.7 L678.0 2942.6 L680.0 2943.4 L682.1 2944.3 L684.1 2945.1 L686.2 2945.9 L688.2 2946.8 L690.3 2947.6 L692.4 2948.4 L694.4 2949.2 L696.5 2949.9 L698.5 2950.7 L700.6 2951.5 L702.7 2952.3 L704.7 2953.0 L706.8 2953.8 L708.8 2954.5 L710.9 2955.2 L713.0 2956.0 L715.0 2956.7 L717.1 2957.4 L719.1 2958.1 L721.2 2958.8 L723.3 2959.5 L725.3 2960.2 L727.4 2960.9 L729.4 2961.6 L731.5 2962.3 L733.5 2962.9 L735.6 2963.6 L737.7 2964.3 L739.7 2964.9 L741.8 2965.6 L743.8 2966.2 L745.9 2966.9 L748.0 2967.5 L750.0 2968.2 L752.1 2968.8 L754.1 2969.4 L756.2 2970.0 L758.3 2970.7 L760.3 2971.3 L762.4 2971.9 L764.4 2972.5 L766.5 2973.1 L768.6 2973.7 L770.6 2974.3 L772.7 2974.9 L774.7 2975.5 L776.8 2976.1 L778.9 2976.6 L780.9 2977.2 L783.0 2977.8 L785.0 2978.4 L787.1 2979.0 L789.1 2979.5 L791.2 2980.1 L793.3 2980.7 L795.3 2981.2 L797.4 2981.8 L799.4 2982.4 L801.5 2982.9 L803.6 2983.5 L805.6 2984.0 L807.7 2984.6 L809.7 2985.1 L811.8 2985.7 L813.9 2986.2 L815.9 2986.8 L818.0 2987.3 L820.0 2987.9 L822.1 2988.4 L824.2 2989.0 L826.2 2989.5 L828.3 2990.0 L830.3 2990.6 L832.4 2991.1 L834.5 2991.7 L836.5 2992.2 L838.6 2992.7 L840.6 2993.3 L842.7 2993.8 L844.7 2994.3 L846.8 2994.9 L848.9 2995.4 L850.9 2995.9 L853.0 2996.5 L855.0 2997.0 L857.1 2997.5 L859.2 2998.0 L861.2 2998.6 L863.3 2999.1 L865.3 2999.6 L867.4 3000.2 L869.5 3000.7 L871.5 3001.2 L873.6 3001.8 L875.6 3002.3 L877.7 3002.8 L879.8 3003.3 L881.8 3003.9 L883.9 3004.4 L885.9 3004.9 L888.0 3005.5 L890.1 3006.0 L892.1 3006.5 L894.2 3007.0 L896.2 3007.6 L898.3 3008.1 L900.3 3008.6 L902.4 3009.1 L904.5 3009.6 L906.5 3010.2 L908.6 3010.7 L910.6 3011.2 L912.7 3011.7 L914.8 3012.2 L916.8 3012.7 L918.9 3013.2 L920.9 3013.8 L923.0 3014.3 L925.1 3014.8 L927.1 3015.3 L929.2 3015.8 L931.2 3016.3 L933.3 3016.8 L935.4 3017.3 L937.4 3017.8 L939.5 3018.3 L941.5 3018.7 L943.6 3019.2 L945.7 3019.7 L947.7 3020.2 L949.8 3020.7 L951.8 3021.2 L953.9 3021.7 L955.9 3022.1 L958.0 3022.6 L960.1 3023.1 L962.1 3023.6 L964.2 3024.0 L966.2 3024.5 L968.3 3025.0 L970.4 3025.4 L972.4 3025.9 L974.5 3026.3 L976.5 3026.8 L978.6 3027.3 L980.7 3027.7 L982.7 3028.2 L984.8 3028.6 L986.8 3029.1 L988.9 3029.5 L991.0 3029.9 L993.0 3030.4 L995.1 3030.8 L997.1 3031.3 L999.2 3031.7 L1001.3 3032.1 L1003.3 3032.5 L1005.4 3033.0 L1007.4 3033.4 L1009.5 3033.8 L1011.5 3034.2 L1013.6 3034.7 L1015.7 3035.1 L1017.7 3035.5 L1019.8 3035.9 L1021.8 3036.3 L1023.9 3036.7 L1026.0 3037.1 L1028.0 3037.5 L1030.1 3037.9 L1032.1 3038.3 L1034.2 3038.7 L1036.3 3039.1 L1038.3 3039.5 L1040.4 3039.9 L1042.4 3040.2 L1044.5 3040.6 L1046.6 3041.0 L1048.6 3041.4 L1050.7 3041.8 L1052.7 3042.1 L1054.8 3042.5 L1056.9 3042.9 L1058.9 3043.2 L1061.0 3043.6 L1063.0 3043.9 L1065.1 3044.3 L1067.1 3044.7 L1069.2 3045.0 L1071.3 3045.4 L1073.3 3045.7 L1075.4 3046.0 L1077.4 3046.4 L1079.5 3046.7 L1081.6 3047.1 L1083.6 3047.4 L1085.7 3047.7 L1087.7 3048.1 L1089.8 3048.4 L1091.9 3048.7 L1093.9 3049.0 L1096.0 3049.4 L1098.0 3049.7 L1100.1 3050.0 L1102.2 3050.3 L1104.2 3050.6 L1106.3 3050.9 L1108.3 3051.3 L1110.4 3051.6 L1112.5 3051.9 L1114.5 3052.2 L1116.6 3052.5 L1118.6 3052.8 L1120.7 3053.1 L1122.7 3053.4 L1124.8 3053.7 L1126.9 3054.0 L1128.9 3054.3 L1131.0 3054.6 L1133.0 3054.9 L1135.1 3055.2 L1137.2 3055.5 L1139.2 3055.8 L1141.3 3056.0 L1143.3 3056.3 L1145.4 3056.6 L1147.5 3056.9 L1149.5 3057.2 L1151.6 3057.5 L1153.6 3057.7 L1155.7 3058.0 L1157.8 3058.3 L1159.8 3058.6 L1161.9 3058.8 L1163.9 3059.1 L1166.0 3059.4 L1168.1 3059.6 L1170.1 3059.9 L1172.2 3060.2 L1174.2 3060.5 L1176.3 3060.7 L1178.3 3061.0 L1180.4 3061.2 L1182.5 3061.5 L1184.5 3061.8 L1186.6 3062.0 L1188.6 3062.3 L1190.7 3062.5 L1192.8 3062.8 L1194.8 3063.0 L1196.9 3063.3 L1198.9 3063.5 L1201.0 3063.8 L1203.1 3064.0 L1205.1 3064.3 L1207.2 3064.5 L1209.2 3064.8 L1211.3 3065.0 L1213.4 3065.2 L1215.4 3065.5 L1217.5 3065.7 L1219.5 3066.0 L1221.6 3066.2 L1223.7 3066.4 L1225.7 3066.7 L1227.8 3066.9 L1229.8 3067.1 L1231.9 3067.4 L1233.9 3067.6 L1236.0 3067.8 L1238.1 3068.0 L1240.1 3068.3 L1242.2 3068.5 L1244.2 3068.7 L1246.3 3068.9 L1248.4 3069.2 L1250.4 3069.4 L1252.5 3069.6 L1254.5 3069.8 L1256.6 3070.0 L1258.7 3070.3 L1260.7 3070.5 L1262.8 3070.7 L1264.8 3070.9 L1266.9 3071.1 L1269.0 3071.3 L1271.0 3071.5 L1273.1 3071.7 L1275.1 3071.9 L1277.2 3072.1 L1279.3 3072.4 L1281.3 3072.6 L1283.4 3072.8 L1285.4 3073.0 L1287.5 3073.2 L1289.5 3073.4 L1291.6 3073.6 L1293.7 3073.8 L1295.7 3074.0 L1297.8 3074.2 L1299.8 3074.3 L1301.9 3074.5 L1304.0 3074.7 L1306.0 3074.9 L1308.1 3075.1 L1310.1 3075.3 L1312.2 3075.5 L1314.3 3075.7 L1316.3 3075.9 L1318.4 3076.1 L1320.4 3076.2 L1322.5 3076.4 L1324.6 3076.6 L1326.6 3076.8 L1328.7 3077.0 L1330.7 3077.2 L1332.8 3077.3 L1334.9 3077.5 L1336.9 3077.7 L1339.0 3077.9 L1341.0 3078.0 L1343.1 3078.2 L1345.1 3078.4 L1347.2 3078.6 L1349.3 3078.7 L1351.3 3078.9 L1353.4 3079.1 L1355.4 3079.3 L1357.5 3079.4 L1359.6 3079.6 L1361.6 3079.8 L1363.7 3079.9 L1365.7 3080.1 L1367.8 3080.3 L1369.9 3080.4 L1371.9 3080.6 L1374.0 3080.8 L1376.0 3080.9 L1378.1 3081.1 L1380.2 3081.2 L1382.2 3081.4 L1384.3 3081.6 L1386.3 3081.7 L1388.4 3081.9 L1390.5 3082.0 L1392.5 3082.2 L1394.6 3082.3 L1396.6 3082.5 L1398.7 3082.6 L1400.7 3082.8 L1402.8 3082.9 L1404.9 3083.1 L1406.9 3083.2 L1409.0 3083.4 L1411.0 3083.5 L1413.1 3083.7 L1415.2 3083.8 L1417.2 3084.0 L1419.3 3084.1 L1421.3 3084.3 L1423.4 3084.4 L1425.5 3084.6 L1427.5 3084.7 L1429.6 3084.8 L1431.6 3085.0 L1433.7 3085.1 L1435.8 3085.3 L1437.8 3085.4 L1439.9 3085.5 L1441.9 3085.7 L1444.0 3085.8 L1446.1 3086.0 L1448.1 3086.1 L1450.2 3086.2 L1452.2 3086.4 L1454.3 3086.5 L1456.3 3086.6 L1458.4 3086.8 L1460.5 3086.9 L1462.5 3087.0 L1464.6 3087.2 L1466.6 3087.3 L1468.7 3087.4 L1470.8 3087.5 L1472.8 3087.7 L1474.9 3087.8 L1476.9 3087.9 L1479.0 3088.0 L1481.1 3088.2 L1483.1 3088.3 L1485.2 3088.4 L1487.2 3088.5 L1489.3 3088.7 L1491.4 3088.8 L1493.4 3088.9 L1495.5 3089.0 L1497.5 3089.2 L1499.6 3089.3 L1501.7 3089.4 L1503.7 3089.5 L1505.8 3089.6 L1507.8 3089.7 L1509.9 3089.9 L1511.9 3090.0 L1514.0 3090.1 L1516.1 3090.2 L1518.1 3090.3 L1520.2 3090.4 L1522.2 3090.5 L1524.3 3090.6 L1526.4 3090.7 L1528.4 3090.8 L1530.5 3090.9 L1532.5 3091.0 L1534.6 3091.1 L1536.7 3091.2 L1538.7 3091.3 L1540.8 3091.4 L1542.8 3091.5 L1544.9 3091.6 L1547.0 3091.7 L1549.0 3091.8 L1551.1 3091.9 L1553.1 3091.9 L1555.2 3092.0 L1557.2 3092.1 L1559.3 3092.2 L1561.4 3092.3 L1563.4 3092.4 L1565.5 3092.5 L1567.5 3092.5 L1569.6 3092.6 L1571.7 3092.7 L1573.7 3092.8 L1575.8 3092.9 L1577.8 3092.9 L1579.9 3093.0 L1582.0 3093.1 L1584.0 3093.2 L1586.1 3093.3 L1588.1 3093.3 L1590.2 3093.4 L1592.3 3093.5 L1594.3 3093.6 L1596.4 3093.6 L1598.4 3093.7 L1600.5 3093.8 L1602.6 3093.9 L1604.6 3093.9 L1606.7 3094.0 L1608.7 3094.1 L1610.8 3094.1 L1612.8 3094.2 L1614.9 3094.3 L1617.0 3094.4 L1619.0 3094.4 L1621.1 3094.5 L1623.1 3094.6 L1625.2 3094.6 L1627.3 3094.7 L1629.3 3094.8 L1631.4 3094.8 L1633.4 3094.9 L1635.5 3095.0 L1637.6 3095.0 L1639.6 3095.1 L1641.7 3095.2 L1643.7 3095.2 L1645.8 3095.3 L1647.9 3095.4 L1649.9 3095.5 L1652.0 3095.5 L1654.0 3095.6 L1656.1 3095.7 L1658.2 3095.7 L1660.2 3095.8 L1662.3 3095.9 L1664.3 3095.9 L1666.4 3096.0 L1668.4 3096.1 L1670.5 3096.1 L1672.6 3096.2 L1674.6 3096.3 L1676.7 3096.3 L1678.7 3096.4 L1680.8 3096.5 L1682.9 3096.5 L1684.9 3096.6 L1687.0 3096.7 L1689.0 3096.7 L1691.1 3096.8 L1693.2 3096.9 L1695.2 3097.0 L1697.3 3097.0 L1699.3 3097.1 L1701.4 3097.2 L1703.5 3097.2 L1705.5 3097.3 L1707.6 3097.4 L1709.6 3097.5 L1711.7 3097.5 L1713.8 3097.6 L1715.8 3097.7 L1717.9 3097.7 L1719.9 3097.8 L1722.0 3097.9 L1724.0 3098.0 L1726.1 3098.0 L1728.2 3098.1 L1730.2 3098.2 L1732.3 3098.3 L1734.3 3098.3 L1736.4 3098.4 L1738.5 3098.5 L1740.5 3098.6 L1742.6 3098.7 L1744.6 3098.7 L1746.7 3098.8 L1748.8 3098.9 L1750.8 3099.0 L1754.9 3099.1 L1757.0 3099.2 L1759.1 3099.3 L1761.1 3099.3 L1763.2 3099.4 L1765.2 3099.5 L1767.3 3099.6 L1769.4 3099.7 L1771.4 3099.7 L1773.5 3099.8 L1775.5 3099.9 L1777.6 3100.0 L1779.6 3100.0 L1781.7 3100.1 L1783.8 3100.2 L1785.8 3100.3 L1787.9 3100.3 L1789.9 3100.4 L1792.0 3100.5 L1794.1 3100.6 L1796.1 3100.6 L1798.2 3100.7 L1800.2 3100.8 L1802.3 3100.9 L1804.4 3101.0 L1806.4 3101.0 L1808.5 3101.1 L1810.5 3101.2 L1812.6 3101.3 L1814.7 3101.3 L1816.7 3101.4 L1818.8 3101.5 L1820.8 3101.6 L1822.9 3101.6 L1825.0 3101.7 L1827.0 3101.8 L1829.1 3101.9 L1831.1 3101.9 L1833.2 3102.0 L1835.2 3102.1 L1837.3 3102.2 L1839.4 3102.2 L1841.4 3102.3 L1843.5 3102.4 L1845.5 3102.5 L1847.6 3102.5 L1849.7 3102.6 L1851.7 3102.7 L1853.8 3102.8 L1855.8 3102.8 L1857.9 3102.9 L1860.0 3103.0 L1862.0 3103.1 L1864.1 3103.1 L1866.1 3103.2 L1868.2 3103.3 L1870.3 3103.4 L1872.3 3103.4 L1874.4 3103.5 L1876.4 3103.6 L1878.5 3103.7 L1880.6 3103.7 L1882.6 3103.8 L1884.7 3103.9 L1886.7 3103.9 L1888.8 3104.0 L1890.8 3104.1 L1892.9 3104.2 L1895.0 3104.2 L1897.0 3104.3 L1899.1 3104.4 L1901.1 3104.5 L1903.2 3104.5 L1905.3 3104.6 L1907.3 3104.7 L1909.4 3104.7 L1911.4 3104.8 L1913.5 3104.9" fill="none" stroke="#000000" stroke-width="11" stroke-linejoin="round" stroke-miterlimit="10"/>
<path d="M266.1 2036.8 L268.2 2043.0 L270.2 2049.2 L272.3 2055.3 L274.3 2061.4 L276.4 2067.4 L278.5 2073.4 L280.5 2079.4 L282.6 2085.3 L284.6 2091.2 L286.7 2097.0 L288.8 2102.8 L290.8 2108.6 L292.9 2114.3 L294.9 2120.0 L297.0 2125.6 L299.0 2131.2 L301.1 2136.8 L303.2 2142.3 L305.2 2147.8 L307.3 2153.2 L309.3 2158.7 L311.4 2164.1 L313.5 2169.4 L315.5 2174.7 L317.6 2180.0 L319.6 2185.2 L321.7 2190.5 L323.8 2195.6 L325.8 2200.8 L327.9 2205.9 L329.9 2211.0 L332.0 2216.0 L334.1 2221.0 L336.1 2226.0 L338.2 2231.0 L340.2 2235.9 L342.3 2240.8 L344.4 2245.6 L346.4 2250.4 L348.5 2255.2 L350.5 2260.0 L352.6 2264.7 L354.6 2269.4 L356.7 2274.1 L358.8 2278.8 L360.8 2283.4 L362.9 2287.9 L364.9 2292.5 L367.0 2297.0 L369.1 2301.4 L371.1 2305.9 L373.2 2310.3 L375.2 2314.7 L377.3 2319.0 L379.4 2323.3 L381.4 2327.6 L383.5 2331.9 L385.5 2336.1 L387.6 2340.3 L389.7 2344.5 L391.7 2348.7 L393.8 2352.8 L395.8 2356.9 L397.9 2361.0 L400.0 2365.0 L402.0 2369.1 L404.1 2373.1 L406.1 2377.1 L408.2 2381.1 L410.2 2385.1 L412.3 2389.0 L414.4 2392.9 L416.4 2396.9 L418.5 2400.7 L420.5 2404.6 L422.6 2408.5 L424.7 2412.3 L426.7 2416.2 L428.8 2420.0 L430.8 2423.8 L432.9 2427.6 L435.0 2431.3 L437.0 2435.1 L439.1 2438.8 L441.1 2442.5 L443.2 2446.2 L445.3 2449.8 L447.3 2453.5 L449.4 2457.1 L451.4 2460.7 L453.5 2464.3 L455.6 2467.9 L457.6 2471.4 L459.7 2474.9 L461.7 2478.5 L463.8 2481.9 L465.8 2485.4 L467.9 2488.9 L470.0 2492.3 L472.0 2495.7 L474.1 2499.1 L476.1 2502.5 L478.2 2505.8 L480.3 2509.2 L482.3 2512.5 L484.4 2515.8 L486.4 2519.0 L488.5 2522.3 L490.6 2525.5 L492.6 2528.7 L494.7 2531.9 L496.7 2535.1 L498.8 2538.2 L500.9 2541.4 L502.9 2544.5 L505.0 2547.6 L507.0 2550.6 L509.1 2553.7 L511.2 2556.7 L513.2 2559.7 L515.3 2562.7 L517.3 2565.7 L519.4 2568.6 L521.4 2571.6 L523.5 2574.5 L525.6 2577.4 L527.6 2580.3 L529.7 2583.2 L531.7 2586.0 L533.8 2588.9 L535.9 2591.7 L537.9 2594.5 L540.0 2597.3 L542.0 2600.1 L544.1 2602.8 L546.2 2605.6 L548.2 2608.3 L550.3 2611.0 L552.3 2613.7 L554.4 2616.4 L556.5 2619.0 L558.5 2621.7 L560.6 2624.3 L562.6 2626.9 L564.7 2629.5 L566.8 2632.1 L568.8 2634.7 L570.9 2637.2 L572.9 2639.8 L575.0 2642.3 L577.0 2644.8 L579.1 2647.3 L581.2 2649.8 L583.2 2652.3 L585.3 2654.7 L587.3 2657.1 L589.4 2659.6 L591.5 2662.0 L593.5 2664.4 L595.6 2666.7 L597.6 2669.1 L599.7 2671.4 L601.8 2673.8 L603.8 2676.1 L605.9 2678.4 L607.9 2680.7 L610.0 2683.0 L612.1 2685.2 L614.1 2687.5 L616.2 2689.7 L618.2 2691.9 L620.3 2694.2 L622.4 2696.3 L624.4 2698.5 L626.5 2700.7 L628.5 2702.8 L630.6 2705.0 L632.6 2707.1 L634.7 2709.2 L636.8 2711.2 L638.8 2713.3 L640.9 2715.3 L642.9 2717.3 L645.0 2719.3 L647.1 2721.3 L649.1 2723.3 L651.2 2725.3 L653.2 2727.2 L655.3 2729.2 L657.4 2731.1 L659.4 2733.0 L661.5 2735.0 L663.5 2736.9 L665.6 2738.8 L667.7 2740.7 L669.7 2742.6 L671.8 2744.5 L673.8 2746.4 L675.9 2748.3 L678.0 2750.1 L680.0 2752.0 L682.1 2753.9 L684.1 2755.8 L686.2 2757.6 L688.2 2759.5 L690.3 2761.3 L692.4 2763.1 L694.4 2764.9 L696.5 2766.7 L698.5 2768.5 L700.6 2770.3 L702.7 2772.1 L704.7 2773.8 L706.8 2775.6 L708.8 2777.3 L710.9 2779.1 L713.0 2780.8 L715.0 2782.5 L717.1 2784.2 L719.1 2785.9 L721.2 2787.6 L723.3 2789.3 L725.3 2791.0 L727.4 2792.6 L729.4 2794.3 L731.5 2795.9 L733.5 2797.6 L735.6 2799.2 L737.7 2800.8 L739.7 2802.4 L741.8 2804.0 L743.8 2805.6 L745.9 2807.2 L748.0 2808.8 L750.0 2810.4 L752.1 2811.9 L754.1 2813.5 L756.2 2815.0 L758.3 2816.6 L760.3 2818.1 L762.4 2819.6 L764.4 2821.1 L766.5 2822.6 L768.6 2824.1 L770.6 2825.6 L772.7 2827.1 L774.7 2828.6 L776.8 2830.0 L778.9 2831.5 L780.9 2832.9 L783.0 2834.4 L785.0 2835.8 L787.1 2837.2 L789.1 2838.6 L791.2 2840.0 L793.3 2841.5 L795.3 2842.8 L797.4 2844.2 L799.4 2845.6 L801.5 2847.0 L803.6 2848.3 L805.6 2849.7 L807.7 2851.1 L809.7 2852.4 L811.8 2853.7 L813.9 2855.1 L815.9 2856.4 L818.0 2857.7 L820.0 2859.0 L822.1 2860.3 L824.2 2861.6 L826.2 2862.9 L828.3 2864.2 L830.3 2865.4 L832.4 2866.7 L834.5 2867.9 L836.5 2869.2 L838.6 2870.4 L840.6 2871.7 L842.7 2872.9 L844.7 2874.1 L846.8 2875.4 L848.9 2876.6 L850.9 2877.8 L853.0 2879.0 L855.0 2880.2 L857.1 2881.3 L859.2 2882.5 L861.2 2883.7 L863.3 2884.9 L865.3 2886.0 L867.4 2887.2 L869.5 2888.3 L871.5 2889.5 L873.6 2890.6 L875.6 2891.7 L877.7 2892.8 L879.8 2894.0 L881.8 2895.1 L883.9 2896.2 L885.9 2897.3 L888.0 2898.4 L890.1 2899.5 L892.1 2900.5 L894.2 2901.6 L896.2 2902.7 L898.3 2903.7 L900.3 2904.8 L902.4 2905.8 L904.5 2906.9 L906.5 2907.9 L908.6 2909.0 L910.6 2910.0 L912.7 2911.0 L914.8 2912.0 L916.8 2913.1 L918.9 2914.1 L920.9 2915.1 L923.0 2916.1 L925.1 2917.1 L927.1 2918.0 L929.2 2919.0 L931.2 2920.0 L933.3 2921.0 L935.4 2921.9 L937.4 2922.9 L939.5 2923.8 L941.5 2924.8 L943.6 2925.7 L945.7 2926.7 L947.7 2927.6 L949.8 2928.5 L951.8 2929.5 L953.9 2930.4 L955.9 2931.3 L958.0 2932.2 L960.1 2933.1 L962.1 2934.0 L964.2 2934.9 L966.2 2935.8 L968.3 2936.7 L970.4 2937.6 L972.4 2938.5 L974.5 2939.3 L976.5 2940.2 L978.6 2941.1 L980.7 2941.9 L982.7 2942.8 L984.8 2943.6 L986.8 2944.5 L988.9 2945.3 L991.0 2946.2 L993.0 2947.0 L995.1 2947.8 L997.1 2948.7 L999.2 2949.5 L1001.3 2950.3 L1003.3 2951.1 L1005.4 2951.9 L1007.4 2952.7 L1009.5 2953.5 L1011.5 2954.3 L1013.6 2955.1 L1015.7 2955.9 L1017.7 2956.7 L1019.8 2957.5 L1021.8 2958.3 L1023.9 2959.0 L1026.0 2959.8 L1028.0 2960.6 L1030.1 2961.3 L1032.1 2962.1 L1034.2 2962.8 L1036.3 2963.6 L1038.3 2964.3 L1040.4 2965.1 L1042.4 2965.8 L1044.5 2966.5 L1046.6 2967.3 L1048.6 2968.0 L1050.7 2968.7 L1052.7 2969.4 L1054.8 2970.2 L1056.9 2970.9 L1058.9 2971.6 L1061.0 2972.3 L1063.0 2973.0 L1065.1 2973.7 L1067.1 2974.4 L1069.2 2975.1 L1071.3 2975.8 L1073.3 2976.4 L1075.4 2977.1 L1077.4 2977.8 L1079.5 2978.5 L1081.6 2979.2 L1083.6 2979.8 L1085.7 2980.5 L1087.7 2981.1 L1089.8 2981.8 L1091.9 2982.5 L1093.9 2983.1 L1096.0 2983.8 L1098.0 2984.4 L1100.1 2985.0 L1102.2 2985.7 L1104.2 2986.3 L1106.3 2986.9 L1108.3 2987.6 L1110.4 2988.2 L1112.5 2988.8 L1114.5 2989.4 L1116.6 2990.1 L1118.6 2990.7 L1120.7 2991.3 L1122.7 2991.9 L1124.8 2992.5 L1126.9 2993.1 L1128.9 2993.7 L1131.0 2994.3 L1133.0 2994.9 L1135.1 2995.5 L1137.2 2996.1 L1139.2 2996.6 L1141.3 2997.2 L1143.3 2997.8 L1145.4 2998.4 L1147.5 2998.9 L1149.5 2999.5 L1151.6 3000.1 L1153.6 3000.6 L1155.7 3001.2 L1157.8 3001.7 L1159.8 3002.3 L1161.9 3002.9 L1163.9 3003.4 L1166.0 3003.9 L1168.1 3004.5 L1170.1 3005.0 L1172.2 3005.6 L1174.2 3006.1 L1176.3 3006.6 L1178.3 3007.2 L1180.4 3007.7 L1182.5 3008.2 L1184.5 3008.7 L1186.6 3009.3 L1188.6 3009.8 L1190.7 3010.3 L1192.8 3010.8 L1194.8 3011.3 L1196.9 3011.8 L1198.9 3012.3 L1201.0 3012.8 L1203.1 3013.3 L1205.1 3013.8 L1207.2 3014.3 L1209.2 3014.8 L1211.3 3015.3 L1213.4 3015.8 L1215.4 3016.2 L1217.5 3016.7 L1219.5 3017.2 L1221.6 3017.7 L1223.7 3018.1 L1225.7 3018.6 L1227.8 3019.1 L1229.8 3019.6 L1231.9 3020.0 L1233.9 3020.5 L1236.0 3020.9 L1238.1 3021.4 L1240.1 3021.9 L1242.2 3022.3 L1244.2 3022.8 L1246.3 3023.2 L1248.4 3023.6 L1250.4 3024.1 L1252.5 3024.5 L1254.5 3025.0 L1256.6 3025.4 L1258.7 3025.8 L1260.7 3026.3 L1262.8 3026.7 L1264.8 3027.1 L1266.9 3027.6 L1269.0 3028.0 L1271.0 3028.4 L1273.1 3028.8 L1275.1 3029.2 L1277.2 3029.7 L1279.3 3030.1 L1281.3 3030.5 L1283.4 3030.9 L1285.4 3031.3 L1287.5 3031.7 L1289.5 3032.1 L1291.6 3032.5 L1293.7 3032.9 L1295.7 3033.3 L1297.8 3033.7 L1299.8 3034.1 L1301.9 3034.5 L1304.0 3034.9 L1306.0 3035.3 L1308.1 3035.6 L1310.1 3036.0 L1312.2 3036.4 L1314.3 3036.8 L1316.3 3037.2 L1318.4 3037.5 L1320.4 3037.9 L1322.5 3038.3 L1324.6 3038.6 L1326.6 3039.0 L1328.7 3039.4 L1330.7 3039.7 L1332.8 3040.1 L1334.9 3040.5 L1336.9 3040.8 L1339.0 3041.2 L1341.0 3041.5 L1343.1 3041.9 L1345.1 3042.2 L1347.2 3042.6 L1349.3 3042.9 L1351.3 3043.3 L1353.4 3043.6 L1355.4 3044.0 L1357.5 3044.3 L1359.6 3044.7 L1361.6 3045.0 L1363.7 3045.3 L1365.7 3045.7 L1367.8 3046.0 L1369.9 3046.3 L1371.9 3046.7 L1374.0 3047.0 L1376.0 3047.3 L1378.1 3047.6 L1380.2 3048.0 L1382.2 3048.3 L1384.3 3048.6 L1386.3 3048.9 L1388.4 3049.2 L1390.5 3049.5 L1392.5 3049.9 L1394.6 3050.2 L1396.6 3050.5 L1398.7 3050.8 L1400.7 3051.1 L1402.8 3051.4 L1404.9 3051.7 L1406.9 3052.0 L1409.0 3052.3 L1411.0 3052.6 L1413.1 3052.9 L1415.2 3053.2 L1417.2 3053.5 L1419.3 3053.8 L1421.3 3054.1 L1423.4 3054.4 L1425.5 3054.7 L1427.5 3054.9 L1429.6 3055.2 L1431.6 3055.5 L1433.7 3055.8 L1435.8 3056.1 L1437.8 3056.4 L1439.9 3056.6 L1441.9 3056.9 L1444.0 3057.2 L1446.1 3057.5 L1448.1 3057.7 L1450.2 3058.0 L1452.2 3058.3 L1454.3 3058.6 L1456.3 3058.8 L1458.4 3059.1 L1460.5 3059.4 L1462.5 3059.6 L1464.6 3059.9 L1466.6 3060.1 L1468.7 3060.4 L1470.8 3060.7 L1472.8 3060.9 L1474.9 3061.2 L1476.9 3061.4 L1479.0 3061.7 L1481.1 3061.9 L1483.1 3062.2 L1485.2 3062.4 L1487.2 3062.7 L1489.3 3062.9 L1491.4 3063.2 L1493.4 3063.4 L1495.5 3063.7 L1497.5 3063.9 L1499.6 3064.1 L1501.7 3064.4 L1503.7 3064.6 L1505.8 3064.9 L1507.8 3065.1 L1509.9 3065.3 L1511.9 3065.6 L1514.0 3065.8 L1516.1 3066.0 L1518.1 3066.3 L1520.2 3066.5 L1522.2 3066.7 L1524.3 3066.9 L1526.4 3067.2 L1528.4 3067.4 L1530.5 3067.6 L1532.5 3067.8 L1534.6 3068.1 L1536.7 3068.3 L1538.7 3068.5 L1540.8 3068.7 L1542.8 3068.9 L1544.9 3069.2 L1547.0 3069.4 L1549.0 3069.6 L1551.1 3069.8 L1553.1 3070.0 L1555.2 3070.2 L1557.2 3070.4 L1559.3 3070.6 L1561.4 3070.9 L1563.4 3071.1 L1565.5 3071.3 L1567.5 3071.5 L1569.6 3071.7 L1571.7 3071.9 L1573.7 3072.1 L1575.8 3072.3 L1577.8 3072.5 L1579.9 3072.7 L1582.0 3072.9 L1584.0 3073.1 L1586.1 3073.3 L1588.1 3073.5 L1590.2 3073.7 L1592.3 3073.9 L1594.3 3074.1 L1596.4 3074.2 L1598.4 3074.4 L1600.5 3074.6 L1602.6 3074.8 L1604.6 3075.0 L1606.7 3075.2 L1608.7 3075.4 L1610.8 3075.6 L1612.8 3075.7 L1614.9 3075.9 L1617.0 3076.1 L1619.0 3076.3 L1621.1 3076.5 L1623.1 3076.7 L1625.2 3076.8 L1627.3 3077.0 L1629.3 3077.2 L1631.4 3077.4 L1633.4 3077.5 L1635.5 3077.7 L1637.6 3077.9 L1639.6 3078.1 L1641.7 3078.2 L1643.7 3078.4 L1645.8 3078.6 L1647.9 3078.7 L1649.9 3078.9 L1652.0 3079.1 L1654.0 3079.2 L1656.1 3079.4 L1658.2 3079.6 L1660.2 3079.7 L1662.3 3079.9 L1664.3 3080.0 L1666.4 3080.2 L1668.4 3080.4 L1670.5 3080.5 L1672.6 3080.7 L1674.6 3080.8 L1676.7 3081.0 L1678.7 3081.1 L1680.8 3081.3 L1682.9 3081.4 L1684.9 3081.6 L1687.0 3081.7 L1689.0 3081.9 L1691.1 3082.0 L1693.2 3082.2 L1695.2 3082.3 L1697.3 3082.5 L1699.3 3082.6 L1701.4 3082.8 L1703.5 3082.9 L1705.5 3083.1 L1707.6 3083.2 L1709.6 3083.4 L1711.7 3083.5 L1713.8 3083.6 L1715.8 3083.8 L1717.9 3083.9 L1719.9 3084.0 L1722.0 3084.2 L1724.0 3084.3 L1726.1 3084.5 L1728.2 3084.6 L1730.2 3084.7 L1732.3 3084.9 L1734.3 3085.0 L1736.4 3085.1 L1738.5 3085.2 L1740.5 3085.4 L1742.6 3085.5 L1744.6 3085.6 L1746.7 3085.8 L1748.8 3085.9 L1750.8 3086.0 L1752.9 3086.1 L1754.9 3086.3 L1757.0 3086.4 L1759.1 3086.5 L1761.1 3086.6 L1763.2 3086.7 L1765.2 3086.9 L1767.3 3087.0 L1769.4 3087.1 L1771.4 3087.2 L1773.5 3087.3 L1775.5 3087.5 L1777.6 3087.6 L1779.6 3087.7 L1781.7 3087.8 L1783.8 3087.9 L1785.8 3088.0 L1787.9 3088.1 L1789.9 3088.3 L1792.0 3088.4 L1794.1 3088.5 L1796.1 3088.6 L1798.2 3088.7 L1800.2 3088.8 L1802.3 3088.9 L1804.4 3089.0 L1806.4 3089.1 L1808.5 3089.2 L1810.5 3089.3 L1812.6 3089.5 L1814.7 3089.6 L1816.7 3089.7 L1818.8 3089.8 L1820.8 3089.9 L1822.9 3090.0 L1825.0 3090.1 L1827.0 3090.2 L1829.1 3090.3 L1831.1 3090.4 L1833.2 3090.5 L1835.2 3090.6 L1837.3 3090.7 L1839.4 3090.8 L1841.4 3090.9 L1843.5 3091.0 L1845.5 3091.0 L1847.6 3091.1 L1849.7 3091.2 L1851.7 3091.3 L1853.8 3091.4 L1855.8 3091.5 L1857.9 3091.6 L1860.0 3091.7 L1862.0 3091.8 L1864.1 3091.9 L1866.1 3092.0 L1868.2 3092.1 L1870.3 3092.1 L1872.3 3092.2 L1874.4 3092.3 L1876.4 3092.4 L1878.5 3092.5 L1880.6 3092.6 L1882.6 3092.7 L1884.7 3092.7 L1886.7 3092.8 L1888.8 3092.9 L1890.8 3093.0 L1892.9 3093.1 L1895.0 3093.2 L1897.0 3093.2 L1899.1 3093.3 L1901.1 3093.4 L1903.2 3093.5 L1905.3 3093.6 L1907.3 3093.6 L1909.4 3093.7 L1911.4 3093.8 L1913.5 3093.9" fill="none" stroke="#00ff00" stroke-width="11" stroke-linejoin="round" stroke-miterlimit="10"/>
<path d="M266.1 2521.5 L268.2 2524.4 L270.2 2527.3 L272.3 2530.2 L274.3 2533.1 L276.4 2535.9 L278.5 2538.8 L280.5 2541.7 L282.6 2544.5 L284.6 2547.3 L286.7 2550.1 L288.8 2552.9 L290.8 2555.7 L292.9 2558.5 L294.9 2561.3 L297.0 2564.1 L299.0 2566.8 L301.1 2569.5 L303.2 2572.3 L305.2 2575.0 L307.3 2577.7 L309.3 2580.4 L311.4 2583.1 L313.5 2585.8 L315.5 2588.4 L317.6 2591.1 L319.6 2593.7 L321.7 2596.3 L323.8 2599.0 L325.8 2601.6 L327.9 2604.2 L329.9 2606.8 L332.0 2609.3 L334.1 2611.9 L336.1 2614.5 L338.2 2617.0 L340.2 2619.5 L342.3 2622.1 L344.4 2624.6 L346.4 2627.1 L348.5 2629.6 L350.5 2632.0 L352.6 2634.5 L354.6 2637.0 L356.7 2639.4 L358.8 2641.8 L360.8 2644.3 L362.9 2646.7 L364.9 2649.1 L367.0 2651.5 L369.1 2653.9 L371.1 2656.3 L373.2 2658.6 L375.2 2661.0 L377.3 2663.3 L379.4 2665.6 L381.4 2668.0 L383.5 2670.3 L385.5 2672.6 L387.6 2674.9 L389.7 2677.2 L391.7 2679.4 L393.8 2681.7 L395.8 2683.9 L397.9 2686.2 L400.0 2688.4 L402.0 2690.6 L404.1 2692.8 L406.1 2695.0 L408.2 2697.2 L410.2 2699.4 L412.3 2701.6 L414.4 2703.7 L416.4 2705.9 L418.5 2708.1 L420.5 2710.2 L422.6 2712.4 L424.7 2714.5 L426.7 2716.7 L428.8 2718.8 L430.8 2720.9 L432.9 2723.0 L435.0 2725.2 L437.0 2727.3 L439.1 2729.4 L441.1 2731.5 L443.2 2733.6 L445.3 2735.6 L447.3 2737.7 L449.4 2739.8 L451.4 2741.9 L453.5 2743.9 L455.6 2746.0 L457.6 2748.0 L459.7 2750.0 L461.7 2752.0 L463.8 2754.0 L465.8 2756.0 L467.9 2758.0 L470.0 2760.0 L472.0 2762.0 L474.1 2764.0 L476.1 2765.9 L478.2 2767.8 L480.3 2769.8 L482.3 2771.7 L484.4 2773.6 L486.4 2775.5 L488.5 2777.4 L490.6 2779.3 L492.6 2781.2 L494.7 2783.0 L496.7 2784.9 L498.8 2786.7 L500.9 2788.5 L502.9 2790.3 L505.0 2792.1 L507.0 2793.9 L509.1 2795.7 L511.2 2797.5 L513.2 2799.2 L515.3 2801.0 L517.3 2802.7 L519.4 2804.4 L521.4 2806.1 L523.5 2807.8 L525.6 2809.5 L527.6 2811.2 L529.7 2812.8 L531.7 2814.4 L533.8 2816.1 L535.9 2817.7 L537.9 2819.3 L540.0 2820.9 L542.0 2822.5 L544.1 2824.0 L546.2 2825.6 L548.2 2827.1 L550.3 2828.7 L552.3 2830.2 L554.4 2831.7 L556.5 2833.2 L558.5 2834.6 L560.6 2836.1 L562.6 2837.5 L564.7 2839.0 L566.8 2840.4 L568.8 2841.8 L570.9 2843.2 L572.9 2844.6 L575.0 2846.0 L577.0 2847.3 L579.1 2848.6 L581.2 2850.0 L583.2 2851.3 L585.3 2852.6 L587.3 2853.9 L589.4 2855.2 L591.5 2856.4 L593.5 2857.7 L595.6 2858.9 L597.6 2860.2 L599.7 2861.4 L601.8 2862.6 L603.8 2863.8 L605.9 2865.0 L607.9 2866.2 L610.0 2867.4 L612.1 2868.6 L614.1 2869.7 L616.2 2870.9 L618.2 2872.1 L620.3 2873.2 L622.4 2874.3 L624.4 2875.5 L626.5 2876.6 L628.5 2877.7 L630.6 2878.9 L632.6 2880.0 L634.7 2881.1 L636.8 2882.2 L638.8 2883.3 L640.9 2884.4 L642.9 2885.5 L645.0 2886.6 L647.1 2887.7 L649.1 2888.8 L651.2 2889.8 L653.2 2890.9 L655.3 2892.0 L657.4 2893.1 L659.4 2894.2 L661.5 2895.2 L663.5 2896.3 L665.6 2897.4 L667.7 2898.4 L669.7 2899.5 L671.8 2900.6 L673.8 2901.6 L675.9 2902.7 L678.0 2903.8 L680.0 2904.8 L682.1 2905.9 L684.1 2907.0 L686.2 2908.0 L688.2 2909.0 L690.3 2910.1 L692.4 2911.1 L694.4 2912.1 L696.5 2913.2 L698.5 2914.2 L700.6 2915.2 L702.7 2916.2 L704.7 2917.2 L706.8 2918.2 L708.8 2919.2 L710.9 2920.2 L713.0 2921.1 L715.0 2922.1 L717.1 2923.1 L719.1 2924.0 L721.2 2925.0 L723.3 2925.9 L725.3 2926.9 L727.4 2927.8 L729.4 2928.8 L731.5 2929.7 L733.5 2930.6 L735.6 2931.6 L737.7 2932.5 L739.7 2933.4 L741.8 2934.3 L743.8 2935.2 L745.9 2936.1 L748.0 2937.0 L750.0 2937.9 L752.1 2938.8 L754.1 2939.6 L756.2 2940.5 L758.3 2941.4 L760.3 2942.3 L762.4 2943.1 L764.4 2944.0 L766.5 2944.8 L768.6 2945.7 L770.6 2946.5 L772.7 2947.4 L774.7 2948.2 L776.8 2949.0 L778.9 2949.8 L780.9 2950.7 L783.0 2951.5 L785.0 2952.3 L787.1 2953.1 L789.1 2953.9 L791.2 2954.7 L793.3 2955.5 L795.3 2956.3 L797.4 2957.1 L799.4 2957.9 L801.5 2958.6 L803.6 2959.4 L805.6 2960.2 L807.7 2961.0 L809.7 2961.7 L811.8 2962.5 L813.9 2963.2 L815.9 2964.0 L818.0 2964.7 L820.0 2965.5 L822.1 2966.2 L824.2 2967.0 L826.2 2967.7 L828.3 2968.4 L830.3 2969.1 L832.4 2969.9 L834.5 2970.6 L836.5 2971.3 L838.6 2972.0 L840.6 2972.7 L842.7 2973.4 L844.7 2974.1 L846.8 2974.8 L848.9 2975.5 L850.9 2976.2 L853.0 2976.9 L855.0 2977.5 L857.1 2978.2 L859.2 2978.9 L861.2 2979.6 L863.3 2980.2 L865.3 2980.9 L867.4 2981.6 L869.5 2982.2 L871.5 2982.9 L873.6 2983.5 L875.6 2984.2 L877.7 2984.8 L879.8 2985.4 L881.8 2986.1 L883.9 2986.7 L885.9 2987.3 L888.0 2988.0 L890.1 2988.6 L892.1 2989.2 L894.2 2989.8 L896.2 2990.4 L898.3 2991.0 L900.3 2991.7 L902.4 2992.3 L904.5 2992.9 L906.5 2993.5 L908.6 2994.0 L910.6 2994.6 L912.7 2995.2 L914.8 2995.8 L916.8 2996.4 L918.9 2997.0 L920.9 2997.5 L923.0 2998.1 L925.1 2998.7 L927.1 2999.3 L929.2 2999.8 L931.2 3000.4 L933.3 3000.9 L935.4 3001.5 L937.4 3002.1 L939.5 3002.6 L941.5 3003.2 L943.6 3003.7 L945.7 3004.2 L947.7 3004.8 L949.8 3005.3 L951.8 3005.8 L953.9 3006.4 L955.9 3006.9 L958.0 3007.4 L960.1 3008.0 L962.1 3008.5 L964.2 3009.0 L966.2 3009.5 L968.3 3010.0 L970.4 3010.5 L972.4 3011.0 L974.5 3011.5 L976.5 3012.0 L978.6 3012.5 L980.7 3013.0 L982.7 3013.5 L984.8 3014.0 L986.8 3014.5 L988.9 3015.0 L991.0 3015.5 L993.0 3016.0 L995.1 3016.4 L997.1 3016.9 L999.2 3017.4 L1001.3 3017.9 L1003.3 3018.3 L1005.4 3018.8 L1007.4 3019.3 L1009.5 3019.7 L1011.5 3020.2 L1013.6 3020.6 L1015.7 3021.1 L1017.7 3021.5 L1019.8 3022.0 L1021.8 3022.4 L1023.9 3022.9 L1026.0 3023.3 L1028.0 3023.8 L1030.1 3024.2 L1032.1 3024.7 L1034.2 3025.1 L1036.3 3025.5 L1038.3 3026.0 L1040.4 3026.4 L1042.4 3026.8 L1044.5 3027.2 L1046.6 3027.6 L1048.6 3028.1 L1050.7 3028.5 L1052.7 3028.9 L1054.8 3029.3 L1056.9 3029.7 L1058.9 3030.1 L1061.0 3030.5 L1063.0 3030.9 L1065.1 3031.3 L1067.1 3031.7 L1069.2 3032.1 L1071.3 3032.5 L1073.3 3032.9 L1075.4 3033.3 L1077.4 3033.7 L1079.5 3034.1 L1081.6 3034.5 L1083.6 3034.9 L1085.7 3035.3 L1087.7 3035.6 L1089.8 3036.0 L1091.9 3036.4 L1093.9 3036.8 L1096.0 3037.1 L1098.0 3037.5 L1100.1 3037.9 L1102.2 3038.3 L1104.2 3038.6 L1106.3 3039.0 L1108.3 3039.3 L1110.4 3039.7 L1112.5 3040.1 L1114.5 3040.4 L1116.6 3040.8 L1118.6 3041.1 L1120.7 3041.5 L1122.7 3041.8 L1124.8 3042.2 L1126.9 3042.5 L1128.9 3042.9 L1131.0 3043.2 L1133.0 3043.6 L1135.1 3043.9 L1137.2 3044.2 L1139.2 3044.6 L1141.3 3044.9 L1143.3 3045.2 L1145.4 3045.6 L1147.5 3045.9 L1149.5 3046.2 L1151.6 3046.5 L1153.6 3046.9 L1155.7 3047.2 L1157.8 3047.5 L1159.8 3047.8 L1161.9 3048.1 L1163.9 3048.5 L1166.0 3048.8 L1168.1 3049.1 L1170.1 3049.4 L1172.2 3049.7 L1174.2 3050.0 L1176.3 3050.3 L1178.3 3050.6 L1180.4 3050.9 L1182.5 3051.2 L1184.5 3051.5 L1186.6 3051.8 L1188.6 3052.1 L1190.7 3052.4 L1192.8 3052.7 L1194.8 3053.0 L1196.9 3053.3 L1198.9 3053.6 L1201.0 3053.9 L1203.1 3054.2 L1205.1 3054.5 L1207.2 3054.8 L1209.2 3055.0 L1211.3 3055.3 L1213.4 3055.6 L1215.4 3055.9 L1217.5 3056.2 L1219.5 3056.4 L1221.6 3056.7 L1223.7 3057.0 L1225.7 3057.3 L1227.8 3057.5 L1229.8 3057.8 L1231.9 3058.1 L1233.9 3058.3 L1236.0 3058.6 L1238.1 3058.9 L1240.1 3059.1 L1242.2 3059.4 L1244.2 3059.6 L1246.3 3059.9 L1248.4 3060.2 L1250.4 3060.4 L1252.5 3060.7 L1254.5 3060.9 L1256.6 3061.2 L1258.7 3061.4 L1260.7 3061.7 L1262.8 3061.9 L1264.8 3062.2 L1266.9 3062.4 L1269.0 3062.7 L1271.0 3062.9 L1273.1 3063.2 L1275.1 3063.4 L1277.2 3063.6 L1279.3 3063.9 L1281.3 3064.1 L1283.4 3064.4 L1285.4 3064.6 L1287.5 3064.8 L1289.5 3065.1 L1291.6 3065.3 L1293.7 3065.5 L1295.7 3065.8 L1297.8 3066.0 L1299.8 3066.2 L1301.9 3066.4 L1304.0 3066.7 L1306.0 3066.9 L1308.1 3067.1 L1310.1 3067.3 L1312.2 3067.6 L1314.3 3067.8 L1316.3 3068.0 L1318.4 3068.2 L1320.4 3068.4 L1322.5 3068.6 L1324.6 3068.9 L1326.6 3069.1 L1328.7 3069.3 L1330.7 3069.5 L1332.8 3069.7 L1334.9 3069.9 L1336.9 3070.1 L1339.0 3070.3 L1341.0 3070.5 L1343.1 3070.7 L1345.1 3071.0 L1347.2 3071.2 L1349.3 3071.4 L1351.3 3071.6 L1353.4 3071.8 L1355.4 3072.0 L1357.5 3072.2 L1359.6 3072.4 L1361.6 3072.6 L1363.7 3072.8 L1365.7 3072.9 L1367.8 3073.1 L1369.9 3073.3 L1371.9 3073.5 L1374.0 3073.7 L1376.0 3073.9 L1378.1 3074.1 L1380.2 3074.3 L1382.2 3074.5 L1384.3 3074.7 L1386.3 3074.8 L1388.4 3075.0 L1390.5 3075.2 L1392.5 3075.4 L1394.6 3075.6 L1396.6 3075.8 L1398.7 3075.9 L1400.7 3076.1 L1402.8 3076.3 L1404.9 3076.5 L1406.9 3076.6 L1409.0 3076.8 L1411.0 3077.0 L1413.1 3077.2 L1415.2 3077.3 L1417.2 3077.5 L1419.3 3077.7 L1421.3 3077.9 L1423.4 3078.0 L1425.5 3078.2 L1427.5 3078.4 L1429.6 3078.5 L1431.6 3078.7 L1433.7 3078.9 L1435.8 3079.0 L1437.8 3079.2 L1439.9 3079.4 L1441.9 3079.5 L1444.0 3079.7 L1446.1 3079.8 L1448.1 3080.0 L1450.2 3080.2 L1452.2 3080.3 L1454.3 3080.5 L1456.3 3080.6 L1458.4 3080.8 L1460.5 3081.0 L1462.5 3081.1 L1464.6 3081.3 L1466.6 3081.4 L1468.7 3081.6 L1470.8 3081.7 L1472.8 3081.9 L1474.9 3082.0 L1476.9 3082.2 L1479.0 3082.3 L1481.1 3082.5 L1483.1 3082.6 L1485.2 3082.8 L1487.2 3082.9 L1489.3 3083.1 L1491.4 3083.2 L1493.4 3083.3 L1495.5 3083.5 L1497.5 3083.6 L1499.6 3083.8 L1501.7 3083.9 L1503.7 3084.1 L1505.8 3084.2 L1507.8 3084.3 L1509.9 3084.5 L1511.9 3084.6 L1514.0 3084.8 L1516.1 3084.9 L1518.1 3085.0 L1520.2 3085.2 L1522.2 3085.3 L1524.3 3085.4 L1526.4 3085.6 L1528.4 3085.7 L1530.5 3085.8 L1532.5 3086.0 L1534.6 3086.1 L1536.7 3086.2 L1538.7 3086.4 L1540.8 3086.5 L1542.8 3086.6 L1544.9 3086.7 L1547.0 3086.9 L1549.0 3087.0 L1551.1 3087.1 L1553.1 3087.2 L1555.2 3087.4 L1557.2 3087.5 L1559.3 3087.6 L1561.4 3087.7 L1563.4 3087.9 L1565.5 3088.0 L1567.5 3088.1 L1569.6 3088.2 L1571.7 3088.3 L1573.7 3088.5 L1575.8 3088.6 L1577.8 3088.7 L1579.9 3088.8 L1582.0 3088.9 L1584.0 3089.1 L1586.1 3089.2 L1588.1 3089.3 L1590.2 3089.4 L1592.3 3089.5 L1594.3 3089.6 L1596.4 3089.7 L1598.4 3089.9 L1600.5 3090.0 L1602.6 3090.1 L1604.6 3090.2 L1606.7 3090.3 L1608.7 3090.4 L1610.8 3090.5 L1612.8 3090.6 L1614.9 3090.7 L1617.0 3090.8 L1619.0 3091.0 L1621.1 3091.1 L1623.1 3091.2 L1625.2 3091.3 L1627.3 3091.4 L1629.3 3091.5 L1631.4 3091.6 L1633.4 3091.7 L1635.5 3091.8 L1637.6 3091.9 L1639.6 3092.0 L1641.7 3092.1 L1643.7 3092.2 L1645.8 3092.3 L1647.9 3092.4 L1649.9 3092.5 L1652.0 3092.6 L1654.0 3092.7 L1656.1 3092.8 L1658.2 3092.9 L1660.2 3093.0 L1662.3 3093.1 L1664.3 3093.2 L1666.4 3093.3 L1668.4 3093.4 L1670.5 3093.5 L1672.6 3093.6 L1674.6 3093.7 L1676.7 3093.8 L1678.7 3093.9 L1680.8 3094.0 L1682.9 3094.0 L1684.9 3094.1 L1687.0 3094.2 L1689.0 3094.3 L1691.1 3094.4 L1693.2 3094.5 L1695.2 3094.6 L1697.3 3094.7 L1699.3 3094.8 L1701.4 3094.9 L1703.5 3095.0 L1705.5 3095.0 L1707.6 3095.1 L1709.6 3095.2 L1711.7 3095.3 L1713.8 3095.4 L1715.8 3095.5 L1717.9 3095.6 L1719.9 3095.6 L1722.0 3095.7 L1724.0 3095.8 L1726.1 3095.9 L1728.2 3096.0 L1730.2 3096.1 L1732.3 3096.1 L1734.3 3096.2 L1736.4 3096.3 L1738.5 3096.4 L1740.5 3096.5 L1742.6 3096.6 L1744.6 3096.6 L1746.7 3096.7 L1748.8 3096.8 L1750.8 3096.9 L1752.9 3096.9 L1754.9 3097.0 L1757.0 3097.1 L1759.1 3097.2 L1761.1 3097.3 L1763.2 3097.3 L1765.2 3097.4 L1767.3 3097.5 L1769.4 3097.6 L1771.4 3097.6 L1773.5 3097.7 L1775.5 3097.8 L1777.6 3097.9 L1779.6 3097.9 L1781.7 3098.0 L1783.8 3098.1 L1785.8 3098.2 L1787.9 3098.2 L1789.9 3098.3 L1792.0 3098.4 L1794.1 3098.4 L1796.1 3098.5 L1798.2 3098.6 L1800.2 3098.7 L1802.3 3098.7 L1804.4 3098.8 L1806.4 3098.9 L1808.5 3098.9 L1810.5 3099.0 L1812.6 3099.1 L1814.7 3099.1 L1816.7 3099.2 L1818.8 3099.3 L1820.8 3099.3 L1822.9 3099.4 L1825.0 3099.5 L1827.0 3099.5 L1829.1 3099.6 L1831.1 3099.7 L1833.2 3099.7 L1835.2 3099.8 L1837.3 3099.9 L1839.4 3099.9 L1841.4 3100.0 L1843.5 3100.1 L1845.5 3100.1 L1847.6 3100.2 L1849.7 3100.2 L1851.7 3100.3 L1853.8 3100.4 L1855.8 3100.4 L1857.9 3100.5 L1860.0 3100.6 L1862.0 3100.6 L1864.1 3100.7 L1866.1 3100.7 L1868.2 3100.8 L1870.3 3100.9 L1872.3 3100.9 L1874.4 3101.0 L1876.4 3101.0 L1878.5 3101.1 L1880.6 3101.1 L1882.6 3101.2 L1884.7 3101.3 L1886.7 3101.3 L1888.8 3101.4 L1890.8 3101.4 L1892.9 3101.5 L1895.0 3101.5 L1897.0 3101.6 L1899.1 3101.7 L1901.1 3101.7 L1903.2 3101.8 L1905.3 3101.8 L1907.3 3101.9 L1909.4 3101.9 L1911.4 3102.0 L1913.5 3102.0" fill="none" stroke="#00ff00" stroke-width="11" stroke-linejoin="round" stroke-miterlimit="10"/>
<path d="M266.1 2785.8 L268.2 2787.5 L270.2 2789.1 L272.3 2790.8 L274.3 2792.4 L276.4 2794.0 L278.5 2795.6 L280.5 2797.2 L282.6 2798.8 L284.6 2800.4 L286.7 2802.0 L288.8 2803.6 L290.8 2805.1 L292.9 2806.7 L294.9 2808.2 L297.0 2809.7 L299.0 2811.3 L301.1 2812.8 L303.2 2814.3 L305.2 2815.8 L307.3 2817.3 L309.3 2818.8 L311.4 2820.3 L313.5 2821.7 L315.5 2823.2 L317.6 2824.7 L319.6 2826.1 L321.7 2827.6 L323.8 2829.0 L325.8 2830.4 L327.9 2831.9 L329.9 2833.3 L332.0 2834.7 L334.1 2836.1 L336.1 2837.5 L338.2 2838.9 L340.2 2840.3 L342.3 2841.7 L344.4 2843.1 L346.4 2844.4 L348.5 2845.8 L350.5 2847.2 L352.6 2848.5 L354.6 2849.8 L356.7 2851.2 L358.8 2852.5 L360.8 2853.8 L362.9 2855.1 L364.9 2856.4 L367.0 2857.7 L369.1 2859.0 L371.1 2860.3 L373.2 2861.6 L375.2 2862.9 L377.3 2864.1 L379.4 2865.4 L381.4 2866.6 L383.5 2867.9 L385.5 2869.1 L387.6 2870.3 L389.7 2871.5 L391.7 2872.8 L393.8 2874.0 L395.8 2875.2 L397.9 2876.4 L400.0 2877.5 L402.0 2878.7 L404.1 2879.9 L406.1 2881.1 L408.2 2882.2 L410.2 2883.4 L412.3 2884.5 L414.4 2885.7 L416.4 2886.8 L418.5 2887.9 L420.5 2889.1 L422.6 2890.2 L424.7 2891.3 L426.7 2892.4 L428.8 2893.5 L430.8 2894.6 L432.9 2895.7 L435.0 2896.8 L437.0 2897.8 L439.1 2898.9 L441.1 2900.0 L443.2 2901.0 L445.3 2902.1 L447.3 2903.1 L449.4 2904.2 L451.4 2905.2 L453.5 2906.3 L455.6 2907.3 L457.6 2908.3 L459.7 2909.3 L461.7 2910.3 L463.8 2911.3 L465.8 2912.3 L467.9 2913.3 L470.0 2914.3 L472.0 2915.3 L474.1 2916.3 L476.1 2917.2 L478.2 2918.2 L480.3 2919.2 L482.3 2920.1 L484.4 2921.1 L486.4 2922.0 L488.5 2923.0 L490.6 2923.9 L492.6 2924.8 L494.7 2925.8 L496.7 2926.7 L498.8 2927.6 L500.9 2928.5 L502.9 2929.4 L505.0 2930.3 L507.0 2931.2 L509.1 2932.1 L511.2 2933.0 L513.2 2933.9 L515.3 2934.8 L517.3 2935.7 L519.4 2936.5 L521.4 2937.4 L523.5 2938.3 L525.6 2939.1 L527.6 2940.0 L529.7 2940.8 L531.7 2941.7 L533.8 2942.5 L535.9 2943.3 L537.9 2944.2 L540.0 2945.0 L542.0 2945.8 L544.1 2946.6 L546.2 2947.5 L548.2 2948.3 L550.3 2949.1 L552.3 2949.9 L554.4 2950.7 L556.5 2951.5 L558.5 2952.3 L560.6 2953.1 L562.6 2954.0 L564.7 2954.8 L566.8 2955.6 L568.8 2956.3 L570.9 2957.1 L572.9 2957.9 L575.0 2958.7 L577.0 2959.5 L579.1 2960.3 L581.2 2961.1 L583.2 2961.8 L585.3 2962.6 L587.3 2963.4 L589.4 2964.1 L591.5 2964.9 L593.5 2965.7 L595.6 2966.4 L597.6 2967.2 L599.7 2967.9 L601.8 2968.7 L603.8 2969.4 L605.9 2970.1 L607.9 2970.9 L610.0 2971.6 L612.1 2972.3 L614.1 2973.1 L616.2 2973.8 L618.2 2974.5 L620.3 2975.2 L622.4 2975.9 L624.4 2976.6 L626.5 2977.3 L628.5 2978.0 L630.6 2978.7 L632.6 2979.4 L634.7 2980.1 L636.8 2980.7 L638.8 2981.4 L640.9 2982.1 L642.9 2982.7 L645.0 2983.4 L647.1 2984.1 L649.1 2984.7 L651.2 2985.3 L653.2 2986.0 L655.3 2986.6 L657.4 2987.3 L659.4 2987.9 L661.5 2988.5 L663.5 2989.1 L665.6 2989.7 L667.7 2990.3 L669.7 2990.9 L671.8 2991.5 L673.8 2992.1 L675.9 2992.7 L678.0 2993.3 L680.0 2993.9 L682.1 2994.5 L684.1 2995.0 L686.2 2995.6 L688.2 2996.2 L690.3 2996.7 L692.4 2997.3 L694.4 2997.8 L696.5 2998.4 L698.5 2998.9 L700.6 2999.5 L702.7 3000.0 L704.7 3000.5 L706.8 3001.1 L708.8 3001.6 L710.9 3002.1 L713.0 3002.6 L715.0 3003.1 L717.1 3003.7 L719.1 3004.2 L721.2 3004.7 L723.3 3005.2 L725.3 3005.7 L727.4 3006.2 L729.4 3006.7 L731.5 3007.1 L733.5 3007.6 L735.6 3008.1 L737.7 3008.6 L739.7 3009.1 L741.8 3009.5 L743.8 3010.0 L745.9 3010.5 L748.0 3011.0 L750.0 3011.4 L752.1 3011.9 L754.1 3012.3 L756.2 3012.8 L758.3 3013.3 L760.3 3013.7 L762.4 3014.2 L764.4 3014.6 L766.5 3015.0 L768.6 3015.5 L770.6 3015.9 L772.7 3016.4 L774.7 3016.8 L776.8 3017.2 L778.9 3017.7 L780.9 3018.1 L783.0 3018.5 L785.0 3019.0 L787.1 3019.4 L789.1 3019.8 L791.2 3020.2 L793.3 3020.7 L795.3 3021.1 L797.4 3021.5 L799.4 3021.9 L801.5 3022.3 L803.6 3022.7 L805.6 3023.1 L807.7 3023.5 L809.7 3023.9 L811.8 3024.4 L813.9 3024.8 L815.9 3025.2 L818.0 3025.6 L820.0 3026.0 L822.1 3026.4 L824.2 3026.8 L826.2 3027.2 L828.3 3027.5 L830.3 3027.9 L832.4 3028.3 L834.5 3028.7 L836.5 3029.1 L838.6 3029.5 L840.6 3029.9 L842.7 3030.3 L844.7 3030.7 L846.8 3031.0 L848.9 3031.4 L850.9 3031.8 L853.0 3032.2 L855.0 3032.6 L857.1 3032.9 L859.2 3033.3 L861.2 3033.7 L863.3 3034.1 L865.3 3034.5 L867.4 3034.8 L869.5 3035.2 L871.5 3035.6 L873.6 3035.9 L875.6 3036.3 L877.7 3036.7 L879.8 3037.1 L881.8 3037.4 L883.9 3037.8 L885.9 3038.2 L888.0 3038.5 L890.1 3038.9 L892.1 3039.3 L894.2 3039.6 L896.2 3040.0 L898.3 3040.4 L900.3 3040.7 L902.4 3041.1 L904.5 3041.4 L906.5 3041.8 L908.6 3042.2 L910.6 3042.5 L912.7 3042.9 L914.8 3043.2 L916.8 3043.6 L918.9 3043.9 L920.9 3044.3 L923.0 3044.6 L925.1 3045.0 L927.1 3045.3 L929.2 3045.7 L931.2 3046.0 L933.3 3046.4 L935.4 3046.7 L937.4 3047.0 L939.5 3047.4 L941.5 3047.7 L943.6 3048.1 L945.7 3048.4 L947.7 3048.7 L949.8 3049.1 L951.8 3049.4 L953.9 3049.7 L955.9 3050.1 L958.0 3050.4 L960.1 3050.7 L962.1 3051.0 L964.2 3051.4 L966.2 3051.7 L968.3 3052.0 L970.4 3052.3 L972.4 3052.6 L974.5 3053.0 L976.5 3053.3 L978.6 3053.6 L980.7 3053.9 L982.7 3054.2 L984.8 3054.5 L986.8 3054.8 L988.9 3055.1 L991.0 3055.4 L993.0 3055.7 L995.1 3056.0 L997.1 3056.3 L999.2 3056.6 L1001.3 3056.9 L1003.3 3057.2 L1005.4 3057.5 L1007.4 3057.8 L1009.5 3058.1 L1011.5 3058.4 L1013.6 3058.7 L1015.7 3059.0 L1017.7 3059.3 L1019.8 3059.6 L1021.8 3059.8 L1023.9 3060.1 L1026.0 3060.4 L1028.0 3060.7 L1030.1 3061.0 L1032.1 3061.2 L1034.2 3061.5 L1036.3 3061.8 L1038.3 3062.0 L1040.4 3062.3 L1042.4 3062.6 L1044.5 3062.8 L1046.6 3063.1 L1048.6 3063.4 L1050.7 3063.6 L1052.7 3063.9 L1054.8 3064.2 L1056.9 3064.4 L1058.9 3064.7 L1061.0 3064.9 L1063.0 3065.2 L1065.1 3065.4 L1067.1 3065.7 L1069.2 3065.9 L1071.3 3066.2 L1073.3 3066.4 L1075.4 3066.6 L1077.4 3066.9 L1079.5 3067.1 L1081.6 3067.4 L1083.6 3067.6 L1085.7 3067.8 L1087.7 3068.1 L1089.8 3068.3 L1091.9 3068.5 L1093.9 3068.7 L1096.0 3069.0 L1098.0 3069.2 L1100.1 3069.4 L1102.2 3069.6 L1104.2 3069.9 L1106.3 3070.1 L1108.3 3070.3 L1110.4 3070.5 L1112.5 3070.7 L1114.5 3071.0 L1116.6 3071.2 L1118.6 3071.4 L1120.7 3071.6 L1122.7 3071.8 L1124.8 3072.0 L1126.9 3072.2 L1128.9 3072.5 L1131.0 3072.7 L1133.0 3072.9 L1135.1 3073.1 L1137.2 3073.3 L1139.2 3073.5 L1141.3 3073.7 L1143.3 3073.9 L1145.4 3074.1 L1147.5 3074.3 L1149.5 3074.5 L1151.6 3074.7 L1153.6 3074.9 L1155.7 3075.1 L1157.8 3075.3 L1159.8 3075.5 L1161.9 3075.7 L1163.9 3075.9 L1166.0 3076.1 L1168.1 3076.3 L1170.1 3076.5 L1172.2 3076.7 L1174.2 3076.8 L1176.3 3077.0 L1178.3 3077.2 L1180.4 3077.4 L1182.5 3077.6 L1184.5 3077.8 L1186.6 3078.0 L1188.6 3078.2 L1190.7 3078.3 L1192.8 3078.5 L1194.8 3078.7 L1196.9 3078.9 L1198.9 3079.1 L1201.0 3079.2 L1203.1 3079.4 L1205.1 3079.6 L1207.2 3079.8 L1209.2 3079.9 L1211.3 3080.1 L1213.4 3080.3 L1215.4 3080.5 L1217.5 3080.6 L1219.5 3080.8 L1221.6 3081.0 L1223.7 3081.2 L1225.7 3081.3 L1227.8 3081.5 L1229.8 3081.7 L1231.9 3081.8 L1233.9 3082.0 L1236.0 3082.2 L1238.1 3082.3 L1240.1 3082.5 L1242.2 3082.7 L1244.2 3082.8 L1246.3 3083.0 L1248.4 3083.1 L1250.4 3083.3 L1252.5 3083.5 L1254.5 3083.6 L1256.6 3083.8 L1258.7 3083.9 L1260.7 3084.1 L1262.8 3084.3 L1264.8 3084.4 L1266.9 3084.6 L1269.0 3084.7 L1271.0 3084.9 L1273.1 3085.0 L1275.1 3085.2 L1277.2 3085.3 L1279.3 3085.5 L1281.3 3085.6 L1283.4 3085.8 L1285.4 3085.9 L1287.5 3086.1 L1289.5 3086.2 L1291.6 3086.4 L1293.7 3086.5 L1295.7 3086.7 L1297.8 3086.8 L1299.8 3087.0 L1301.9 3087.1 L1304.0 3087.2 L1306.0 3087.4 L1308.1 3087.5 L1310.1 3087.7 L1312.2 3087.8 L1314.3 3088.0 L1316.3 3088.1 L1318.4 3088.2 L1320.4 3088.4 L1322.5 3088.5 L1324.6 3088.6 L1326.6 3088.8 L1328.7 3088.9 L1330.7 3089.1 L1332.8 3089.2 L1334.9 3089.3 L1336.9 3089.5 L1339.0 3089.6 L1341.0 3089.7 L1343.1 3089.9 L1345.1 3090.0 L1347.2 3090.1 L1349.3 3090.2 L1351.3 3090.4 L1353.4 3090.5 L1355.4 3090.6 L1357.5 3090.8 L1359.6 3090.9 L1361.6 3091.0 L1363.7 3091.1 L1365.7 3091.3 L1367.8 3091.4 L1369.9 3091.5 L1371.9 3091.6 L1374.0 3091.8 L1376.0 3091.9 L1378.1 3092.0 L1380.2 3092.1 L1382.2 3092.3 L1384.3 3092.4 L1386.3 3092.5 L1388.4 3092.6 L1390.5 3092.7 L1392.5 3092.9 L1394.6 3093.0 L1396.6 3093.1 L1398.7 3093.2 L1400.7 3093.3 L1402.8 3093.4 L1404.9 3093.6 L1406.9 3093.7 L1409.0 3093.8 L1411.0 3093.9 L1413.1 3094.0 L1415.2 3094.1 L1417.2 3094.2 L1419.3 3094.4 L1421.3 3094.5 L1423.4 3094.6 L1425.5 3094.7 L1427.5 3094.8 L1429.6 3094.9 L1431.6 3095.0 L1433.7 3095.1 L1435.8 3095.2 L1437.8 3095.3 L1439.9 3095.5 L1441.9 3095.6 L1444.0 3095.7 L1446.1 3095.8 L1448.1 3095.9 L1450.2 3096.0 L1452.2 3096.1 L1454.3 3096.2 L1456.3 3096.3 L1458.4 3096.4 L1460.5 3096.5 L1462.5 3096.6 L1464.6 3096.7 L1466.6 3096.8 L1468.7 3096.9 L1470.8 3097.0 L1472.8 3097.1 L1474.9 3097.2 L1476.9 3097.3 L1479.0 3097.4 L1481.1 3097.5 L1483.1 3097.6 L1485.2 3097.7 L1487.2 3097.8 L1489.3 3097.9 L1491.4 3098.0 L1493.4 3098.1 L1495.5 3098.2 L1497.5 3098.3 L1499.6 3098.4 L1501.7 3098.5 L1503.7 3098.6 L1505.8 3098.7 L1507.8 3098.8 L1509.9 3098.9 L1511.9 3099.0 L1514.0 3099.0 L1516.1 3099.1 L1518.1 3099.2 L1520.2 3099.3 L1522.2 3099.4 L1524.3 3099.5 L1526.4 3099.6 L1528.4 3099.7 L1530.5 3099.8 L1532.5 3099.9 L1534.6 3100.0 L1536.7 3100.0 L1538.7 3100.1 L1540.8 3100.2 L1542.8 3100.3 L1544.9 3100.4 L1547.0 3100.5 L1549.0 3100.6 L1551.1 3100.6 L1553.1 3100.7 L1555.2 3100.8 L1557.2 3100.9 L1559.3 3101.0 L1561.4 3101.1 L1563.4 3101.1 L1565.5 3101.2 L1567.5 3101.3 L1569.6 3101.4 L1571.7 3101.5 L1573.7 3101.6 L1575.8 3101.6 L1577.8 3101.7 L1579.9 3101.8 L1582.0 3101.9 L1584.0 3102.0 L1586.1 3102.0 L1588.1 3102.1 L1590.2 3102.2 L1592.3 3102.3 L1594.3 3102.4 L1596.4 3102.4 L1598.4 3102.5 L1600.5 3102.6 L1602.6 3102.7 L1604.6 3102.7 L1606.7 3102.8 L1608.7 3102.9 L1610.8 3103.0 L1612.8 3103.0 L1614.9 3103.1 L1617.0 3103.2 L1619.0 3103.3 L1621.1 3103.3 L1623.1 3103.4 L1625.2 3103.5 L1627.3 3103.5 L1629.3 3103.6 L1631.4 3103.7 L1633.4 3103.8 L1635.5 3103.8 L1637.6 3103.9 L1639.6 3104.0 L1641.7 3104.0 L1643.7 3104.1 L1645.8 3104.2 L1647.9 3104.3 L1649.9 3104.3 L1652.0 3104.4 L1654.0 3104.5 L1656.1 3104.5 L1658.2 3104.6 L1660.2 3104.7 L1662.3 3104.7 L1664.3 3104.8 L1666.4 3104.9 L1668.4 3104.9 L1670.5 3105.0 L1672.6 3105.1 L1674.6 3105.1 L1676.7 3105.2 L1678.7 3105.3 L1680.8 3105.3 L1682.9 3105.4 L1684.9 3105.4 L1687.0 3105.5 L1689.0 3105.6 L1691.1 3105.6 L1693.2 3105.7 L1695.2 3105.8 L1697.3 3105.8 L1699.3 3105.9 L1701.4 3105.9 L1703.5 3106.0 L1705.5 3106.1 L1707.6 3106.1 L1709.6 3106.2 L1711.7 3106.2 L1713.8 3106.3 L1715.8 3106.4 L1717.9 3106.4 L1719.9 3106.5 L1722.0 3106.5 L1724.0 3106.6 L1726.1 3106.7 L1728.2 3106.7 L1730.2 3106.8 L1732.3 3106.8 L1734.3 3106.9 L1736.4 3106.9 L1738.5 3107.0 L1740.5 3107.1 L1742.6 3107.1 L1744.6 3107.2 L1746.7 3107.2 L1748.8 3107.3 L1750.8 3107.3 L1752.9 3107.4 L1754.9 3107.4 L1757.0 3107.5 L1759.1 3107.5 L1761.1 3107.6 L1763.2 3107.7 L1765.2 3107.7 L1767.3 3107.8 L1769.4 3107.8 L1771.4 3107.9 L1773.5 3107.9 L1775.5 3108.0 L1777.6 3108.0 L1779.6 3108.1 L1781.7 3108.1 L1783.8 3108.2 L1785.8 3108.2 L1787.9 3108.3 L1789.9 3108.3 L1792.0 3108.4 L1794.1 3108.4 L1796.1 3108.5 L1798.2 3108.5 L1800.2 3108.6 L1802.3 3108.6 L1804.4 3108.7 L1806.4 3108.7 L1808.5 3108.8 L1810.5 3108.8 L1812.6 3108.9 L1814.7 3108.9 L1816.7 3109.0 L1818.8 3109.0 L1820.8 3109.0 L1822.9 3109.1 L1825.0 3109.1 L1827.0 3109.2 L1829.1 3109.2 L1831.1 3109.3 L1833.2 3109.3 L1835.2 3109.4 L1837.3 3109.4 L1839.4 3109.5 L1841.4 3109.5 L1843.5 3109.5 L1845.5 3109.6 L1847.6 3109.6 L1849.7 3109.7 L1851.7 3109.7 L1853.8 3109.8 L1855.8 3109.8 L1857.9 3109.8 L1860.0 3109.9 L1862.0 3109.9 L1864.1 3110.0 L1866.1 3110.0 L1868.2 3110.1 L1870.3 3110.1 L1872.3 3110.1 L1874.4 3110.2 L1876.4 3110.2 L1878.5 3110.3 L1880.6 3110.3 L1882.6 3110.3 L1884.7 3110.4 L1886.7 3110.4 L1888.8 3110.5 L1890.8 3110.5 L1892.9 3110.5 L1895.0 3110.6 L1897.0 3110.6 L1899.1 3110.7 L1901.1 3110.7 L1903.2 3110.7 L1905.3 3110.8 L1907.3 3110.8 L1909.4 3110.8 L1911.4 3110.9 L1913.5 3110.9" fill="none" stroke="#00ff00" stroke-width="11" stroke-linejoin="round" stroke-miterlimit="10"/>
<path d="M266.1 1926.7 L268.2 1933.4 L270.2 1940.0 L272.3 1946.6 L274.3 1953.2 L276.4 1959.7 L278.5 1966.2 L280.5 1972.6 L282.6 1979.0 L284.6 1985.4 L286.7 1991.7 L288.8 1998.0 L290.8 2004.3 L292.9 2010.5 L294.9 2016.7 L297.0 2022.8 L299.0 2028.9 L301.1 2035.0 L303.2 2041.1 L305.2 2047.1 L307.3 2053.0 L309.3 2059.0 L311.4 2064.9 L313.5 2070.8 L315.5 2076.6 L317.6 2082.4 L319.6 2088.2 L321.7 2093.9 L323.8 2099.6 L325.8 2105.3 L327.9 2110.9 L329.9 2116.5 L332.0 2122.1 L334.1 2127.6 L336.1 2133.1 L338.2 2138.6 L340.2 2144.0 L342.3 2149.4 L344.4 2154.8 L346.4 2160.1 L348.5 2165.4 L350.5 2170.7 L352.6 2176.0 L354.6 2181.2 L356.7 2186.4 L358.8 2191.5 L360.8 2196.7 L362.9 2201.8 L364.9 2206.8 L367.0 2211.9 L369.1 2216.9 L371.1 2221.9 L373.2 2226.8 L375.2 2231.7 L377.3 2236.6 L379.4 2241.5 L381.4 2246.3 L383.5 2251.1 L385.5 2255.9 L387.6 2260.6 L389.7 2265.4 L391.7 2270.1 L393.8 2274.7 L395.8 2279.4 L397.9 2284.0 L400.0 2288.6 L402.0 2293.2 L404.1 2297.7 L406.1 2302.2 L408.2 2306.7 L410.2 2311.2 L412.3 2315.7 L414.4 2320.1 L416.4 2324.5 L418.5 2328.9 L420.5 2333.2 L422.6 2337.6 L424.7 2341.9 L426.7 2346.2 L428.8 2350.4 L430.8 2354.7 L432.9 2358.9 L435.0 2363.0 L437.0 2367.2 L439.1 2371.3 L441.1 2375.4 L443.2 2379.5 L445.3 2383.6 L447.3 2387.6 L449.4 2391.6 L451.4 2395.6 L453.5 2399.5 L455.6 2403.4 L457.6 2407.3 L459.7 2411.2 L461.7 2415.1 L463.8 2418.9 L465.8 2422.6 L467.9 2426.4 L470.0 2430.1 L472.0 2433.8 L474.1 2437.4 L476.1 2441.1 L478.2 2444.7 L480.3 2448.2 L482.3 2451.8 L484.4 2455.3 L486.4 2458.8 L488.5 2462.2 L490.6 2465.7 L492.6 2469.1 L494.7 2472.5 L496.7 2475.9 L498.8 2479.2 L500.9 2482.5 L502.9 2485.8 L505.0 2489.1 L507.0 2492.4 L509.1 2495.7 L511.2 2498.9 L513.2 2502.1 L515.3 2505.3 L517.3 2508.5 L519.4 2511.7 L521.4 2514.8 L523.5 2518.0 L525.6 2521.1 L527.6 2524.2 L529.7 2527.3 L531.7 2530.4 L533.8 2533.5 L535.9 2536.6 L537.9 2539.6 L540.0 2542.7 L542.0 2545.7 L544.1 2548.7 L546.2 2551.8 L548.2 2554.8 L550.3 2557.8 L552.3 2560.8 L554.4 2563.7 L556.5 2566.7 L558.5 2569.7 L560.6 2572.6 L562.6 2575.6 L564.7 2578.5 L566.8 2581.4 L568.8 2584.3 L570.9 2587.2 L572.9 2590.0 L575.0 2592.9 L577.0 2595.7 L579.1 2598.5 L581.2 2601.4 L583.2 2604.2 L585.3 2606.9 L587.3 2609.7 L589.4 2612.5 L591.5 2615.2 L593.5 2618.0 L595.6 2620.7 L597.6 2623.4 L599.7 2626.1 L601.8 2628.8 L603.8 2631.4 L605.9 2634.1 L607.9 2636.7 L610.0 2639.3 L612.1 2641.9 L614.1 2644.5 L616.2 2647.1 L618.2 2649.7 L620.3 2652.2 L622.4 2654.8 L624.4 2657.3 L626.5 2659.8 L628.5 2662.3 L630.6 2664.8 L632.6 2667.3 L634.7 2669.7 L636.8 2672.1 L638.8 2674.6 L640.9 2677.0 L642.9 2679.4 L645.0 2681.8 L647.1 2684.1 L649.1 2686.5 L651.2 2688.8 L653.2 2691.1 L655.3 2693.5 L657.4 2695.8 L659.4 2698.0 L661.5 2700.3 L663.5 2702.6 L665.6 2704.9 L667.7 2707.1 L669.7 2709.4 L671.8 2711.6 L673.8 2713.8 L675.9 2716.0 L678.0 2718.1 L680.0 2720.2 L682.1 2722.3 L684.1 2724.3 L686.2 2726.4 L688.2 2728.4 L690.3 2730.4 L692.4 2732.4 L694.4 2734.5 L696.5 2736.4 L698.5 2738.4 L700.6 2740.4 L702.7 2742.4 L704.7 2744.3 L706.8 2746.2 L708.8 2748.2 L710.9 2750.1 L713.0 2752.0 L715.0 2753.9 L717.1 2755.8 L719.1 2757.6 L721.2 2759.5 L723.3 2761.3 L725.3 2763.2 L727.4 2765.0 L729.4 2766.8 L731.5 2768.6 L733.5 2770.4 L735.6 2772.2 L737.7 2774.0 L739.7 2775.8 L741.8 2777.5 L743.8 2779.3 L745.9 2781.0 L748.0 2782.7 L750.0 2784.5 L752.1 2786.2 L754.1 2787.9 L756.2 2789.6 L758.3 2791.2 L760.3 2792.9 L762.4 2794.6 L764.4 2796.2 L766.5 2797.9 L768.6 2799.5 L770.6 2801.1 L772.7 2802.7 L774.7 2804.4 L776.8 2806.0 L778.9 2807.5 L780.9 2809.1 L783.0 2810.7 L785.0 2812.3 L787.1 2813.8 L789.1 2815.4 L791.2 2816.9 L793.3 2818.4 L795.3 2819.9 L797.4 2821.5 L799.4 2823.0 L801.5 2824.5 L803.6 2825.9 L805.6 2827.4 L807.7 2828.9 L809.7 2830.4 L811.8 2831.8 L813.9 2833.3 L815.9 2834.7 L818.0 2836.1 L820.0 2837.5 L822.1 2839.0 L824.2 2840.4 L826.2 2841.8 L828.3 2843.2 L830.3 2844.5 L832.4 2845.9 L834.5 2847.3 L836.5 2848.6 L838.6 2850.0 L840.6 2851.3 L842.7 2852.7 L844.7 2854.0 L846.8 2855.3 L848.9 2856.7 L850.9 2858.0 L853.0 2859.3 L855.0 2860.6 L857.1 2861.9 L859.2 2863.1 L861.2 2864.4 L863.3 2865.7 L865.3 2866.9 L867.4 2868.2 L869.5 2869.4 L871.5 2870.7 L873.6 2871.9 L875.6 2873.1 L877.7 2874.4 L879.8 2875.6 L881.8 2876.8 L883.9 2878.0 L885.9 2879.2 L888.0 2880.4 L890.1 2881.5 L892.1 2882.7 L894.2 2883.9 L896.2 2885.0 L898.3 2886.2 L900.3 2887.3 L902.4 2888.5 L904.5 2889.6 L906.5 2890.7 L908.6 2891.8 L910.6 2892.9 L912.7 2894.0 L914.8 2895.1 L916.8 2896.2 L918.9 2897.3 L920.9 2898.4 L923.0 2899.4 L925.1 2900.5 L927.1 2901.5 L929.2 2902.6 L931.2 2903.6 L933.3 2904.7 L935.4 2905.7 L937.4 2906.7 L939.5 2907.7 L941.5 2908.7 L943.6 2909.7 L945.7 2910.7 L947.7 2911.7 L949.8 2912.7 L951.8 2913.7 L953.9 2914.7 L955.9 2915.7 L958.0 2916.6 L960.1 2917.6 L962.1 2918.6 L964.2 2919.5 L966.2 2920.5 L968.3 2921.4 L970.4 2922.3 L972.4 2923.3 L974.5 2924.2 L976.5 2925.1 L978.6 2926.0 L980.7 2926.9 L982.7 2927.9 L984.8 2928.8 L986.8 2929.7 L988.9 2930.5 L991.0 2931.4 L993.0 2932.3 L995.1 2933.2 L997.1 2934.1 L999.2 2934.9 L1001.3 2935.8 L1003.3 2936.7 L1005.4 2937.5 L1007.4 2938.4 L1009.5 2939.2 L1011.5 2940.1 L1013.6 2940.9 L1015.7 2941.8 L1017.7 2942.6 L1019.8 2943.4 L1021.8 2944.3 L1023.9 2945.1 L1026.0 2945.9 L1028.0 2946.7 L1030.1 2947.5 L1032.1 2948.3 L1034.2 2949.1 L1036.3 2949.9 L1038.3 2950.7 L1040.4 2951.5 L1042.4 2952.3 L1044.5 2953.1 L1046.6 2953.9 L1048.6 2954.7 L1050.7 2955.4 L1052.7 2956.2 L1054.8 2957.0 L1056.9 2957.8 L1058.9 2958.5 L1061.0 2959.3 L1063.0 2960.0 L1065.1 2960.8 L1067.1 2961.5 L1069.2 2962.3 L1071.3 2963.0 L1073.3 2963.8 L1075.4 2964.5 L1077.4 2965.2 L1079.5 2966.0 L1081.6 2966.7 L1083.6 2967.4 L1085.7 2968.1 L1087.7 2968.9 L1089.8 2969.6 L1091.9 2970.3 L1093.9 2971.0 L1096.0 2971.7 L1098.0 2972.4 L1100.1 2973.1 L1102.2 2973.8 L1104.2 2974.5 L1106.3 2975.2 L1108.3 2975.9 L1110.4 2976.6 L1112.5 2977.3 L1114.5 2977.9 L1116.6 2978.6 L1118.6 2979.3 L1120.7 2980.0 L1122.7 2980.6 L1124.8 2981.3 L1126.9 2982.0 L1128.9 2982.6 L1131.0 2983.3 L1133.0 2983.9 L1135.1 2984.6 L1137.2 2985.2 L1139.2 2985.8 L1141.3 2986.5 L1143.3 2987.1 L1145.4 2987.8 L1147.5 2988.4 L1149.5 2989.0 L1151.6 2989.6 L1153.6 2990.3 L1155.7 2990.9 L1157.8 2991.5 L1159.8 2992.1 L1161.9 2992.7 L1163.9 2993.3 L1166.0 2993.9 L1168.1 2994.5 L1170.1 2995.1 L1172.2 2995.7 L1174.2 2996.3 L1176.3 2996.9 L1178.3 2997.5 L1180.4 2998.1 L1182.5 2998.7 L1184.5 2999.2 L1186.6 2999.8 L1188.6 3000.4 L1190.7 3001.0 L1192.8 3001.5 L1194.8 3002.1 L1196.9 3002.6 L1198.9 3003.2 L1201.0 3003.8 L1203.1 3004.3 L1205.1 3004.9 L1207.2 3005.4 L1209.2 3006.0 L1211.3 3006.5 L1213.4 3007.0 L1215.4 3007.6 L1217.5 3008.1 L1219.5 3008.6 L1221.6 3009.2 L1223.7 3009.7 L1225.7 3010.2 L1227.8 3010.7 L1229.8 3011.3 L1231.9 3011.8 L1233.9 3012.3 L1236.0 3012.8 L1238.1 3013.3 L1240.1 3013.8 L1242.2 3014.3 L1244.2 3014.8 L1246.3 3015.3 L1248.4 3015.8 L1250.4 3016.3 L1252.5 3016.8 L1254.5 3017.3 L1256.6 3017.8 L1258.7 3018.3 L1260.7 3018.7 L1262.8 3019.2 L1264.8 3019.7 L1266.9 3020.2 L1269.0 3020.6 L1271.0 3021.1 L1273.1 3021.6 L1275.1 3022.0 L1277.2 3022.5 L1279.3 3023.0 L1281.3 3023.4 L1283.4 3023.9 L1285.4 3024.3 L1287.5 3024.8 L1289.5 3025.2 L1291.6 3025.7 L1293.7 3026.1 L1295.7 3026.6 L1297.8 3027.0 L1299.8 3027.4 L1301.9 3027.9 L1304.0 3028.3 L1306.0 3028.7 L1308.1 3029.2 L1310.1 3029.6 L1312.2 3030.0 L1314.3 3030.4 L1316.3 3030.8 L1318.4 3031.3 L1320.4 3031.7 L1322.5 3032.1 L1324.6 3032.5 L1326.6 3032.9 L1328.7 3033.3 L1330.7 3033.7 L1332.8 3034.1 L1334.9 3034.5 L1336.9 3034.9 L1339.0 3035.3 L1341.0 3035.7 L1343.1 3036.1 L1345.1 3036.5 L1347.2 3036.9 L1349.3 3037.2 L1351.3 3037.6 L1353.4 3038.0 L1355.4 3038.4 L1357.5 3038.8 L1359.6 3039.1 L1361.6 3039.5 L1363.7 3039.9 L1365.7 3040.3 L1367.8 3040.6 L1369.9 3041.0 L1371.9 3041.3 L1374.0 3041.7 L1376.0 3042.1 L1378.1 3042.4 L1380.2 3042.8 L1382.2 3043.1 L1384.3 3043.5 L1386.3 3043.8 L1388.4 3044.2 L1390.5 3044.5 L1392.5 3044.9 L1394.6 3045.2 L1396.6 3045.5 L1398.7 3045.9 L1400.7 3046.2 L1402.8 3046.6 L1404.9 3046.9 L1406.9 3047.2 L1409.0 3047.5 L1411.0 3047.9 L1413.1 3048.2 L1415.2 3048.5 L1417.2 3048.8 L1419.3 3049.2 L1421.3 3049.5 L1423.4 3049.8 L1425.5 3050.1 L1427.5 3050.4 L1429.6 3050.7 L1431.6 3051.1 L1433.7 3051.4 L1435.8 3051.7 L1437.8 3052.0 L1439.9 3052.3 L1441.9 3052.6 L1444.0 3052.9 L1446.1 3053.2 L1448.1 3053.5 L1450.2 3053.8 L1452.2 3054.1 L1454.3 3054.3 L1456.3 3054.6 L1458.4 3054.9 L1460.5 3055.2 L1462.5 3055.5 L1464.6 3055.8 L1466.6 3056.1 L1468.7 3056.3 L1470.8 3056.6 L1472.8 3056.9 L1474.9 3057.2 L1476.9 3057.4 L1479.0 3057.7 L1481.1 3058.0 L1483.1 3058.3 L1485.2 3058.5 L1487.2 3058.8 L1489.3 3059.1 L1491.4 3059.3 L1493.4 3059.6 L1495.5 3059.8 L1497.5 3060.1 L1499.6 3060.4 L1501.7 3060.6 L1503.7 3060.9 L1505.8 3061.1 L1507.8 3061.4 L1509.9 3061.6 L1511.9 3061.9 L1514.0 3062.1 L1516.1 3062.3 L1518.1 3062.6 L1520.2 3062.8 L1522.2 3063.1 L1524.3 3063.3 L1526.4 3063.5 L1528.4 3063.8 L1530.5 3064.0 L1532.5 3064.2 L1534.6 3064.5 L1536.7 3064.7 L1538.7 3064.9 L1540.8 3065.1 L1542.8 3065.4 L1544.9 3065.6 L1547.0 3065.8 L1549.0 3066.0 L1551.1 3066.2 L1553.1 3066.4 L1555.2 3066.6 L1557.2 3066.9 L1559.3 3067.1 L1561.4 3067.3 L1563.4 3067.5 L1565.5 3067.7 L1567.5 3067.9 L1569.6 3068.1 L1571.7 3068.3 L1573.7 3068.5 L1575.8 3068.7 L1577.8 3068.9 L1579.9 3069.1 L1582.0 3069.3 L1584.0 3069.5 L1586.1 3069.7 L1588.1 3069.9 L1590.2 3070.1 L1592.3 3070.3 L1594.3 3070.5 L1596.4 3070.6 L1598.4 3070.8 L1600.5 3071.0 L1602.6 3071.2 L1604.6 3071.4 L1606.7 3071.6 L1608.7 3071.8 L1610.8 3071.9 L1612.8 3072.1 L1614.9 3072.3 L1617.0 3072.5 L1619.0 3072.7 L1621.1 3072.8 L1623.1 3073.0 L1625.2 3073.2 L1627.3 3073.4 L1629.3 3073.6 L1631.4 3073.7 L1633.4 3073.9 L1635.5 3074.1 L1637.6 3074.2 L1639.6 3074.4 L1641.7 3074.6 L1643.7 3074.8 L1645.8 3074.9 L1647.9 3075.1 L1649.9 3075.3 L1652.0 3075.4 L1654.0 3075.6 L1656.1 3075.8 L1658.2 3075.9 L1660.2 3076.1 L1662.3 3076.3 L1664.3 3076.4 L1666.4 3076.6 L1668.4 3076.8 L1670.5 3076.9 L1672.6 3077.1 L1674.6 3077.3 L1676.7 3077.4 L1678.7 3077.6 L1680.8 3077.7 L1682.9 3077.9 L1684.9 3078.1 L1687.0 3078.2 L1689.0 3078.4 L1691.1 3078.5 L1693.2 3078.7 L1695.2 3078.8 L1697.3 3079.0 L1699.3 3079.2 L1701.4 3079.3 L1703.5 3079.5 L1705.5 3079.6 L1707.6 3079.8 L1709.6 3079.9 L1711.7 3080.1 L1713.8 3080.3 L1715.8 3080.4 L1717.9 3080.6 L1719.9 3080.7 L1722.0 3080.9 L1724.0 3081.0 L1726.1 3081.2 L1728.2 3081.3 L1730.2 3081.5 L1732.3 3081.6 L1734.3 3081.8 L1736.4 3081.9 L1738.5 3082.1 L1740.5 3082.2 L1742.6 3082.4 L1744.6 3082.5 L1746.7 3082.7 L1748.8 3082.8 L1750.8 3083.0 L1752.9 3083.1 L1754.9 3083.3 L1757.0 3083.4 L1759.1 3083.6 L1761.1 3083.7 L1763.2 3083.9 L1765.2 3084.0 L1767.3 3084.2 L1769.4 3084.3 L1771.4 3084.4 L1773.5 3084.6 L1775.5 3084.7 L1777.6 3084.9 L1779.6 3085.0 L1781.7 3085.1 L1783.8 3085.3 L1785.8 3085.4 L1787.9 3085.6 L1789.9 3085.7 L1792.0 3085.8 L1794.1 3086.0 L1796.1 3086.1 L1798.2 3086.3 L1800.2 3086.4 L1802.3 3086.5 L1804.4 3086.7 L1806.4 3086.8 L1808.5 3086.9 L1810.5 3087.1 L1812.6 3087.2 L1814.7 3087.3 L1816.7 3087.5 L1818.8 3087.6 L1820.8 3087.7 L1822.9 3087.9 L1825.0 3088.0 L1827.0 3088.1 L1829.1 3088.2 L1831.1 3088.4 L1833.2 3088.5 L1835.2 3088.6 L1837.3 3088.8 L1839.4 3088.9 L1841.4 3089.0 L1843.5 3089.1 L1845.5 3089.3 L1847.6 3089.4 L1849.7 3089.5 L1851.7 3089.6 L1853.8 3089.8 L1855.8 3089.9 L1857.9 3090.0 L1860.0 3090.1 L1862.0 3090.2 L1864.1 3090.4 L1866.1 3090.5 L1868.2 3090.6 L1870.3 3090.7 L1872.3 3090.9 L1874.4 3091.0 L1876.4 3091.1 L1878.5 3091.2 L1880.6 3091.3 L1882.6 3091.4 L1884.7 3091.6 L1886.7 3091.7 L1888.8 3091.8 L1890.8 3091.9 L1892.9 3092.0 L1895.0 3092.1 L1897.0 3092.3 L1899.1 3092.4 L1901.1 3092.5 L1903.2 3092.6 L1905.3 3092.7 L1907.3 3092.8 L1909.4 3092.9 L1911.4 3093.0 L1913.5 3093.2" fill="none" stroke="#ff0000" stroke-width="11" stroke-linejoin="round" stroke-miterlimit="10" stroke-dasharray="31 7 16 7"/>
<path d="M266.1 2514.4 L268.2 2517.4 L270.2 2520.4 L272.3 2523.4 L274.3 2526.4 L276.4 2529.4 L278.5 2532.4 L280.5 2535.3 L282.6 2538.3 L284.6 2541.2 L286.7 2544.1 L288.8 2547.0 L290.8 2549.9 L292.9 2552.8 L294.9 2555.7 L297.0 2558.5 L299.0 2561.4 L301.1 2564.2 L303.2 2567.0 L305.2 2569.8 L307.3 2572.6 L309.3 2575.4 L311.4 2578.2 L313.5 2580.9 L315.5 2583.7 L317.6 2586.4 L319.6 2589.1 L321.7 2591.8 L323.8 2594.5 L325.8 2597.2 L327.9 2599.9 L329.9 2602.5 L332.0 2605.2 L334.1 2607.8 L336.1 2610.5 L338.2 2613.1 L340.2 2615.7 L342.3 2618.3 L344.4 2620.8 L346.4 2623.4 L348.5 2625.9 L350.5 2628.5 L352.6 2631.0 L354.6 2633.5 L356.7 2636.0 L358.8 2638.5 L360.8 2641.0 L362.9 2643.5 L364.9 2645.9 L367.0 2648.4 L369.1 2650.8 L371.1 2653.2 L373.2 2655.6 L375.2 2658.0 L377.3 2660.4 L379.4 2662.8 L381.4 2665.1 L383.5 2667.5 L385.5 2669.8 L387.6 2672.1 L389.7 2674.5 L391.7 2676.8 L393.8 2679.1 L395.8 2681.3 L397.9 2683.6 L400.0 2685.9 L402.0 2688.1 L404.1 2690.3 L406.1 2692.6 L408.2 2694.8 L410.2 2697.0 L412.3 2699.2 L414.4 2701.4 L416.4 2703.5 L418.5 2705.7 L420.5 2707.9 L422.6 2710.0 L424.7 2712.2 L426.7 2714.4 L428.8 2716.5 L430.8 2718.7 L432.9 2720.8 L435.0 2722.9 L437.0 2725.1 L439.1 2727.2 L441.1 2729.3 L443.2 2731.4 L445.3 2733.5 L447.3 2735.6 L449.4 2737.7 L451.4 2739.8 L453.5 2741.8 L455.6 2743.9 L457.6 2745.9 L459.7 2748.0 L461.7 2750.0 L463.8 2752.0 L465.8 2754.1 L467.9 2756.1 L470.0 2758.1 L472.0 2760.1 L474.1 2762.0 L476.1 2764.0 L478.2 2766.0 L480.3 2767.9 L482.3 2769.8 L484.4 2771.8 L486.4 2773.7 L488.5 2775.6 L490.6 2777.5 L492.6 2779.4 L494.7 2781.2 L496.7 2783.1 L498.8 2785.0 L500.9 2786.8 L502.9 2788.6 L505.0 2790.4 L507.0 2792.2 L509.1 2794.0 L511.2 2795.8 L513.2 2797.6 L515.3 2799.3 L517.3 2801.1 L519.4 2802.8 L521.4 2804.5 L523.5 2806.2 L525.6 2807.9 L527.6 2809.6 L529.7 2811.3 L531.7 2812.9 L533.8 2814.6 L535.9 2816.2 L537.9 2817.8 L540.0 2819.4 L542.0 2821.0 L544.1 2822.6 L546.2 2824.1 L548.2 2825.7 L550.3 2827.2 L552.3 2828.7 L554.4 2830.2 L556.5 2831.7 L558.5 2833.2 L560.6 2834.7 L562.6 2836.1 L564.7 2837.6 L566.8 2839.0 L568.8 2840.4 L570.9 2841.8 L572.9 2843.2 L575.0 2844.6 L577.0 2845.9 L579.1 2847.2 L581.2 2848.6 L583.2 2849.9 L585.3 2851.1 L587.3 2852.4 L589.4 2853.6 L591.5 2854.9 L593.5 2856.1 L595.6 2857.3 L597.6 2858.5 L599.7 2859.7 L601.8 2860.9 L603.8 2862.0 L605.9 2863.2 L607.9 2864.4 L610.0 2865.5 L612.1 2866.6 L614.1 2867.7 L616.2 2868.8 L618.2 2870.0 L620.3 2871.1 L622.4 2872.1 L624.4 2873.2 L626.5 2874.3 L628.5 2875.4 L630.6 2876.5 L632.6 2877.5 L634.7 2878.6 L636.8 2879.6 L638.8 2880.7 L640.9 2881.8 L642.9 2882.8 L645.0 2883.9 L647.1 2884.9 L649.1 2886.0 L651.2 2887.0 L653.2 2888.1 L655.3 2889.1 L657.4 2890.2 L659.4 2891.2 L661.5 2892.3 L663.5 2893.3 L665.6 2894.4 L667.7 2895.4 L669.7 2896.5 L671.8 2897.5 L673.8 2898.6 L675.9 2899.7 L678.0 2900.7 L680.0 2901.8 L682.1 2902.9 L684.1 2903.9 L686.2 2905.0 L688.2 2906.0 L690.3 2907.1 L692.4 2908.1 L694.4 2909.1 L696.5 2910.2 L698.5 2911.2 L700.6 2912.2 L702.7 2913.2 L704.7 2914.2 L706.8 2915.2 L708.8 2916.2 L710.9 2917.2 L713.0 2918.2 L715.0 2919.2 L717.1 2920.2 L719.1 2921.2 L721.2 2922.2 L723.3 2923.1 L725.3 2924.1 L727.4 2925.1 L729.4 2926.0 L731.5 2927.0 L733.5 2927.9 L735.6 2928.8 L737.7 2929.8 L739.7 2930.7 L741.8 2931.6 L743.8 2932.6 L745.9 2933.5 L748.0 2934.4 L750.0 2935.3 L752.1 2936.2 L754.1 2937.1 L756.2 2938.0 L758.3 2938.9 L760.3 2939.8 L762.4 2940.7 L764.4 2941.5 L766.5 2942.4 L768.6 2943.3 L770.6 2944.1 L772.7 2945.0 L774.7 2945.9 L776.8 2946.7 L778.9 2947.5 L780.9 2948.4 L783.0 2949.2 L785.0 2950.1 L787.1 2950.9 L789.1 2951.7 L791.2 2952.5 L793.3 2953.3 L795.3 2954.1 L797.4 2954.9 L799.4 2955.7 L801.5 2956.5 L803.6 2957.3 L805.6 2958.1 L807.7 2958.9 L809.7 2959.7 L811.8 2960.5 L813.9 2961.2 L815.9 2962.0 L818.0 2962.8 L820.0 2963.5 L822.1 2964.3 L824.2 2965.0 L826.2 2965.8 L828.3 2966.5 L830.3 2967.2 L832.4 2968.0 L834.5 2968.7 L836.5 2969.4 L838.6 2970.1 L840.6 2970.9 L842.7 2971.6 L844.7 2972.3 L846.8 2973.0 L848.9 2973.7 L850.9 2974.4 L853.0 2975.1 L855.0 2975.7 L857.1 2976.4 L859.2 2977.1 L861.2 2977.8 L863.3 2978.4 L865.3 2979.1 L867.4 2979.8 L869.5 2980.4 L871.5 2981.1 L873.6 2981.7 L875.6 2982.4 L877.7 2983.0 L879.8 2983.7 L881.8 2984.3 L883.9 2984.9 L885.9 2985.6 L888.0 2986.2 L890.1 2986.8 L892.1 2987.4 L894.2 2988.0 L896.2 2988.6 L898.3 2989.3 L900.3 2989.9 L902.4 2990.5 L904.5 2991.1 L906.5 2991.6 L908.6 2992.2 L910.6 2992.8 L912.7 2993.4 L914.8 2994.0 L916.8 2994.6 L918.9 2995.1 L920.9 2995.7 L923.0 2996.3 L925.1 2996.9 L927.1 2997.4 L929.2 2998.0 L931.2 2998.5 L933.3 2999.1 L935.4 2999.6 L937.4 3000.2 L939.5 3000.7 L941.5 3001.3 L943.6 3001.8 L945.7 3002.4 L947.7 3002.9 L949.8 3003.4 L951.8 3004.0 L953.9 3004.5 L955.9 3005.0 L958.0 3005.5 L960.1 3006.0 L962.1 3006.6 L964.2 3007.1 L966.2 3007.6 L968.3 3008.1 L970.4 3008.6 L972.4 3009.1 L974.5 3009.6 L976.5 3010.1 L978.6 3010.6 L980.7 3011.1 L982.7 3011.6 L984.8 3012.1 L986.8 3012.6 L988.9 3013.0 L991.0 3013.5 L993.0 3014.0 L995.1 3014.5 L997.1 3014.9 L999.2 3015.4 L1001.3 3015.9 L1003.3 3016.4 L1005.4 3016.8 L1007.4 3017.3 L1009.5 3017.7 L1011.5 3018.2 L1013.6 3018.7 L1015.7 3019.1 L1017.7 3019.6 L1019.8 3020.0 L1021.8 3020.4 L1023.9 3020.9 L1026.0 3021.3 L1028.0 3021.8 L1030.1 3022.2 L1032.1 3022.6 L1034.2 3023.1 L1036.3 3023.5 L1038.3 3023.9 L1040.4 3024.4 L1042.4 3024.8 L1044.5 3025.2 L1046.6 3025.6 L1048.6 3026.1 L1050.7 3026.5 L1052.7 3026.9 L1054.8 3027.3 L1056.9 3027.7 L1058.9 3028.1 L1061.0 3028.5 L1063.0 3028.9 L1065.1 3029.3 L1067.1 3029.7 L1069.2 3030.1 L1071.3 3030.5 L1073.3 3030.9 L1075.4 3031.3 L1077.4 3031.7 L1079.5 3032.1 L1081.6 3032.5 L1083.6 3032.9 L1085.7 3033.3 L1087.7 3033.7 L1089.8 3034.0 L1091.9 3034.4 L1093.9 3034.8 L1096.0 3035.2 L1098.0 3035.5 L1100.1 3035.9 L1102.2 3036.3 L1104.2 3036.7 L1106.3 3037.0 L1108.3 3037.4 L1110.4 3037.7 L1112.5 3038.1 L1114.5 3038.5 L1116.6 3038.8 L1118.6 3039.2 L1120.7 3039.5 L1122.7 3039.9 L1124.8 3040.2 L1126.9 3040.6 L1128.9 3040.9 L1131.0 3041.3 L1133.0 3041.6 L1135.1 3042.0 L1137.2 3042.3 L1139.2 3042.6 L1141.3 3043.0 L1143.3 3043.3 L1145.4 3043.7 L1147.5 3044.0 L1149.5 3044.3 L1151.6 3044.6 L1153.6 3045.0 L1155.7 3045.3 L1157.8 3045.6 L1159.8 3045.9 L1161.9 3046.3 L1163.9 3046.6 L1166.0 3046.9 L1168.1 3047.2 L1170.1 3047.5 L1172.2 3047.9 L1174.2 3048.2 L1176.3 3048.5 L1178.3 3048.8 L1180.4 3049.1 L1182.5 3049.4 L1184.5 3049.7 L1186.6 3050.0 L1188.6 3050.3 L1190.7 3050.6 L1192.8 3050.9 L1194.8 3051.2 L1196.9 3051.5 L1198.9 3051.8 L1201.0 3052.1 L1203.1 3052.4 L1205.1 3052.7 L1207.2 3053.0 L1209.2 3053.2 L1211.3 3053.5 L1213.4 3053.8 L1215.4 3054.1 L1217.5 3054.4 L1219.5 3054.7 L1221.6 3054.9 L1223.7 3055.2 L1225.7 3055.5 L1227.8 3055.8 L1229.8 3056.0 L1231.9 3056.3 L1233.9 3056.6 L1236.0 3056.9 L1238.1 3057.1 L1240.1 3057.4 L1242.2 3057.7 L1244.2 3057.9 L1246.3 3058.2 L1248.4 3058.4 L1250.4 3058.7 L1252.5 3059.0 L1254.5 3059.2 L1256.6 3059.5 L1258.7 3059.7 L1260.7 3060.0 L1262.8 3060.2 L1264.8 3060.5 L1266.9 3060.8 L1269.0 3061.0 L1271.0 3061.3 L1273.1 3061.5 L1275.1 3061.7 L1277.2 3062.0 L1279.3 3062.2 L1281.3 3062.5 L1283.4 3062.7 L1285.4 3063.0 L1287.5 3063.2 L1289.5 3063.4 L1291.6 3063.7 L1293.7 3063.9 L1295.7 3064.1 L1297.8 3064.4 L1299.8 3064.6 L1301.9 3064.8 L1304.0 3065.1 L1306.0 3065.3 L1308.1 3065.5 L1310.1 3065.8 L1312.2 3066.0 L1314.3 3066.2 L1316.3 3066.4 L1318.4 3066.6 L1320.4 3066.9 L1322.5 3067.1 L1324.6 3067.3 L1326.6 3067.5 L1328.7 3067.7 L1330.7 3068.0 L1332.8 3068.2 L1334.9 3068.4 L1336.9 3068.6 L1339.0 3068.8 L1341.0 3069.0 L1343.1 3069.2 L1345.1 3069.4 L1347.2 3069.7 L1349.3 3069.9 L1351.3 3070.1 L1353.4 3070.3 L1355.4 3070.5 L1357.5 3070.7 L1359.6 3070.9 L1361.6 3071.1 L1363.7 3071.3 L1365.7 3071.5 L1367.8 3071.7 L1369.9 3071.9 L1371.9 3072.1 L1374.0 3072.3 L1376.0 3072.5 L1378.1 3072.7 L1380.2 3072.8 L1382.2 3073.0 L1384.3 3073.2 L1386.3 3073.4 L1388.4 3073.6 L1390.5 3073.8 L1392.5 3074.0 L1394.6 3074.2 L1396.6 3074.4 L1398.7 3074.5 L1400.7 3074.7 L1402.8 3074.9 L1404.9 3075.1 L1406.9 3075.3 L1409.0 3075.4 L1411.0 3075.6 L1413.1 3075.8 L1415.2 3076.0 L1417.2 3076.2 L1419.3 3076.3 L1421.3 3076.5 L1423.4 3076.7 L1425.5 3076.9 L1427.5 3077.0 L1429.6 3077.2 L1431.6 3077.4 L1433.7 3077.5 L1435.8 3077.7 L1437.8 3077.9 L1439.9 3078.0 L1441.9 3078.2 L1444.0 3078.4 L1446.1 3078.5 L1448.1 3078.7 L1450.2 3078.9 L1452.2 3079.0 L1454.3 3079.2 L1456.3 3079.4 L1458.4 3079.5 L1460.5 3079.7 L1462.5 3079.8 L1464.6 3080.0 L1466.6 3080.1 L1468.7 3080.3 L1470.8 3080.5 L1472.8 3080.6 L1474.9 3080.8 L1476.9 3080.9 L1479.0 3081.1 L1481.1 3081.2 L1483.1 3081.4 L1485.2 3081.5 L1487.2 3081.7 L1489.3 3081.8 L1491.4 3082.0 L1493.4 3082.1 L1495.5 3082.3 L1497.5 3082.4 L1499.6 3082.6 L1501.7 3082.7 L1503.7 3082.9 L1505.8 3083.0 L1507.8 3083.1 L1509.9 3083.3 L1511.9 3083.4 L1514.0 3083.6 L1516.1 3083.7 L1518.1 3083.8 L1520.2 3084.0 L1522.2 3084.1 L1524.3 3084.3 L1526.4 3084.4 L1528.4 3084.5 L1530.5 3084.7 L1532.5 3084.8 L1534.6 3084.9 L1536.7 3085.1 L1538.7 3085.2 L1540.8 3085.3 L1542.8 3085.5 L1544.9 3085.6 L1547.0 3085.7 L1549.0 3085.9 L1551.1 3086.0 L1553.1 3086.1 L1555.2 3086.2 L1557.2 3086.4 L1559.3 3086.5 L1561.4 3086.6 L1563.4 3086.8 L1565.5 3086.9 L1567.5 3087.0 L1569.6 3087.1 L1571.7 3087.3 L1573.7 3087.4 L1575.8 3087.5 L1577.8 3087.6 L1579.9 3087.7 L1582.0 3087.9 L1584.0 3088.0 L1586.1 3088.1 L1588.1 3088.2 L1590.2 3088.3 L1592.3 3088.5 L1594.3 3088.6 L1596.4 3088.7 L1598.4 3088.8 L1600.5 3088.9 L1602.6 3089.0 L1604.6 3089.1 L1606.7 3089.3 L1608.7 3089.4 L1610.8 3089.5 L1612.8 3089.6 L1614.9 3089.7 L1617.0 3089.8 L1619.0 3089.9 L1621.1 3090.0 L1623.1 3090.2 L1625.2 3090.3 L1627.3 3090.4 L1629.3 3090.5 L1631.4 3090.6 L1633.4 3090.7 L1635.5 3090.8 L1637.6 3090.9 L1639.6 3091.0 L1641.7 3091.1 L1643.7 3091.2 L1645.8 3091.3 L1647.9 3091.4 L1649.9 3091.5 L1652.0 3091.6 L1654.0 3091.7 L1656.1 3091.8 L1658.2 3091.9 L1660.2 3092.0 L1662.3 3092.1 L1664.3 3092.2 L1666.4 3092.3 L1668.4 3092.4 L1670.5 3092.5 L1672.6 3092.6 L1674.6 3092.7 L1676.7 3092.8 L1678.7 3092.9 L1680.8 3093.0 L1682.9 3093.1 L1684.9 3093.2 L1687.0 3093.3 L1689.0 3093.4 L1691.1 3093.5 L1693.2 3093.6 L1695.2 3093.7 L1697.3 3093.8 L1699.3 3093.9 L1701.4 3094.0 L1703.5 3094.0 L1705.5 3094.1 L1707.6 3094.2 L1709.6 3094.3 L1711.7 3094.4 L1713.8 3094.5 L1715.8 3094.6 L1717.9 3094.7 L1719.9 3094.8 L1722.0 3094.8 L1724.0 3094.9 L1726.1 3095.0 L1728.2 3095.1 L1730.2 3095.2 L1732.3 3095.3 L1734.3 3095.4 L1736.4 3095.4 L1738.5 3095.5 L1740.5 3095.6 L1742.6 3095.7 L1744.6 3095.8 L1746.7 3095.9 L1748.8 3095.9 L1750.8 3096.0 L1752.9 3096.1 L1754.9 3096.2 L1757.0 3096.3 L1759.1 3096.3 L1761.1 3096.4 L1763.2 3096.5 L1765.2 3096.6 L1767.3 3096.7 L1769.4 3096.7 L1771.4 3096.8 L1773.5 3096.9 L1775.5 3097.0 L1777.6 3097.0 L1779.6 3097.1 L1781.7 3097.2 L1783.8 3097.3 L1785.8 3097.3 L1787.9 3097.4 L1789.9 3097.5 L1792.0 3097.6 L1794.1 3097.6 L1796.1 3097.7 L1798.2 3097.8 L1800.2 3097.9 L1802.3 3097.9 L1804.4 3098.0 L1806.4 3098.1 L1808.5 3098.1 L1810.5 3098.2 L1812.6 3098.3 L1814.7 3098.4 L1816.7 3098.4 L1818.8 3098.5 L1820.8 3098.6 L1822.9 3098.6 L1825.0 3098.7 L1827.0 3098.8 L1829.1 3098.8 L1831.1 3098.9 L1833.2 3099.0 L1835.2 3099.0 L1837.3 3099.1 L1839.4 3099.2 L1841.4 3099.2 L1843.5 3099.3 L1845.5 3099.4 L1847.6 3099.4 L1849.7 3099.5 L1851.7 3099.6 L1853.8 3099.6 L1855.8 3099.7 L1857.9 3099.7 L1860.0 3099.8 L1862.0 3099.9 L1864.1 3099.9 L1866.1 3100.0 L1868.2 3100.1 L1870.3 3100.1 L1872.3 3100.2 L1874.4 3100.2 L1876.4 3100.3 L1878.5 3100.4 L1880.6 3100.4 L1882.6 3100.5 L1884.7 3100.5 L1886.7 3100.6 L1888.8 3100.7 L1890.8 3100.7 L1892.9 3100.8 L1895.0 3100.8 L1897.0 3100.9 L1899.1 3100.9 L1901.1 3101.0 L1903.2 3101.1 L1905.3 3101.1 L1907.3 3101.2 L1909.4 3101.2 L1911.4 3101.3 L1913.5 3101.3" fill="none" stroke="#ff0000" stroke-width="11" stroke-linejoin="round" stroke-miterlimit="10" stroke-dasharray="31 7 16 7"/>
<path d="M266.1 2816.4 L268.2 2818.1 L270.2 2819.8 L272.3 2821.4 L274.3 2823.1 L276.4 2824.8 L278.5 2826.4 L280.5 2828.0 L282.6 2829.6 L284.6 2831.2 L286.7 2832.8 L288.8 2834.4 L290.8 2835.9 L292.9 2837.5 L294.9 2839.0 L297.0 2840.5 L299.0 2842.0 L301.1 2843.4 L303.2 2844.9 L305.2 2846.3 L307.3 2847.8 L309.3 2849.2 L311.4 2850.6 L313.5 2852.0 L315.5 2853.4 L317.6 2854.7 L319.6 2856.1 L321.7 2857.4 L323.8 2858.8 L325.8 2860.1 L327.9 2861.4 L329.9 2862.7 L332.0 2864.0 L334.1 2865.3 L336.1 2866.5 L338.2 2867.8 L340.2 2869.0 L342.3 2870.3 L344.4 2871.5 L346.4 2872.7 L348.5 2873.9 L350.5 2875.1 L352.6 2876.3 L354.6 2877.5 L356.7 2878.7 L358.8 2879.8 L360.8 2881.0 L362.9 2882.2 L364.9 2883.3 L367.0 2884.4 L369.1 2885.5 L371.1 2886.7 L373.2 2887.8 L375.2 2888.9 L377.3 2889.9 L379.4 2891.0 L381.4 2892.1 L383.5 2893.2 L385.5 2894.2 L387.6 2895.3 L389.7 2896.3 L391.7 2897.4 L393.8 2898.4 L395.8 2899.4 L397.9 2900.4 L400.0 2901.5 L402.0 2902.5 L404.1 2903.5 L406.1 2904.4 L408.2 2905.4 L410.2 2906.4 L412.3 2907.4 L414.4 2908.4 L416.4 2909.3 L418.5 2910.3 L420.5 2911.2 L422.6 2912.2 L424.7 2913.1 L426.7 2914.0 L428.8 2915.0 L430.8 2915.9 L432.9 2916.8 L435.0 2917.7 L437.0 2918.6 L439.1 2919.5 L441.1 2920.4 L443.2 2921.3 L445.3 2922.2 L447.3 2923.1 L449.4 2924.0 L451.4 2924.9 L453.5 2925.7 L455.6 2926.6 L457.6 2927.5 L459.7 2928.3 L461.7 2929.2 L463.8 2930.0 L465.8 2930.9 L467.9 2931.7 L470.0 2932.6 L472.0 2933.4 L474.1 2934.2 L476.1 2935.1 L478.2 2935.9 L480.3 2936.7 L482.3 2937.5 L484.4 2938.3 L486.4 2939.2 L488.5 2940.0 L490.6 2940.8 L492.6 2941.6 L494.7 2942.4 L496.7 2943.2 L498.8 2943.9 L500.9 2944.7 L502.9 2945.5 L505.0 2946.3 L507.0 2947.1 L509.1 2947.9 L511.2 2948.6 L513.2 2949.4 L515.3 2950.2 L517.3 2950.9 L519.4 2951.7 L521.4 2952.5 L523.5 2953.2 L525.6 2954.0 L527.6 2954.7 L529.7 2955.5 L531.7 2956.2 L533.8 2957.0 L535.9 2957.7 L537.9 2958.5 L540.0 2959.2 L542.0 2959.9 L544.1 2960.7 L546.2 2961.4 L548.2 2962.2 L550.3 2962.9 L552.3 2963.6 L554.4 2964.4 L556.5 2965.1 L558.5 2965.8 L560.6 2966.6 L562.6 2967.3 L564.7 2968.0 L566.8 2968.8 L568.8 2969.5 L570.9 2970.2 L572.9 2970.9 L575.0 2971.7 L577.0 2972.4 L579.1 2973.1 L581.2 2973.8 L583.2 2974.5 L585.3 2975.2 L587.3 2975.9 L589.4 2976.7 L591.5 2977.4 L593.5 2978.1 L595.6 2978.8 L597.6 2979.5 L599.7 2980.1 L601.8 2980.8 L603.8 2981.5 L605.9 2982.2 L607.9 2982.9 L610.0 2983.6 L612.1 2984.2 L614.1 2984.9 L616.2 2985.6 L618.2 2986.3 L620.3 2986.9 L622.4 2987.6 L624.4 2988.2 L626.5 2988.9 L628.5 2989.5 L630.6 2990.2 L632.6 2990.8 L634.7 2991.5 L636.8 2992.1 L638.8 2992.7 L640.9 2993.3 L642.9 2994.0 L645.0 2994.6 L647.1 2995.2 L649.1 2995.8 L651.2 2996.4 L653.2 2997.0 L655.3 2997.6 L657.4 2998.2 L659.4 2998.8 L661.5 2999.4 L663.5 3000.0 L665.6 3000.5 L667.7 3001.1 L669.7 3001.7 L671.8 3002.2 L673.8 3002.8 L675.9 3003.4 L678.0 3003.9 L680.0 3004.4 L682.1 3005.0 L684.1 3005.5 L686.2 3006.1 L688.2 3006.6 L690.3 3007.1 L692.4 3007.7 L694.4 3008.2 L696.5 3008.7 L698.5 3009.3 L700.6 3009.8 L702.7 3010.3 L704.7 3010.8 L706.8 3011.3 L708.8 3011.8 L710.9 3012.3 L713.0 3012.8 L715.0 3013.4 L717.1 3013.9 L719.1 3014.4 L721.2 3014.9 L723.3 3015.3 L725.3 3015.8 L727.4 3016.3 L729.4 3016.8 L731.5 3017.3 L733.5 3017.8 L735.6 3018.3 L737.7 3018.7 L739.7 3019.2 L741.8 3019.7 L743.8 3020.2 L745.9 3020.6 L748.0 3021.1 L750.0 3021.6 L752.1 3022.0 L754.1 3022.5 L756.2 3022.9 L758.3 3023.4 L760.3 3023.8 L762.4 3024.3 L764.4 3024.7 L766.5 3025.2 L768.6 3025.6 L770.6 3026.1 L772.7 3026.5 L774.7 3026.9 L776.8 3027.4 L778.9 3027.8 L780.9 3028.2 L783.0 3028.7 L785.0 3029.1 L787.1 3029.5 L789.1 3029.9 L791.2 3030.4 L793.3 3030.8 L795.3 3031.2 L797.4 3031.6 L799.4 3032.0 L801.5 3032.4 L803.6 3032.8 L805.6 3033.2 L807.7 3033.6 L809.7 3034.0 L811.8 3034.4 L813.9 3034.8 L815.9 3035.2 L818.0 3035.6 L820.0 3036.0 L822.1 3036.4 L824.2 3036.7 L826.2 3037.1 L828.3 3037.5 L830.3 3037.9 L832.4 3038.3 L834.5 3038.6 L836.5 3039.0 L838.6 3039.4 L840.6 3039.7 L842.7 3040.1 L844.7 3040.5 L846.8 3040.8 L848.9 3041.2 L850.9 3041.5 L853.0 3041.9 L855.0 3042.2 L857.1 3042.6 L859.2 3042.9 L861.2 3043.3 L863.3 3043.6 L865.3 3044.0 L867.4 3044.3 L869.5 3044.7 L871.5 3045.0 L873.6 3045.3 L875.6 3045.7 L877.7 3046.0 L879.8 3046.3 L881.8 3046.6 L883.9 3047.0 L885.9 3047.3 L888.0 3047.6 L890.1 3047.9 L892.1 3048.2 L894.2 3048.6 L896.2 3048.9 L898.3 3049.2 L900.3 3049.5 L902.4 3049.8 L904.5 3050.1 L906.5 3050.4 L908.6 3050.7 L910.6 3051.0 L912.7 3051.3 L914.8 3051.6 L916.8 3051.9 L918.9 3052.2 L920.9 3052.5 L923.0 3052.8 L925.1 3053.1 L927.1 3053.3 L929.2 3053.6 L931.2 3053.9 L933.3 3054.2 L935.4 3054.5 L937.4 3054.7 L939.5 3055.0 L941.5 3055.3 L943.6 3055.6 L945.7 3055.8 L947.7 3056.1 L949.8 3056.4 L951.8 3056.7 L953.9 3056.9 L955.9 3057.2 L958.0 3057.4 L960.1 3057.7 L962.1 3058.0 L964.2 3058.2 L966.2 3058.5 L968.3 3058.7 L970.4 3059.0 L972.4 3059.3 L974.5 3059.5 L976.5 3059.8 L978.6 3060.0 L980.7 3060.3 L982.7 3060.5 L984.8 3060.8 L986.8 3061.0 L988.9 3061.3 L991.0 3061.5 L993.0 3061.7 L995.1 3062.0 L997.1 3062.2 L999.2 3062.5 L1001.3 3062.7 L1003.3 3063.0 L1005.4 3063.2 L1007.4 3063.4 L1009.5 3063.7 L1011.5 3063.9 L1013.6 3064.1 L1015.7 3064.4 L1017.7 3064.6 L1019.8 3064.8 L1021.8 3065.1 L1023.9 3065.3 L1026.0 3065.5 L1028.0 3065.8 L1030.1 3066.0 L1032.1 3066.2 L1034.2 3066.4 L1036.3 3066.7 L1038.3 3066.9 L1040.4 3067.1 L1042.4 3067.3 L1044.5 3067.5 L1046.6 3067.8 L1048.6 3068.0 L1050.7 3068.2 L1052.7 3068.4 L1054.8 3068.6 L1056.9 3068.9 L1058.9 3069.1 L1061.0 3069.3 L1063.0 3069.5 L1065.1 3069.7 L1067.1 3069.9 L1069.2 3070.2 L1071.3 3070.4 L1073.3 3070.6 L1075.4 3070.8 L1077.4 3071.0 L1079.5 3071.2 L1081.6 3071.4 L1083.6 3071.6 L1085.7 3071.8 L1087.7 3072.1 L1089.8 3072.3 L1091.9 3072.5 L1093.9 3072.7 L1096.0 3072.9 L1098.0 3073.1 L1100.1 3073.3 L1102.2 3073.5 L1104.2 3073.7 L1106.3 3073.9 L1108.3 3074.1 L1110.4 3074.3 L1112.5 3074.5 L1114.5 3074.7 L1116.6 3074.9 L1118.6 3075.1 L1120.7 3075.3 L1122.7 3075.5 L1124.8 3075.7 L1126.9 3075.9 L1128.9 3076.1 L1131.0 3076.2 L1133.0 3076.4 L1135.1 3076.6 L1137.2 3076.8 L1139.2 3077.0 L1141.3 3077.2 L1143.3 3077.4 L1145.4 3077.6 L1147.5 3077.7 L1149.5 3077.9 L1151.6 3078.1 L1153.6 3078.3 L1155.7 3078.5 L1157.8 3078.7 L1159.8 3078.8 L1161.9 3079.0 L1163.9 3079.2 L1166.0 3079.4 L1168.1 3079.6 L1170.1 3079.7 L1172.2 3079.9 L1174.2 3080.1 L1176.3 3080.3 L1178.3 3080.4 L1180.4 3080.6 L1182.5 3080.8 L1184.5 3080.9 L1186.6 3081.1 L1188.6 3081.3 L1190.7 3081.5 L1192.8 3081.6 L1194.8 3081.8 L1196.9 3082.0 L1198.9 3082.1 L1201.0 3082.3 L1203.1 3082.5 L1205.1 3082.6 L1207.2 3082.8 L1209.2 3083.0 L1211.3 3083.1 L1213.4 3083.3 L1215.4 3083.4 L1217.5 3083.6 L1219.5 3083.8 L1221.6 3083.9 L1223.7 3084.1 L1225.7 3084.2 L1227.8 3084.4 L1229.8 3084.6 L1231.9 3084.7 L1233.9 3084.9 L1236.0 3085.0 L1238.1 3085.2 L1240.1 3085.3 L1242.2 3085.5 L1244.2 3085.6 L1246.3 3085.8 L1248.4 3086.0 L1250.4 3086.1 L1252.5 3086.3 L1254.5 3086.4 L1256.6 3086.6 L1258.7 3086.7 L1260.7 3086.9 L1262.8 3087.0 L1264.8 3087.1 L1266.9 3087.3 L1269.0 3087.4 L1271.0 3087.6 L1273.1 3087.7 L1275.1 3087.9 L1277.2 3088.0 L1279.3 3088.2 L1281.3 3088.3 L1283.4 3088.5 L1285.4 3088.6 L1287.5 3088.7 L1289.5 3088.9 L1291.6 3089.0 L1293.7 3089.2 L1295.7 3089.3 L1297.8 3089.4 L1299.8 3089.6 L1301.9 3089.7 L1304.0 3089.8 L1306.0 3090.0 L1308.1 3090.1 L1310.1 3090.3 L1312.2 3090.4 L1314.3 3090.5 L1316.3 3090.7 L1318.4 3090.8 L1320.4 3090.9 L1322.5 3091.1 L1324.6 3091.2 L1326.6 3091.3 L1328.7 3091.5 L1330.7 3091.6 L1332.8 3091.7 L1334.9 3091.8 L1336.9 3092.0 L1339.0 3092.1 L1341.0 3092.2 L1343.1 3092.4 L1345.1 3092.5 L1347.2 3092.6 L1349.3 3092.7 L1351.3 3092.9 L1353.4 3093.0 L1355.4 3093.1 L1357.5 3093.2 L1359.6 3093.4 L1361.6 3093.5 L1363.7 3093.6 L1365.7 3093.7 L1367.8 3093.9 L1369.9 3094.0 L1371.9 3094.1 L1374.0 3094.2 L1376.0 3094.3 L1378.1 3094.5 L1380.2 3094.6 L1382.2 3094.7 L1384.3 3094.8 L1386.3 3094.9 L1388.4 3095.1 L1390.5 3095.2 L1392.5 3095.3 L1394.6 3095.4 L1396.6 3095.5 L1398.7 3095.6 L1400.7 3095.7 L1402.8 3095.9 L1404.9 3096.0 L1406.9 3096.1 L1409.0 3096.2 L1411.0 3096.3 L1413.1 3096.4 L1415.2 3096.5 L1417.2 3096.7 L1419.3 3096.8 L1421.3 3096.9 L1423.4 3097.0 L1425.5 3097.1 L1427.5 3097.2 L1429.6 3097.3 L1431.6 3097.4 L1433.7 3097.5 L1435.8 3097.6 L1437.8 3097.8 L1439.9 3097.9 L1441.9 3098.0 L1444.0 3098.1 L1446.1 3098.2 L1448.1 3098.3 L1450.2 3098.4 L1452.2 3098.5 L1454.3 3098.6 L1456.3 3098.7 L1458.4 3098.8 L1460.5 3098.9 L1462.5 3099.0 L1464.6 3099.1 L1466.6 3099.2 L1468.7 3099.3 L1470.8 3099.4 L1472.8 3099.5 L1474.9 3099.6 L1476.9 3099.7 L1479.0 3099.8 L1481.1 3099.9 L1483.1 3100.0 L1485.2 3100.1 L1487.2 3100.2 L1489.3 3100.3 L1491.4 3100.4 L1493.4 3100.5 L1495.5 3100.6 L1497.5 3100.7 L1499.6 3100.8 L1501.7 3100.9 L1503.7 3101.0 L1505.8 3101.1 L1507.8 3101.2 L1509.9 3101.3 L1511.9 3101.4 L1514.0 3101.5 L1516.1 3101.6 L1518.1 3101.7 L1520.2 3101.8 L1522.2 3101.9 L1524.3 3102.0 L1526.4 3102.1 L1528.4 3102.2 L1530.5 3102.3 L1532.5 3102.4 L1534.6 3102.5 L1536.7 3102.6 L1538.7 3102.7 L1540.8 3102.8 L1542.8 3102.9 L1544.9 3103.0 L1547.0 3103.1 L1549.0 3103.2 L1551.1 3103.3 L1553.1 3103.4 L1555.2 3103.5 L1557.2 3103.6 L1559.3 3103.7 L1561.4 3103.8 L1563.4 3103.9 L1565.5 3104.0 L1567.5 3104.1 L1569.6 3104.2 L1571.7 3104.3 L1573.7 3104.4 L1575.8 3104.5 L1577.8 3104.6 L1579.9 3104.7 L1582.0 3104.8 L1584.0 3104.9 L1586.1 3105.0 L1588.1 3105.1 L1590.2 3105.2 L1592.3 3105.3 L1594.3 3105.4 L1596.4 3105.5 L1598.4 3105.6 L1600.5 3105.7 L1602.6 3105.8 L1604.6 3105.9 L1606.7 3106.0 L1608.7 3106.1 L1610.8 3106.2 L1612.8 3106.3 L1614.9 3106.4 L1617.0 3106.4 L1619.0 3106.5 L1621.1 3106.6 L1623.1 3106.7 L1625.2 3106.8 L1627.3 3106.9 L1629.3 3107.0 L1631.4 3107.1 L1633.4 3107.2 L1635.5 3107.2 L1637.6 3107.3 L1639.6 3107.4 L1641.7 3107.5 L1643.7 3107.6 L1645.8 3107.7 L1647.9 3107.8 L1649.9 3107.8 L1652.0 3107.9 L1654.0 3108.0 L1656.1 3108.1 L1658.2 3108.2 L1660.2 3108.2 L1662.3 3108.3 L1664.3 3108.4 L1666.4 3108.5 L1668.4 3108.6 L1670.5 3108.6 L1672.6 3108.7 L1674.6 3108.8 L1676.7 3108.8 L1678.7 3108.9 L1680.8 3109.0 L1682.9 3109.1 L1684.9 3109.1 L1687.0 3109.2 L1689.0 3109.3 L1691.1 3109.3 L1693.2 3109.4 L1695.2 3109.5 L1697.3 3109.5 L1699.3 3109.6 L1701.4 3109.7 L1703.5 3109.7 L1705.5 3109.8 L1707.6 3109.9 L1709.6 3109.9 L1711.7 3110.0 L1713.8 3110.0 L1715.8 3110.1 L1717.9 3110.1 L1719.9 3110.2 L1722.0 3110.3 L1724.0 3110.3 L1726.1 3110.4 L1728.2 3110.4 L1730.2 3110.5 L1732.3 3110.5 L1734.3 3110.6 L1736.4 3110.6 L1738.5 3110.7 L1740.5 3110.7 L1742.6 3110.8 L1744.6 3110.8 L1746.7 3110.9 L1748.8 3110.9 L1750.8 3110.9 L1752.9 3111.0 L1754.9 3111.0 L1757.0 3111.1 L1759.1 3111.1 L1761.1 3111.2 L1763.2 3111.2 L1765.2 3111.2 L1767.3 3111.3 L1769.4 3111.3 L1771.4 3111.4 L1773.5 3111.4 L1775.5 3111.4 L1777.6 3111.5 L1779.6 3111.5 L1781.7 3111.6 L1783.8 3111.6 L1785.8 3111.6 L1787.9 3111.7 L1789.9 3111.7 L1792.0 3111.7 L1794.1 3111.8 L1796.1 3111.8 L1798.2 3111.9 L1800.2 3111.9 L1802.3 3111.9 L1804.4 3112.0 L1806.4 3112.0 L1808.5 3112.0 L1810.5 3112.0 L1812.6 3112.1 L1814.7 3112.1 L1816.7 3112.1 L1818.8 3112.2 L1820.8 3112.2 L1822.9 3112.2 L1825.0 3112.3 L1827.0 3112.3 L1829.1 3112.3 L1831.1 3112.3 L1833.2 3112.4 L1835.2 3112.4 L1837.3 3112.4 L1839.4 3112.4 L1841.4 3112.5 L1843.5 3112.5 L1845.5 3112.5 L1847.6 3112.5 L1849.7 3112.6 L1851.7 3112.6 L1853.8 3112.6 L1855.8 3112.6 L1857.9 3112.7 L1860.0 3112.7 L1862.0 3112.7 L1864.1 3112.7 L1866.1 3112.7 L1868.2 3112.8 L1870.3 3112.8 L1872.3 3112.8 L1874.4 3112.8 L1876.4 3112.8 L1878.5 3112.9 L1880.6 3112.9 L1882.6 3112.9 L1884.7 3112.9 L1886.7 3112.9 L1888.8 3113.0 L1890.8 3113.0 L1892.9 3113.0 L1895.0 3113.0 L1897.0 3113.0 L1899.1 3113.0 L1901.1 3113.0 L1903.2 3113.1 L1905.3 3113.1 L1907.3 3113.1 L1909.4 3113.1 L1911.4 3113.1 L1913.5 3113.1" fill="none" stroke="#ff0000" stroke-width="11" stroke-linejoin="round" stroke-miterlimit="10" stroke-dasharray="31 7 16 7"/>
</g>
<text transform="translate(66.0,2542.8) rotate(-90)" font-family='"Liberation Serif", "Times New Roman", serif' font-size="62.5" fill="#262626">N<tspan dy="31" font-size="49">sps</tspan></text>
<rect x="1525.6" y="1895.7" width="339.4" height="372.7" fill="#fff" stroke="#262626" stroke-width="3" shape-rendering="crispEdges"/>
<line x1="1540.8" y1="1947.5" x2="1694.2" y2="1947.5" stroke="#000000" stroke-width="11" shape-rendering="crispEdges"/>
<text y="1957.1" font-family='"Liberation Serif", "Times New Roman", serif' font-size="55" fill="#000"><tspan x="1705.0">R</tspan><tspan dy="27" font-size="45.5">c</tspan><tspan x="1779.6" dy="-27">1/2</tspan></text>
<line x1="1540.8" y1="2037.2" x2="1694.2" y2="2037.2" stroke="#0000ff" stroke-width="11" stroke-dasharray="31 30" shape-rendering="crispEdges"/>
<text y="2046.8" font-family='"Liberation Serif", "Times New Roman", serif' font-size="55" fill="#000"><tspan x="1705.0">R</tspan><tspan dy="27" font-size="45.5">c</tspan><tspan x="1779.6" dy="-27">2/3</tspan></text>
<line x1="1540.8" y1="2126.9" x2="1694.2" y2="2126.9" stroke="#00ff00" stroke-width="11" shape-rendering="crispEdges"/>
<text y="2136.5" font-family='"Liberation Serif", "Times New Roman", serif' font-size="55" fill="#000"><tspan x="1705.0">R</tspan><tspan dy="27" font-size="45.5">c</tspan><tspan x="1779.6" dy="-27">3/4</tspan></text>
<line x1="1540.8" y1="2216.6" x2="1694.2" y2="2216.6" stroke="#ff0000" stroke-width="11" stroke-dasharray="31 7 16 7" shape-rendering="crispEdges"/>
<text y="2226.2" font-family='"Liberation Serif", "Times New Roman", serif' font-size="55" fill="#000"><tspan x="1705.0">R</tspan><tspan dy="27" font-size="45.5">c</tspan><tspan x="1779.6" dy="-27">5/6</tspan></text>
<g shape-rendering="crispEdges">
<ellipse cx="707.3" cy="2763.9" rx="72.3" ry="36.5" fill="none" stroke="#000" stroke-width="3.6"/>
<ellipse cx="686.3" cy="2877.5" rx="58.8" ry="37.2" fill="none" stroke="#000" stroke-width="3.6"/>
<ellipse cx="710.2" cy="2990.2" rx="102" ry="37.9" fill="none" stroke="#000" stroke-width="3.6"/>
<line x1="960.9" y1="2634.5" x2="804.1" y2="2724.1" stroke="#000" stroke-width="3.2"/><path d="M769.4 2743.9 L807.7 2700.1 L804.1 2724.1 L826.6 2733.1Z" fill="#000"/>
<line x1="960.9" y1="2812.7" x2="785.5" y2="2858.6" stroke="#000" stroke-width="3.2"/><path d="M746.8 2868.7 L795.2 2836.4 L785.5 2858.6 L804.8 2873.2Z" fill="#000"/>
<line x1="531.4" y1="3075.6" x2="624.7" y2="3034.8" stroke="#000" stroke-width="3.2"/><path d="M661.3 3018.8 L618.5 3058.2 L624.7 3034.8 L603.3 3023.4Z" fill="#000"/>
</g>
<text x="964.32 994.54" y="2630" font-family='"Liberation Serif", "Times New Roman", serif' font-size="62" fill="#000">k’</text>
<text transform="translate(1032.37,2630) scale(1.46,1)" font-family='"Liberation Serif", "Times New Roman", serif' font-size="62" fill="#000">=</text>
<text x="1101.04 1132.61 1148.84 1178.92" y="2630" font-family='"Liberation Serif", "Times New Roman", serif' font-size="62" fill="#000">0.8k</text>
<text x="968.32 998.54" y="2816" font-family='"Liberation Serif", "Times New Roman", serif' font-size="62" fill="#000">k’</text>
<text transform="translate(1036.37,2816) scale(1.46,1)" font-family='"Liberation Serif", "Times New Roman", serif' font-size="62" fill="#000">=</text>
<text x="1105.04 1136.61 1153.22 1182.92" y="2816" font-family='"Liberation Serif", "Times New Roman", serif' font-size="62" fill="#000">0.9k</text>
<text x="350.12 380.84" y="3101.4" font-family='"Liberation Serif", "Times New Roman", serif' font-size="62" fill="#000">k’</text>
<text transform="translate(418.07,3101.4) scale(1.46,1)" font-family='"Liberation Serif", "Times New Roman", serif' font-size="62" fill="#000">=</text>
<text x="487.02" y="3101.4" font-family='"Liberation Serif", "Times New Roman", serif' font-size="62" fill="#000">k</text>
<text y="1479.5" font-family='"Liberation Serif", "Times New Roman", serif' font-size="62" fill="#262626"><tspan x="1003.1">S</tspan><tspan x="1039.2" dy="29" font-size="45.5">g</tspan><tspan x="1082.2" dy="-29" font-size="60">[dB]</tspan></text>
<text y="3282.5" font-family='"Liberation Serif", "Times New Roman", serif' font-size="62" fill="#262626"><tspan x="993.0">S</tspan><tspan x="1029.1" dy="29" font-size="45.5">g</tspan><tspan x="1072.1" dy="-29" font-size="60">[dB]</tspan></text>
<text y="1620.8" font-family='"Liberation Serif", "Times New Roman", serif' font-size="85.5" fill="#000"><tspan x="1015.0">(</tspan><tspan x="1041.4" font-weight="bold">a</tspan><tspan x="1083.1">)</tspan></text>
<text y="3424.6" font-family='"Liberation Serif", "Times New Roman", serif' font-size="85.5" fill="#000"><tspan x="1000.0">(</tspan><tspan x="1025.9" font-weight="bold">b</tspan><tspan x="1077.2">)</tspan></text>
</svg></body></html>
